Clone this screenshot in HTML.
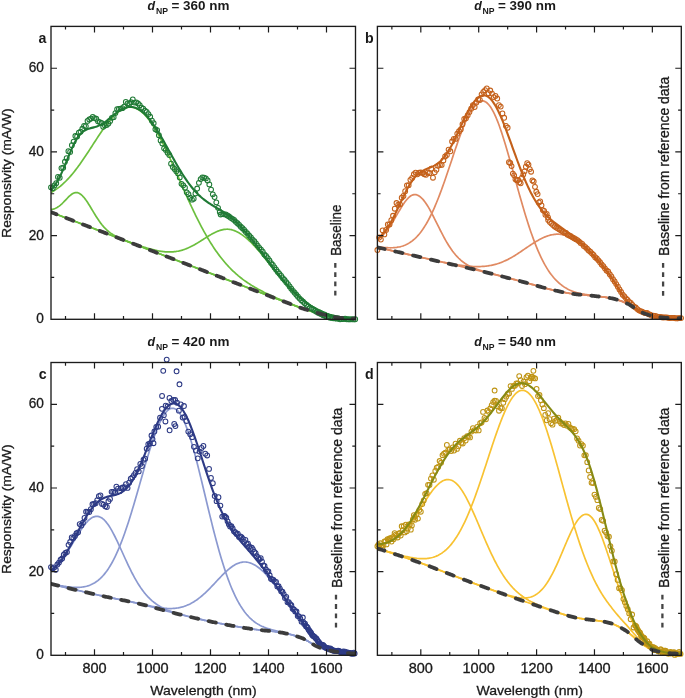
<!DOCTYPE html>
<html><head><meta charset="utf-8"><style>
html,body{margin:0;padding:0;background:#fff;width:685px;height:698px;overflow:hidden}
svg{display:block}
text{font-family:"Liberation Sans",sans-serif} svg{will-change:transform}
</style></head><body>
<svg width="685" height="698" viewBox="0 0 685 698">
<rect width="685" height="698" fill="#fff"/>
<clipPath id="clipa"><rect x="51.0" y="26.4" width="304.5" height="295.90000000000003"/></clipPath>
<g clip-path="url(#clipa)" fill="none" stroke-linejoin="round">
<path d="M51.00,212.18 L52.02,212.57 L53.04,212.96 L54.06,213.35 L55.07,213.74 L56.09,214.13 L57.11,214.52 L58.13,214.91 L59.15,215.30 L60.17,215.69 L61.18,216.08 L62.20,216.47 L63.22,216.87 L64.24,217.26 L65.26,217.65 L66.28,218.04 L67.29,218.43 L68.31,218.82 L69.33,219.21 L70.35,219.60 L71.37,219.99 L72.39,220.38 L73.40,220.77 L74.42,221.16 L75.44,221.55 L76.46,221.94 L77.48,222.33 L78.50,222.72 L79.52,223.11 L80.53,223.50 L81.55,223.89 L82.57,224.28 L83.59,224.67 L84.61,225.06 L85.63,225.45 L86.64,225.84 L87.66,226.23 L88.68,226.62 L89.70,227.01 L90.72,227.40 L91.74,227.79 L92.75,228.18 L93.77,228.57 L94.79,228.96 L95.81,229.35 L96.83,229.74 L97.85,230.13 L98.86,230.52 L99.88,230.91 L100.90,231.30 L101.92,231.70 L102.94,232.09 L103.96,232.48 L104.97,232.87 L105.99,233.26 L107.01,233.65 L108.03,234.04 L109.05,234.43 L110.07,234.82 L111.09,235.21 L112.10,235.60 L113.12,235.99 L114.14,236.38 L115.16,236.77 L116.18,237.16 L117.20,237.55 L118.21,237.94 L119.23,238.33 L120.25,238.72 L121.27,239.11 L122.29,239.50 L123.31,239.89 L124.32,240.28 L125.34,240.67 L126.36,241.06 L127.38,241.45 L128.40,241.84 L129.42,242.23 L130.43,242.62 L131.45,243.01 L132.47,243.40 L133.49,243.79 L134.51,244.19 L135.53,244.58 L136.55,244.97 L137.56,245.36 L138.58,245.75 L139.60,246.14 L140.62,246.53 L141.64,246.92 L142.66,247.31 L143.67,247.70 L144.69,248.09 L145.71,248.48 L146.73,248.87 L147.75,249.26 L148.77,249.65 L149.78,250.04 L150.80,250.43 L151.82,250.82 L152.84,251.21 L153.86,251.60 L154.88,251.99 L155.89,252.38 L156.91,252.77 L157.93,253.16 L158.95,253.55 L159.97,253.94 L160.99,254.33 L162.01,254.72 L163.02,255.11 L164.04,255.50 L165.06,255.90 L166.08,256.29 L167.10,256.68 L168.12,257.07 L169.13,257.46 L170.15,257.85 L171.17,258.24 L172.19,258.63 L173.21,259.02 L174.23,259.41 L175.24,259.80 L176.26,260.19 L177.28,260.58 L178.30,260.97 L179.32,261.36 L180.34,261.75 L181.35,262.14 L182.37,262.53 L183.39,262.92 L184.41,263.31 L185.43,263.70 L186.45,264.09 L187.46,264.48 L188.48,264.87 L189.50,265.26 L190.52,265.65 L191.54,266.05 L192.56,266.44 L193.58,266.83 L194.59,267.22 L195.61,267.61 L196.63,268.00 L197.65,268.39 L198.67,268.78 L199.69,269.17 L200.70,269.56 L201.72,269.95 L202.74,270.34 L203.76,270.73 L204.78,271.12 L205.80,271.51 L206.81,271.90 L207.83,272.29 L208.85,272.68 L209.87,273.07 L210.89,273.46 L211.91,273.85 L212.92,274.25 L213.94,274.64 L214.96,275.03 L215.98,275.42 L217.00,275.81 L218.02,276.20 L219.04,276.60 L220.05,276.99 L221.07,277.38 L222.09,277.77 L223.11,278.17 L224.13,278.56 L225.15,278.95 L226.16,279.35 L227.18,279.74 L228.20,280.14 L229.22,280.53 L230.24,280.92 L231.26,281.32 L232.27,281.71 L233.29,282.11 L234.31,282.50 L235.33,282.89 L236.35,283.29 L237.37,283.68 L238.38,284.08 L239.40,284.47 L240.42,284.86 L241.44,285.26 L242.46,285.65 L243.48,286.05 L244.49,286.44 L245.51,286.83 L246.53,287.23 L247.55,287.62 L248.57,288.01 L249.59,288.41 L250.61,288.80 L251.62,289.19 L252.64,289.59 L253.66,289.98 L254.68,290.37 L255.70,290.76 L256.72,291.15 L257.73,291.55 L258.75,291.94 L259.77,292.33 L260.79,292.72 L261.81,293.11 L262.83,293.50 L263.84,293.89 L264.86,294.28 L265.88,294.67 L266.90,295.06 L267.92,295.45 L268.94,295.83 L269.95,296.22 L270.97,296.61 L271.99,297.00 L273.01,297.38 L274.03,297.77 L275.05,298.16 L276.07,298.54 L277.08,298.93 L278.10,299.31 L279.12,299.69 L280.14,300.08 L281.16,300.46 L282.18,300.84 L283.19,301.23 L284.21,301.61 L285.23,301.99 L286.25,302.37 L287.27,302.75 L288.29,303.13 L289.30,303.52 L290.32,303.90 L291.34,304.29 L292.36,304.68 L293.38,305.07 L294.40,305.46 L295.41,305.84 L296.43,306.23 L297.45,306.61 L298.47,306.99 L299.49,307.36 L300.51,307.73 L301.53,308.09 L302.54,308.45 L303.56,308.80 L304.58,309.15 L305.60,309.48 L306.62,309.81 L307.64,310.13 L308.65,310.45 L309.67,310.76 L310.69,311.06 L311.71,311.37 L312.73,311.66 L313.75,311.96 L314.76,312.24 L315.78,312.53 L316.80,312.81 L317.82,313.09 L318.84,313.36 L319.86,313.64 L320.87,313.91 L321.89,314.18 L322.91,314.46 L323.93,314.74 L324.95,315.02 L325.97,315.29 L326.98,315.55 L328.00,315.81 L329.02,316.05 L330.04,316.28 L331.06,316.48 L332.08,316.67 L333.10,316.83 L334.11,316.99 L335.13,317.15 L336.15,317.30 L337.17,317.43 L338.19,317.57 L339.21,317.69 L340.22,317.80 L341.24,317.91 L342.26,318.00 L343.28,318.08 L344.30,318.16 L345.32,318.22 L346.33,318.29 L347.35,318.35 L348.37,318.41 L349.39,318.47 L350.41,318.52 L351.43,318.57 L352.44,318.60 L353.46,318.64 L354.48,318.66 L355.50,318.67" stroke="#6cbf3e" stroke-width="1.7"/>
<path d="M51.00,209.46 L52.02,209.33 L53.04,209.12 L54.06,208.84 L55.07,208.47 L56.09,208.02 L57.11,207.47 L58.13,206.84 L59.15,206.13 L60.17,205.33 L61.18,204.45 L62.20,203.51 L63.22,202.51 L64.24,201.47 L65.26,200.40 L66.28,199.31 L67.29,198.24 L68.31,197.20 L69.33,196.22 L70.35,195.30 L71.37,194.49 L72.39,193.79 L73.40,193.23 L74.42,192.82 L75.44,192.59 L76.46,192.54 L77.48,192.68 L78.50,193.01 L79.52,193.52 L80.53,194.18 L81.55,195.00 L82.57,195.96 L83.59,197.06 L84.61,198.29 L85.63,199.62 L86.64,201.06 L87.66,202.58 L88.68,204.17 L89.70,205.82 L90.72,207.50 L91.74,209.20 L92.75,210.91 L93.77,212.61 L94.79,214.29 L95.81,215.93 L96.83,217.54 L97.85,219.09 L98.86,220.59 L99.88,222.02 L100.90,223.39 L101.92,224.69 L102.94,225.91 L103.96,227.07 L104.97,228.16 L105.99,229.17 L107.01,230.13 L108.03,231.02 L109.05,231.85 L110.07,232.63 L111.09,233.37 L112.10,234.05 L113.12,234.70 L114.14,235.31 L115.16,235.88 L116.18,236.43 L117.20,236.96 L118.21,237.46 L119.23,237.94 L120.25,238.41 L121.27,238.86 L122.29,239.30 L123.31,239.73 L124.32,240.16 L125.34,240.57 L126.36,240.99 L127.38,241.39 L128.40,241.80 L129.42,242.20 L130.43,242.60 L131.45,242.99 L132.47,243.39 L133.49,243.78 L134.51,244.18 L135.53,244.57 L136.55,244.96 L137.56,245.35 L138.58,245.74 L139.60,246.13 L140.62,246.53 L141.64,246.92 L142.66,247.31 L143.67,247.70 L144.69,248.09 L145.71,248.48 L146.73,248.87 L147.75,249.26 L148.77,249.65 L149.78,250.04 L150.80,250.43 L151.82,250.82 L152.84,251.21 L153.86,251.60 L154.88,251.99 L155.89,252.38 L156.91,252.77 L157.93,253.16 L158.95,253.55 L159.97,253.94 L160.99,254.33 L162.01,254.72 L163.02,255.11 L164.04,255.50 L165.06,255.90 L166.08,256.29 L167.10,256.68 L168.12,257.07 L169.13,257.46 L170.15,257.85 L171.17,258.24 L172.19,258.63 L173.21,259.02 L174.23,259.41 L175.24,259.80 L176.26,260.19 L177.28,260.58 L178.30,260.97 L179.32,261.36 L180.34,261.75 L181.35,262.14 L182.37,262.53 L183.39,262.92 L184.41,263.31 L185.43,263.70 L186.45,264.09 L187.46,264.48 L188.48,264.87 L189.50,265.26 L190.52,265.65 L191.54,266.05 L192.56,266.44 L193.58,266.83 L194.59,267.22 L195.61,267.61 L196.63,268.00 L197.65,268.39 L198.67,268.78 L199.69,269.17 L200.70,269.56 L201.72,269.95 L202.74,270.34 L203.76,270.73 L204.78,271.12 L205.80,271.51 L206.81,271.90 L207.83,272.29 L208.85,272.68 L209.87,273.07 L210.89,273.46 L211.91,273.85 L212.92,274.25 L213.94,274.64 L214.96,275.03 L215.98,275.42 L217.00,275.81 L218.02,276.20 L219.04,276.60 L220.05,276.99 L221.07,277.38 L222.09,277.77 L223.11,278.17 L224.13,278.56 L225.15,278.95 L226.16,279.35 L227.18,279.74 L228.20,280.14 L229.22,280.53 L230.24,280.92 L231.26,281.32 L232.27,281.71 L233.29,282.11 L234.31,282.50 L235.33,282.89 L236.35,283.29 L237.37,283.68 L238.38,284.08 L239.40,284.47 L240.42,284.86 L241.44,285.26 L242.46,285.65 L243.48,286.05 L244.49,286.44 L245.51,286.83 L246.53,287.23 L247.55,287.62 L248.57,288.01 L249.59,288.41 L250.61,288.80 L251.62,289.19 L252.64,289.59 L253.66,289.98 L254.68,290.37 L255.70,290.76 L256.72,291.15 L257.73,291.55 L258.75,291.94 L259.77,292.33 L260.79,292.72 L261.81,293.11 L262.83,293.50 L263.84,293.89 L264.86,294.28 L265.88,294.67 L266.90,295.06 L267.92,295.45 L268.94,295.83 L269.95,296.22 L270.97,296.61 L271.99,297.00 L273.01,297.38 L274.03,297.77 L275.05,298.16 L276.07,298.54 L277.08,298.93 L278.10,299.31 L279.12,299.69 L280.14,300.08 L281.16,300.46 L282.18,300.84 L283.19,301.23 L284.21,301.61 L285.23,301.99 L286.25,302.37 L287.27,302.75 L288.29,303.13 L289.30,303.52 L290.32,303.90 L291.34,304.29 L292.36,304.68 L293.38,305.07 L294.40,305.46 L295.41,305.84 L296.43,306.23 L297.45,306.61 L298.47,306.99 L299.49,307.36 L300.51,307.73 L301.53,308.09 L302.54,308.45 L303.56,308.80 L304.58,309.15 L305.60,309.48 L306.62,309.81 L307.64,310.13 L308.65,310.45 L309.67,310.76 L310.69,311.06 L311.71,311.37 L312.73,311.66 L313.75,311.96 L314.76,312.24 L315.78,312.53 L316.80,312.81 L317.82,313.09 L318.84,313.36 L319.86,313.64 L320.87,313.91 L321.89,314.18 L322.91,314.46 L323.93,314.74 L324.95,315.02 L325.97,315.29 L326.98,315.55 L328.00,315.81 L329.02,316.05 L330.04,316.28 L331.06,316.48 L332.08,316.67 L333.10,316.83 L334.11,316.99 L335.13,317.15 L336.15,317.30 L337.17,317.43 L338.19,317.57 L339.21,317.69 L340.22,317.80 L341.24,317.91 L342.26,318.00 L343.28,318.08 L344.30,318.16 L345.32,318.22 L346.33,318.29 L347.35,318.35 L348.37,318.41 L349.39,318.47 L350.41,318.52 L351.43,318.57 L352.44,318.60 L353.46,318.64 L354.48,318.66 L355.50,318.67" stroke="#6cbf3e" stroke-width="1.7"/>
<path d="M51.00,192.44 L52.02,191.90 L53.04,191.32 L54.06,190.70 L55.07,190.06 L56.09,189.38 L57.11,188.67 L58.13,187.92 L59.15,187.15 L60.17,186.33 L61.18,185.48 L62.20,184.60 L63.22,183.68 L64.24,182.73 L65.26,181.75 L66.28,180.73 L67.29,179.68 L68.31,178.59 L69.33,177.48 L70.35,176.33 L71.37,175.15 L72.39,173.93 L73.40,172.69 L74.42,171.42 L75.44,170.12 L76.46,168.79 L77.48,167.44 L78.50,166.06 L79.52,164.65 L80.53,163.23 L81.55,161.78 L82.57,160.31 L83.59,158.82 L84.61,157.32 L85.63,155.80 L86.64,154.27 L87.66,152.73 L88.68,151.17 L89.70,149.61 L90.72,148.04 L91.74,146.47 L92.75,144.90 L93.77,143.33 L94.79,141.76 L95.81,140.19 L96.83,138.64 L97.85,137.09 L98.86,135.56 L99.88,134.04 L100.90,132.53 L101.92,131.05 L102.94,129.59 L103.96,128.16 L104.97,126.75 L105.99,125.37 L107.01,124.02 L108.03,122.71 L109.05,121.44 L110.07,120.20 L111.09,119.01 L112.10,117.86 L113.12,116.76 L114.14,115.71 L115.16,114.70 L116.18,113.76 L117.20,112.86 L118.21,112.03 L119.23,111.25 L120.25,110.54 L121.27,109.89 L122.29,109.30 L123.31,108.78 L124.32,108.33 L125.34,107.95 L126.36,107.64 L127.38,107.40 L128.40,107.23 L129.42,107.14 L130.43,107.12 L131.45,107.18 L132.47,107.31 L133.49,107.52 L134.51,107.81 L135.53,108.17 L136.55,108.61 L137.56,109.12 L138.58,109.71 L139.60,110.37 L140.62,111.10 L141.64,111.91 L142.66,112.79 L143.67,113.74 L144.69,114.76 L145.71,115.86 L146.73,117.02 L147.75,118.25 L148.77,119.54 L149.78,120.90 L150.80,122.32 L151.82,123.81 L152.84,125.35 L153.86,126.95 L154.88,128.61 L155.89,130.32 L156.91,132.08 L157.93,133.89 L158.95,135.75 L159.97,137.66 L160.99,139.61 L162.01,141.60 L163.02,143.63 L164.04,145.70 L165.06,147.80 L166.08,149.93 L167.10,152.09 L168.12,154.28 L169.13,156.49 L170.15,158.73 L171.17,160.98 L172.19,163.25 L173.21,165.54 L174.23,167.84 L175.24,170.15 L176.26,172.46 L177.28,174.79 L178.30,177.11 L179.32,179.44 L180.34,181.76 L181.35,184.09 L182.37,186.41 L183.39,188.72 L184.41,191.02 L185.43,193.31 L186.45,195.59 L187.46,197.86 L188.48,200.11 L189.50,202.34 L190.52,204.55 L191.54,206.75 L192.56,208.92 L193.58,211.07 L194.59,213.19 L195.61,215.29 L196.63,217.36 L197.65,219.41 L198.67,221.42 L199.69,223.41 L200.70,225.37 L201.72,227.30 L202.74,229.20 L203.76,231.06 L204.78,232.90 L205.80,234.70 L206.81,236.47 L207.83,238.20 L208.85,239.91 L209.87,241.58 L210.89,243.21 L211.91,244.82 L212.92,246.39 L213.94,247.92 L214.96,249.43 L215.98,250.90 L217.00,252.34 L218.02,253.75 L219.04,255.12 L220.05,256.46 L221.07,257.78 L222.09,259.06 L223.11,260.31 L224.13,261.53 L225.15,262.72 L226.16,263.89 L227.18,265.02 L228.20,266.13 L229.22,267.21 L230.24,268.26 L231.26,269.29 L232.27,270.29 L233.29,271.27 L234.31,272.22 L235.33,273.15 L236.35,274.06 L237.37,274.94 L238.38,275.81 L239.40,276.65 L240.42,277.47 L241.44,278.27 L242.46,279.06 L243.48,279.82 L244.49,280.57 L245.51,281.30 L246.53,282.01 L247.55,282.71 L248.57,283.39 L249.59,284.06 L250.61,284.71 L251.62,285.35 L252.64,285.98 L253.66,286.59 L254.68,287.19 L255.70,287.78 L256.72,288.36 L257.73,288.93 L258.75,289.49 L259.77,290.04 L260.79,290.58 L261.81,291.11 L262.83,291.63 L263.84,292.15 L264.86,292.65 L265.88,293.15 L266.90,293.64 L267.92,294.13 L268.94,294.61 L269.95,295.08 L270.97,295.55 L271.99,296.01 L273.01,296.47 L274.03,296.92 L275.05,297.37 L276.07,297.81 L277.08,298.25 L278.10,298.68 L279.12,299.11 L280.14,299.54 L281.16,299.96 L282.18,300.38 L283.19,300.80 L284.21,301.22 L285.23,301.63 L286.25,302.04 L287.27,302.44 L288.29,302.85 L289.30,303.26 L290.32,303.66 L291.34,304.07 L292.36,304.48 L293.38,304.88 L294.40,305.28 L295.41,305.69 L296.43,306.08 L297.45,306.48 L298.47,306.86 L299.49,307.25 L300.51,307.63 L301.53,308.00 L302.54,308.37 L303.56,308.72 L304.58,309.07 L305.60,309.42 L306.62,309.75 L307.64,310.08 L308.65,310.40 L309.67,310.71 L310.69,311.02 L311.71,311.33 L312.73,311.63 L313.75,311.92 L314.76,312.22 L315.78,312.50 L316.80,312.79 L317.82,313.07 L318.84,313.35 L319.86,313.62 L320.87,313.89 L321.89,314.17 L322.91,314.45 L323.93,314.73 L324.95,315.01 L325.97,315.28 L326.98,315.55 L328.00,315.80 L329.02,316.05 L330.04,316.27 L331.06,316.48 L332.08,316.66 L333.10,316.83 L334.11,316.99 L335.13,317.14 L336.15,317.29 L337.17,317.43 L338.19,317.56 L339.21,317.69 L340.22,317.80 L341.24,317.91 L342.26,318.00 L343.28,318.08 L344.30,318.15 L345.32,318.22 L346.33,318.29 L347.35,318.35 L348.37,318.41 L349.39,318.47 L350.41,318.52 L351.43,318.57 L352.44,318.60 L353.46,318.63 L354.48,318.66 L355.50,318.67" stroke="#6cbf3e" stroke-width="1.7"/>
<path d="M51.00,212.18 L52.02,212.57 L53.04,212.96 L54.06,213.35 L55.07,213.74 L56.09,214.13 L57.11,214.52 L58.13,214.91 L59.15,215.30 L60.17,215.69 L61.18,216.08 L62.20,216.47 L63.22,216.87 L64.24,217.26 L65.26,217.65 L66.28,218.04 L67.29,218.43 L68.31,218.82 L69.33,219.21 L70.35,219.60 L71.37,219.99 L72.39,220.38 L73.40,220.77 L74.42,221.16 L75.44,221.55 L76.46,221.94 L77.48,222.33 L78.50,222.72 L79.52,223.11 L80.53,223.50 L81.55,223.89 L82.57,224.28 L83.59,224.67 L84.61,225.06 L85.63,225.45 L86.64,225.84 L87.66,226.23 L88.68,226.62 L89.70,227.01 L90.72,227.40 L91.74,227.79 L92.75,228.18 L93.77,228.57 L94.79,228.96 L95.81,229.35 L96.83,229.74 L97.85,230.13 L98.86,230.52 L99.88,230.91 L100.90,231.30 L101.92,231.69 L102.94,232.08 L103.96,232.47 L104.97,232.86 L105.99,233.25 L107.01,233.64 L108.03,234.03 L109.05,234.41 L110.07,234.80 L111.09,235.19 L112.10,235.58 L113.12,235.97 L114.14,236.35 L115.16,236.74 L116.18,237.13 L117.20,237.51 L118.21,237.90 L119.23,238.28 L120.25,238.67 L121.27,239.05 L122.29,239.43 L123.31,239.81 L124.32,240.20 L125.34,240.57 L126.36,240.95 L127.38,241.33 L128.40,241.71 L129.42,242.08 L130.43,242.45 L131.45,242.82 L132.47,243.19 L133.49,243.55 L134.51,243.92 L135.53,244.28 L136.55,244.63 L137.56,244.99 L138.58,245.34 L139.60,245.68 L140.62,246.03 L141.64,246.36 L142.66,246.70 L143.67,247.02 L144.69,247.35 L145.71,247.66 L146.73,247.97 L147.75,248.27 L148.77,248.57 L149.78,248.85 L150.80,249.13 L151.82,249.40 L152.84,249.66 L153.86,249.91 L154.88,250.15 L155.89,250.37 L156.91,250.59 L157.93,250.79 L158.95,250.98 L159.97,251.15 L160.99,251.31 L162.01,251.45 L163.02,251.58 L164.04,251.69 L165.06,251.78 L166.08,251.86 L167.10,251.91 L168.12,251.95 L169.13,251.96 L170.15,251.96 L171.17,251.93 L172.19,251.88 L173.21,251.81 L174.23,251.71 L175.24,251.59 L176.26,251.45 L177.28,251.28 L178.30,251.09 L179.32,250.87 L180.34,250.62 L181.35,250.36 L182.37,250.06 L183.39,249.74 L184.41,249.40 L185.43,249.03 L186.45,248.63 L187.46,248.21 L188.48,247.77 L189.50,247.31 L190.52,246.82 L191.54,246.31 L192.56,245.78 L193.58,245.23 L194.59,244.67 L195.61,244.09 L196.63,243.49 L197.65,242.88 L198.67,242.26 L199.69,241.62 L200.70,240.98 L201.72,240.34 L202.74,239.69 L203.76,239.04 L204.78,238.38 L205.80,237.74 L206.81,237.09 L207.83,236.46 L208.85,235.83 L209.87,235.22 L210.89,234.62 L211.91,234.04 L212.92,233.48 L213.94,232.95 L214.96,232.44 L215.98,231.96 L217.00,231.51 L218.02,231.09 L219.04,230.71 L220.05,230.37 L221.07,230.07 L222.09,229.81 L223.11,229.60 L224.13,229.43 L225.15,229.31 L226.16,229.24 L227.18,229.22 L228.20,229.25 L229.22,229.34 L230.24,229.48 L231.26,229.68 L232.27,229.94 L233.29,230.25 L234.31,230.61 L235.33,231.03 L236.35,231.49 L237.37,231.99 L238.38,232.53 L239.40,233.11 L240.42,233.73 L241.44,234.39 L242.46,235.09 L243.48,235.83 L244.49,236.61 L245.51,237.42 L246.53,238.27 L247.55,239.15 L248.57,240.07 L249.59,241.02 L250.61,242.00 L251.62,243.00 L252.64,244.04 L253.66,245.11 L254.68,246.20 L255.70,247.31 L256.72,248.45 L257.73,249.60 L258.75,250.78 L259.77,251.97 L260.79,253.18 L261.81,254.40 L262.83,255.64 L263.84,256.88 L264.86,258.14 L265.88,259.40 L266.90,260.67 L267.92,261.95 L268.94,263.22 L269.95,264.50 L270.97,265.78 L271.99,267.06 L273.01,268.33 L274.03,269.60 L275.05,270.87 L276.07,272.13 L277.08,273.38 L278.10,274.62 L279.12,275.85 L280.14,277.07 L281.16,278.28 L282.18,279.47 L283.19,280.65 L284.21,281.82 L285.23,282.97 L286.25,284.11 L287.27,285.23 L288.29,286.33 L289.30,287.42 L290.32,288.50 L291.34,289.56 L292.36,290.60 L293.38,291.62 L294.40,292.63 L295.41,293.61 L296.43,294.58 L297.45,295.52 L298.47,296.44 L299.49,297.34 L300.51,298.21 L301.53,299.06 L302.54,299.89 L303.56,300.69 L304.58,301.47 L305.60,302.22 L306.62,302.95 L307.64,303.65 L308.65,304.34 L309.67,305.00 L310.69,305.64 L311.71,306.26 L312.73,306.86 L313.75,307.44 L314.76,308.00 L315.78,308.55 L316.80,309.08 L317.82,309.60 L318.84,310.10 L319.86,310.58 L320.87,311.05 L321.89,311.51 L322.91,311.97 L323.93,312.42 L324.95,312.86 L325.97,313.28 L326.98,313.68 L328.00,314.07 L329.02,314.44 L330.04,314.78 L331.06,315.10 L332.08,315.38 L333.10,315.64 L334.11,315.89 L335.13,316.13 L336.15,316.36 L337.17,316.57 L338.19,316.77 L339.21,316.96 L340.22,317.13 L341.24,317.29 L342.26,317.43 L343.28,317.56 L344.30,317.67 L345.32,317.78 L346.33,317.89 L347.35,317.98 L348.37,318.08 L349.39,318.16 L350.41,318.24 L351.43,318.31 L352.44,318.37 L353.46,318.42 L354.48,318.46 L355.50,318.50" stroke="#6cbf3e" stroke-width="1.7"/>
</g>
<g fill="none" stroke="#1f7a35" stroke-width="1.05">
<circle cx="51.00" cy="187.34" r="2.4"/>
<circle cx="52.74" cy="188.22" r="2.4"/>
<circle cx="54.48" cy="185.39" r="2.4"/>
<circle cx="56.22" cy="183.13" r="2.4"/>
<circle cx="57.96" cy="176.88" r="2.4"/>
<circle cx="59.70" cy="177.75" r="2.4"/>
<circle cx="61.44" cy="168.05" r="2.4"/>
<circle cx="63.18" cy="167.65" r="2.4"/>
<circle cx="64.92" cy="161.77" r="2.4"/>
<circle cx="66.66" cy="158.17" r="2.4"/>
<circle cx="68.40" cy="151.17" r="2.4"/>
<circle cx="70.14" cy="151.91" r="2.4"/>
<circle cx="71.88" cy="145.20" r="2.4"/>
<circle cx="73.62" cy="141.58" r="2.4"/>
<circle cx="75.36" cy="136.03" r="2.4"/>
<circle cx="77.10" cy="136.42" r="2.4"/>
<circle cx="78.84" cy="132.66" r="2.4"/>
<circle cx="80.58" cy="131.72" r="2.4"/>
<circle cx="82.32" cy="128.77" r="2.4"/>
<circle cx="84.06" cy="125.89" r="2.4"/>
<circle cx="85.80" cy="126.14" r="2.4"/>
<circle cx="87.54" cy="120.89" r="2.4"/>
<circle cx="89.28" cy="119.45" r="2.4"/>
<circle cx="91.02" cy="118.62" r="2.4"/>
<circle cx="92.76" cy="116.93" r="2.4"/>
<circle cx="94.50" cy="118.12" r="2.4"/>
<circle cx="96.24" cy="118.78" r="2.4"/>
<circle cx="97.98" cy="121.34" r="2.4"/>
<circle cx="99.72" cy="122.10" r="2.4"/>
<circle cx="101.46" cy="123.03" r="2.4"/>
<circle cx="103.20" cy="126.77" r="2.4"/>
<circle cx="104.94" cy="125.48" r="2.4"/>
<circle cx="106.68" cy="124.94" r="2.4"/>
<circle cx="108.42" cy="123.55" r="2.4"/>
<circle cx="110.16" cy="121.05" r="2.4"/>
<circle cx="111.90" cy="117.82" r="2.4"/>
<circle cx="113.64" cy="117.19" r="2.4"/>
<circle cx="115.38" cy="113.11" r="2.4"/>
<circle cx="117.12" cy="109.19" r="2.4"/>
<circle cx="118.86" cy="108.80" r="2.4"/>
<circle cx="120.60" cy="108.57" r="2.4"/>
<circle cx="122.34" cy="108.13" r="2.4"/>
<circle cx="124.08" cy="106.64" r="2.4"/>
<circle cx="125.82" cy="101.95" r="2.4"/>
<circle cx="127.56" cy="103.43" r="2.4"/>
<circle cx="129.30" cy="103.71" r="2.4"/>
<circle cx="131.04" cy="102.29" r="2.4"/>
<circle cx="132.78" cy="99.49" r="2.4"/>
<circle cx="134.52" cy="102.61" r="2.4"/>
<circle cx="136.26" cy="102.31" r="2.4"/>
<circle cx="138.00" cy="103.41" r="2.4"/>
<circle cx="139.74" cy="105.20" r="2.4"/>
<circle cx="141.48" cy="107.68" r="2.4"/>
<circle cx="143.22" cy="108.57" r="2.4"/>
<circle cx="144.96" cy="110.61" r="2.4"/>
<circle cx="146.70" cy="111.88" r="2.4"/>
<circle cx="148.44" cy="114.12" r="2.4"/>
<circle cx="150.18" cy="116.76" r="2.4"/>
<circle cx="151.92" cy="120.64" r="2.4"/>
<circle cx="153.66" cy="123.17" r="2.4"/>
<circle cx="155.40" cy="129.28" r="2.4"/>
<circle cx="157.14" cy="130.18" r="2.4"/>
<circle cx="158.88" cy="135.20" r="2.4"/>
<circle cx="160.62" cy="140.42" r="2.4"/>
<circle cx="162.36" cy="143.38" r="2.4"/>
<circle cx="164.10" cy="148.37" r="2.4"/>
<circle cx="165.84" cy="149.90" r="2.4"/>
<circle cx="167.58" cy="152.67" r="2.4"/>
<circle cx="169.32" cy="155.04" r="2.4"/>
<circle cx="171.06" cy="163.63" r="2.4"/>
<circle cx="172.80" cy="167.04" r="2.4"/>
<circle cx="174.54" cy="168.97" r="2.4"/>
<circle cx="176.28" cy="171.26" r="2.4"/>
<circle cx="178.02" cy="173.42" r="2.4"/>
<circle cx="179.76" cy="177.38" r="2.4"/>
<circle cx="181.50" cy="183.87" r="2.4"/>
<circle cx="183.24" cy="185.37" r="2.4"/>
<circle cx="184.98" cy="187.63" r="2.4"/>
<circle cx="186.72" cy="192.32" r="2.4"/>
<circle cx="188.46" cy="194.24" r="2.4"/>
<circle cx="190.20" cy="197.76" r="2.4"/>
<circle cx="191.94" cy="199.69" r="2.4"/>
<circle cx="193.68" cy="198.74" r="2.4"/>
<circle cx="195.42" cy="193.47" r="2.4"/>
<circle cx="197.16" cy="188.51" r="2.4"/>
<circle cx="198.90" cy="182.82" r="2.4"/>
<circle cx="200.64" cy="179.05" r="2.4"/>
<circle cx="202.38" cy="177.48" r="2.4"/>
<circle cx="204.12" cy="177.72" r="2.4"/>
<circle cx="205.86" cy="178.44" r="2.4"/>
<circle cx="207.60" cy="180.47" r="2.4"/>
<circle cx="209.34" cy="184.40" r="2.4"/>
<circle cx="211.08" cy="189.60" r="2.4"/>
<circle cx="212.82" cy="194.32" r="2.4"/>
<circle cx="214.56" cy="197.07" r="2.4"/>
<circle cx="216.30" cy="202.36" r="2.4"/>
<circle cx="218.04" cy="207.87" r="2.4"/>
<circle cx="219.78" cy="212.01" r="2.4"/>
<circle cx="220.65" cy="214.50" r="2.4"/>
<circle cx="222.33" cy="214.18" r="2.4"/>
<circle cx="224.01" cy="214.32" r="2.4"/>
<circle cx="225.70" cy="214.40" r="2.4"/>
<circle cx="227.38" cy="215.49" r="2.4"/>
<circle cx="229.06" cy="216.47" r="2.4"/>
<circle cx="230.74" cy="217.84" r="2.4"/>
<circle cx="232.42" cy="218.80" r="2.4"/>
<circle cx="234.11" cy="220.01" r="2.4"/>
<circle cx="235.79" cy="221.81" r="2.4"/>
<circle cx="237.47" cy="223.26" r="2.4"/>
<circle cx="239.15" cy="224.83" r="2.4"/>
<circle cx="240.83" cy="226.74" r="2.4"/>
<circle cx="242.52" cy="228.19" r="2.4"/>
<circle cx="244.20" cy="229.88" r="2.4"/>
<circle cx="245.88" cy="231.99" r="2.4"/>
<circle cx="247.56" cy="233.61" r="2.4"/>
<circle cx="249.24" cy="235.77" r="2.4"/>
<circle cx="250.93" cy="237.48" r="2.4"/>
<circle cx="252.61" cy="239.72" r="2.4"/>
<circle cx="254.29" cy="241.27" r="2.4"/>
<circle cx="255.97" cy="243.43" r="2.4"/>
<circle cx="257.65" cy="245.58" r="2.4"/>
<circle cx="259.34" cy="247.80" r="2.4"/>
<circle cx="261.02" cy="249.58" r="2.4"/>
<circle cx="262.70" cy="251.60" r="2.4"/>
<circle cx="264.38" cy="254.38" r="2.4"/>
<circle cx="266.06" cy="256.01" r="2.4"/>
<circle cx="267.75" cy="258.09" r="2.4"/>
<circle cx="269.43" cy="260.53" r="2.4"/>
<circle cx="271.11" cy="263.07" r="2.4"/>
<circle cx="272.79" cy="264.99" r="2.4"/>
<circle cx="274.47" cy="267.41" r="2.4"/>
<circle cx="276.16" cy="269.70" r="2.4"/>
<circle cx="277.84" cy="271.99" r="2.4"/>
<circle cx="279.52" cy="273.83" r="2.4"/>
<circle cx="281.20" cy="275.90" r="2.4"/>
<circle cx="282.88" cy="278.20" r="2.4"/>
<circle cx="284.57" cy="280.03" r="2.4"/>
<circle cx="286.25" cy="282.28" r="2.4"/>
<circle cx="287.93" cy="284.12" r="2.4"/>
<circle cx="289.61" cy="286.48" r="2.4"/>
<circle cx="291.29" cy="288.70" r="2.4"/>
<circle cx="292.98" cy="290.82" r="2.4"/>
<circle cx="294.66" cy="292.74" r="2.4"/>
<circle cx="296.34" cy="294.78" r="2.4"/>
<circle cx="298.02" cy="296.73" r="2.4"/>
<circle cx="299.70" cy="298.55" r="2.4"/>
<circle cx="301.39" cy="300.24" r="2.4"/>
<circle cx="303.07" cy="301.76" r="2.4"/>
<circle cx="304.75" cy="303.37" r="2.4"/>
<circle cx="306.43" cy="304.76" r="2.4"/>
<circle cx="308.11" cy="306.25" r="2.4"/>
<circle cx="309.80" cy="307.88" r="2.4"/>
<circle cx="311.48" cy="308.51" r="2.4"/>
<circle cx="313.16" cy="309.47" r="2.4"/>
<circle cx="314.84" cy="310.87" r="2.4"/>
<circle cx="316.52" cy="311.86" r="2.4"/>
<circle cx="318.21" cy="312.72" r="2.4"/>
<circle cx="319.89" cy="313.53" r="2.4"/>
<circle cx="321.57" cy="314.28" r="2.4"/>
<circle cx="323.25" cy="315.23" r="2.4"/>
<circle cx="324.93" cy="315.85" r="2.4"/>
<circle cx="326.62" cy="316.63" r="2.4"/>
<circle cx="328.30" cy="317.06" r="2.4"/>
<circle cx="329.98" cy="317.68" r="2.4"/>
<circle cx="331.66" cy="317.88" r="2.4"/>
<circle cx="333.34" cy="318.26" r="2.4"/>
<circle cx="335.03" cy="318.30" r="2.4"/>
<circle cx="336.71" cy="318.63" r="2.4"/>
<circle cx="338.39" cy="318.46" r="2.4"/>
<circle cx="340.07" cy="319.27" r="2.4"/>
<circle cx="341.75" cy="319.15" r="2.4"/>
<circle cx="343.44" cy="318.94" r="2.4"/>
<circle cx="345.12" cy="318.74" r="2.4"/>
<circle cx="346.80" cy="319.28" r="2.4"/>
<circle cx="348.48" cy="319.29" r="2.4"/>
<circle cx="350.16" cy="319.38" r="2.4"/>
<circle cx="351.85" cy="319.15" r="2.4"/>
<circle cx="353.53" cy="319.42" r="2.4"/>
<circle cx="355.21" cy="319.23" r="2.4"/>
</g>
<g clip-path="url(#clipa)" fill="none" stroke-linejoin="round">
<path d="M51.00,189.72 L52.02,188.65 L53.04,187.48 L54.06,186.19 L55.07,184.79 L56.09,183.26 L57.11,181.62 L58.13,179.85 L59.15,177.97 L60.17,175.96 L61.18,173.85 L62.20,171.64 L63.22,169.33 L64.24,166.94 L65.26,164.50 L66.28,162.01 L67.29,159.50 L68.31,156.98 L69.33,154.49 L70.35,152.03 L71.37,149.65 L72.39,147.34 L73.40,145.15 L74.42,143.08 L75.44,141.16 L76.46,139.39 L77.48,137.79 L78.50,136.35 L79.52,135.07 L80.53,133.91 L81.55,132.89 L82.57,131.99 L83.59,131.21 L84.61,130.55 L85.63,129.97 L86.64,129.49 L87.66,129.08 L88.68,128.72 L89.70,128.41 L90.72,128.14 L91.74,127.88 L92.75,127.62 L93.77,127.36 L94.79,127.08 L95.81,126.77 L96.83,126.43 L97.85,126.05 L98.86,125.62 L99.88,125.14 L100.90,124.62 L101.92,124.04 L102.94,123.41 L103.96,122.74 L104.97,122.03 L105.99,121.28 L107.01,120.49 L108.03,119.68 L109.05,118.85 L110.07,118.00 L111.09,117.15 L112.10,116.29 L113.12,115.45 L114.14,114.61 L115.16,113.79 L116.18,113.00 L117.20,112.23 L118.21,111.50 L119.23,110.82 L120.25,110.17 L121.27,109.58 L122.29,109.04 L123.31,108.55 L124.32,108.12 L125.34,107.76 L126.36,107.45 L127.38,107.22 L128.40,107.05 L129.42,106.95 L130.43,106.92 L131.45,106.97 L132.47,107.08 L133.49,107.27 L134.51,107.53 L135.53,107.86 L136.55,108.27 L137.56,108.75 L138.58,109.30 L139.60,109.91 L140.62,110.60 L141.64,111.36 L142.66,112.18 L143.67,113.07 L144.69,114.02 L145.71,115.04 L146.73,116.12 L147.75,117.26 L148.77,118.46 L149.78,119.71 L150.80,121.02 L151.82,122.38 L152.84,123.80 L153.86,125.26 L154.88,126.76 L155.89,128.31 L156.91,129.89 L157.93,131.52 L158.95,133.18 L159.97,134.87 L160.99,136.59 L162.01,138.33 L163.02,140.10 L164.04,141.88 L165.06,143.69 L166.08,145.50 L167.10,147.33 L168.12,149.16 L169.13,151.00 L170.15,152.84 L171.17,154.67 L172.19,156.50 L173.21,158.33 L174.23,160.14 L175.24,161.94 L176.26,163.72 L177.28,165.49 L178.30,167.23 L179.32,168.95 L180.34,170.64 L181.35,172.30 L182.37,173.94 L183.39,175.54 L184.41,177.10 L185.43,178.64 L186.45,180.13 L187.46,181.59 L188.48,183.00 L189.50,184.38 L190.52,185.72 L191.54,187.01 L192.56,188.26 L193.58,189.47 L194.59,190.64 L195.61,191.77 L196.63,192.85 L197.65,193.90 L198.67,194.90 L199.69,195.87 L200.70,196.80 L201.72,197.69 L202.74,198.55 L203.76,199.37 L204.78,200.16 L205.80,200.92 L206.81,201.66 L207.83,202.37 L208.85,203.06 L209.87,203.72 L210.89,204.37 L211.91,205.00 L212.92,205.63 L213.94,206.24 L214.96,206.84 L215.98,207.44 L217.00,208.04 L218.02,208.64 L219.04,209.24 L220.05,209.85 L221.07,210.47 L222.09,211.10 L223.11,211.74 L224.13,212.40 L225.15,213.08 L226.16,213.78 L227.18,214.50 L228.20,215.25 L229.22,216.02 L230.24,216.82 L231.26,217.65 L232.27,218.52 L233.29,219.41 L234.31,220.34 L235.33,221.29 L236.35,222.26 L237.37,223.25 L238.38,224.26 L239.40,225.29 L240.42,226.34 L241.44,227.40 L242.46,228.49 L243.48,229.60 L244.49,230.73 L245.51,231.88 L246.53,233.05 L247.55,234.24 L248.57,235.44 L249.59,236.67 L250.61,237.91 L251.62,239.16 L252.64,240.43 L253.66,241.72 L254.68,243.02 L255.70,244.33 L256.72,245.66 L257.73,246.99 L258.75,248.33 L259.77,249.68 L260.79,251.04 L261.81,252.40 L262.83,253.77 L263.84,255.14 L264.86,256.51 L265.88,257.89 L266.90,259.26 L267.92,260.63 L268.94,262.00 L269.95,263.36 L270.97,264.72 L271.99,266.07 L273.01,267.42 L274.03,268.75 L275.05,270.08 L276.07,271.40 L277.08,272.70 L278.10,273.99 L279.12,275.27 L280.14,276.53 L281.16,277.78 L282.18,279.01 L283.19,280.23 L284.21,281.43 L285.23,282.61 L286.25,283.77 L287.27,284.92 L288.29,286.05 L289.30,287.16 L290.32,288.26 L291.34,289.34 L292.36,290.40 L293.38,291.44 L294.40,292.46 L295.41,293.45 L296.43,294.43 L297.45,295.39 L298.47,296.32 L299.49,297.23 L300.51,298.11 L301.53,298.97 L302.54,299.80 L303.56,300.61 L304.58,301.40 L305.60,302.16 L306.62,302.89 L307.64,303.60 L308.65,304.29 L309.67,304.95 L310.69,305.60 L311.71,306.22 L312.73,306.82 L313.75,307.41 L314.76,307.98 L315.78,308.53 L316.80,309.06 L317.82,309.58 L318.84,310.08 L319.86,310.56 L320.87,311.03 L321.89,311.50 L322.91,311.96 L323.93,312.41 L324.95,312.84 L325.97,313.27 L326.98,313.68 L328.00,314.06 L329.02,314.43 L330.04,314.78 L331.06,315.09 L332.08,315.38 L333.10,315.64 L334.11,315.89 L335.13,316.13 L336.15,316.35 L337.17,316.57 L338.19,316.77 L339.21,316.95 L340.22,317.13 L341.24,317.28 L342.26,317.43 L343.28,317.56 L344.30,317.67 L345.32,317.78 L346.33,317.88 L347.35,317.98 L348.37,318.07 L349.39,318.16 L350.41,318.24 L351.43,318.31 L352.44,318.37 L353.46,318.42 L354.48,318.46 L355.50,318.50" stroke="#1f7a35" stroke-width="2.1"/>
<path d="M51.00,212.18 L52.02,212.57 L53.04,212.96 L54.06,213.35 L55.07,213.74 L56.09,214.13 L57.11,214.52 L58.13,214.91 L59.15,215.30 L60.17,215.69 L61.18,216.08 L62.20,216.47 L63.22,216.87 L64.24,217.26 L65.26,217.65 L66.28,218.04 L67.29,218.43 L68.31,218.82 L69.33,219.21 L70.35,219.60 L71.37,219.99 L72.39,220.38 L73.40,220.77 L74.42,221.16 L75.44,221.55 L76.46,221.94 L77.48,222.33 L78.50,222.72 L79.52,223.11 L80.53,223.50 L81.55,223.89 L82.57,224.28 L83.59,224.67 L84.61,225.06 L85.63,225.45 L86.64,225.84 L87.66,226.23 L88.68,226.62 L89.70,227.01 L90.72,227.40 L91.74,227.79 L92.75,228.18 L93.77,228.57 L94.79,228.96 L95.81,229.35 L96.83,229.74 L97.85,230.13 L98.86,230.52 L99.88,230.91 L100.90,231.30 L101.92,231.70 L102.94,232.09 L103.96,232.48 L104.97,232.87 L105.99,233.26 L107.01,233.65 L108.03,234.04 L109.05,234.43 L110.07,234.82 L111.09,235.21 L112.10,235.60 L113.12,235.99 L114.14,236.38 L115.16,236.77 L116.18,237.16 L117.20,237.55 L118.21,237.94 L119.23,238.33 L120.25,238.72 L121.27,239.11 L122.29,239.50 L123.31,239.89 L124.32,240.28 L125.34,240.67 L126.36,241.06 L127.38,241.45 L128.40,241.84 L129.42,242.23 L130.43,242.62 L131.45,243.01 L132.47,243.40 L133.49,243.79 L134.51,244.19 L135.53,244.58 L136.55,244.97 L137.56,245.36 L138.58,245.75 L139.60,246.14 L140.62,246.53 L141.64,246.92 L142.66,247.31 L143.67,247.70 L144.69,248.09 L145.71,248.48 L146.73,248.87 L147.75,249.26 L148.77,249.65 L149.78,250.04 L150.80,250.43 L151.82,250.82 L152.84,251.21 L153.86,251.60 L154.88,251.99 L155.89,252.38 L156.91,252.77 L157.93,253.16 L158.95,253.55 L159.97,253.94 L160.99,254.33 L162.01,254.72 L163.02,255.11 L164.04,255.50 L165.06,255.90 L166.08,256.29 L167.10,256.68 L168.12,257.07 L169.13,257.46 L170.15,257.85 L171.17,258.24 L172.19,258.63 L173.21,259.02 L174.23,259.41 L175.24,259.80 L176.26,260.19 L177.28,260.58 L178.30,260.97 L179.32,261.36 L180.34,261.75 L181.35,262.14 L182.37,262.53 L183.39,262.92 L184.41,263.31 L185.43,263.70 L186.45,264.09 L187.46,264.48 L188.48,264.87 L189.50,265.26 L190.52,265.65 L191.54,266.05 L192.56,266.44 L193.58,266.83 L194.59,267.22 L195.61,267.61 L196.63,268.00 L197.65,268.39 L198.67,268.78 L199.69,269.17 L200.70,269.56 L201.72,269.95 L202.74,270.34 L203.76,270.73 L204.78,271.12 L205.80,271.51 L206.81,271.90 L207.83,272.29 L208.85,272.68 L209.87,273.07 L210.89,273.46 L211.91,273.85 L212.92,274.25 L213.94,274.64 L214.96,275.03 L215.98,275.42 L217.00,275.81 L218.02,276.20 L219.04,276.60 L220.05,276.99 L221.07,277.38 L222.09,277.77 L223.11,278.17 L224.13,278.56 L225.15,278.95 L226.16,279.35 L227.18,279.74 L228.20,280.14 L229.22,280.53 L230.24,280.92 L231.26,281.32 L232.27,281.71 L233.29,282.11 L234.31,282.50 L235.33,282.89 L236.35,283.29 L237.37,283.68 L238.38,284.08 L239.40,284.47 L240.42,284.86 L241.44,285.26 L242.46,285.65 L243.48,286.05 L244.49,286.44 L245.51,286.83 L246.53,287.23 L247.55,287.62 L248.57,288.01 L249.59,288.41 L250.61,288.80 L251.62,289.19 L252.64,289.59 L253.66,289.98 L254.68,290.37 L255.70,290.76 L256.72,291.15 L257.73,291.55 L258.75,291.94 L259.77,292.33 L260.79,292.72 L261.81,293.11 L262.83,293.50 L263.84,293.89 L264.86,294.28 L265.88,294.67 L266.90,295.06 L267.92,295.45 L268.94,295.83 L269.95,296.22 L270.97,296.61 L271.99,297.00 L273.01,297.38 L274.03,297.77 L275.05,298.16 L276.07,298.54 L277.08,298.93 L278.10,299.31 L279.12,299.69 L280.14,300.08 L281.16,300.46 L282.18,300.84 L283.19,301.23 L284.21,301.61 L285.23,301.99 L286.25,302.37 L287.27,302.75 L288.29,303.13 L289.30,303.52 L290.32,303.90 L291.34,304.29 L292.36,304.68 L293.38,305.07 L294.40,305.46 L295.41,305.84 L296.43,306.23 L297.45,306.61 L298.47,306.99 L299.49,307.36 L300.51,307.73 L301.53,308.09 L302.54,308.45 L303.56,308.80 L304.58,309.15 L305.60,309.48 L306.62,309.81 L307.64,310.13 L308.65,310.45 L309.67,310.76 L310.69,311.06 L311.71,311.37 L312.73,311.66 L313.75,311.96 L314.76,312.24 L315.78,312.53 L316.80,312.81 L317.82,313.09 L318.84,313.36 L319.86,313.64 L320.87,313.91 L321.89,314.18 L322.91,314.46 L323.93,314.74 L324.95,315.02 L325.97,315.29 L326.98,315.55 L328.00,315.81 L329.02,316.05 L330.04,316.28 L331.06,316.48 L332.08,316.67 L333.10,316.83 L334.11,316.99 L335.13,317.15 L336.15,317.30 L337.17,317.43 L338.19,317.57 L339.21,317.69 L340.22,317.80 L341.24,317.91 L342.26,318.00 L343.28,318.08 L344.30,318.16 L345.32,318.22 L346.33,318.29 L347.35,318.35 L348.37,318.41 L349.39,318.47 L350.41,318.52 L351.43,318.57 L352.44,318.60 L353.46,318.64 L354.48,318.66 L355.50,318.67" stroke="#3c3c3c" stroke-width="3.8" stroke-dasharray="7.4 10.5" stroke-linecap="round" stroke-dashoffset="1.5"/>
</g>
<rect x="51.0" y="26.4" width="304.5" height="292.90000000000003" fill="none" stroke="#1c1c1c" stroke-width="1.35"/>
<path d="M65.50,319.30 v-3.2 M65.50,26.40 v3.2 M94.50,319.30 v-6.0 M94.50,26.40 v6.0 M123.50,319.30 v-3.2 M123.50,26.40 v3.2 M152.50,319.30 v-6.0 M152.50,26.40 v6.0 M181.50,319.30 v-3.2 M181.50,26.40 v3.2 M210.50,319.30 v-6.0 M210.50,26.40 v6.0 M239.50,319.30 v-3.2 M239.50,26.40 v3.2 M268.50,319.30 v-6.0 M268.50,26.40 v6.0 M297.50,319.30 v-3.2 M297.50,26.40 v3.2 M326.50,319.30 v-6.0 M326.50,26.40 v6.0 M51.00,277.46 h3.2 M355.50,277.46 h-3.2 M51.00,235.61 h6.0 M355.50,235.61 h-6.0 M51.00,193.77 h3.2 M355.50,193.77 h-3.2 M51.00,151.93 h6.0 M355.50,151.93 h-6.0 M51.00,110.09 h3.2 M355.50,110.09 h-3.2 M51.00,68.24 h6.0 M355.50,68.24 h-6.0" stroke="#1c1c1c" stroke-width="1.2" fill="none"/>
<clipPath id="clipb"><rect x="377.4" y="26.4" width="303.9" height="295.90000000000003"/></clipPath>
<g clip-path="url(#clipb)" fill="none" stroke-linejoin="round">
<path d="M377.40,247.33 L378.42,247.56 L379.43,247.80 L380.45,248.03 L381.47,248.26 L382.48,248.50 L383.50,248.73 L384.51,248.96 L385.53,249.19 L386.55,249.43 L387.56,249.66 L388.58,249.89 L389.60,250.13 L390.61,250.36 L391.63,250.59 L392.65,250.83 L393.66,251.06 L394.68,251.29 L395.69,251.53 L396.71,251.76 L397.73,251.99 L398.74,252.22 L399.76,252.46 L400.78,252.69 L401.79,252.92 L402.81,253.16 L403.83,253.39 L404.84,253.62 L405.86,253.86 L406.88,254.09 L407.89,254.32 L408.91,254.56 L409.92,254.79 L410.94,255.02 L411.96,255.26 L412.97,255.49 L413.99,255.72 L415.01,255.96 L416.02,256.19 L417.04,256.42 L418.06,256.66 L419.07,256.89 L420.09,257.12 L421.10,257.36 L422.12,257.59 L423.14,257.82 L424.15,258.06 L425.17,258.29 L426.19,258.52 L427.20,258.76 L428.22,258.99 L429.24,259.22 L430.25,259.46 L431.27,259.69 L432.28,259.93 L433.30,260.16 L434.32,260.39 L435.33,260.62 L436.35,260.86 L437.37,261.09 L438.38,261.32 L439.40,261.55 L440.42,261.78 L441.43,262.01 L442.45,262.24 L443.47,262.47 L444.48,262.70 L445.50,262.93 L446.51,263.16 L447.53,263.39 L448.55,263.62 L449.56,263.84 L450.58,264.07 L451.60,264.30 L452.61,264.53 L453.63,264.76 L454.65,264.99 L455.66,265.22 L456.68,265.45 L457.69,265.68 L458.71,265.91 L459.73,266.14 L460.74,266.38 L461.76,266.61 L462.78,266.84 L463.79,267.07 L464.81,267.30 L465.83,267.54 L466.84,267.77 L467.86,268.01 L468.87,268.24 L469.89,268.48 L470.91,268.71 L471.92,268.95 L472.94,269.19 L473.96,269.43 L474.97,269.67 L475.99,269.91 L477.01,270.15 L478.02,270.39 L479.04,270.63 L480.06,270.88 L481.07,271.12 L482.09,271.37 L483.10,271.61 L484.12,271.86 L485.14,272.11 L486.15,272.36 L487.17,272.61 L488.19,272.86 L489.20,273.12 L490.22,273.37 L491.24,273.63 L492.25,273.88 L493.27,274.14 L494.28,274.40 L495.30,274.66 L496.32,274.91 L497.33,275.17 L498.35,275.43 L499.37,275.70 L500.38,275.96 L501.40,276.22 L502.42,276.48 L503.43,276.75 L504.45,277.01 L505.46,277.27 L506.48,277.54 L507.50,277.80 L508.51,278.07 L509.53,278.34 L510.55,278.60 L511.56,278.87 L512.58,279.13 L513.60,279.40 L514.61,279.67 L515.63,279.94 L516.65,280.20 L517.66,280.47 L518.68,280.74 L519.69,281.01 L520.71,281.27 L521.73,281.54 L522.74,281.81 L523.76,282.08 L524.78,282.35 L525.79,282.63 L526.81,282.91 L527.83,283.20 L528.84,283.48 L529.86,283.77 L530.87,284.06 L531.89,284.35 L532.91,284.64 L533.92,284.93 L534.94,285.22 L535.96,285.51 L536.97,285.80 L537.99,286.09 L539.01,286.38 L540.02,286.66 L541.04,286.95 L542.05,287.23 L543.07,287.51 L544.09,287.78 L545.10,288.06 L546.12,288.33 L547.14,288.59 L548.15,288.85 L549.17,289.11 L550.19,289.36 L551.20,289.60 L552.22,289.84 L553.24,290.08 L554.25,290.30 L555.27,290.53 L556.28,290.74 L557.30,290.96 L558.32,291.18 L559.33,291.40 L560.35,291.61 L561.37,291.82 L562.38,292.02 L563.40,292.23 L564.42,292.42 L565.43,292.62 L566.45,292.81 L567.46,292.99 L568.48,293.17 L569.50,293.33 L570.51,293.50 L571.53,293.65 L572.55,293.80 L573.56,293.94 L574.58,294.07 L575.60,294.19 L576.61,294.31 L577.63,294.41 L578.64,294.52 L579.66,294.62 L580.68,294.71 L581.69,294.81 L582.71,294.90 L583.73,294.99 L584.74,295.07 L585.76,295.16 L586.78,295.25 L587.79,295.34 L588.81,295.44 L589.83,295.53 L590.84,295.63 L591.86,295.74 L592.87,295.85 L593.89,295.97 L594.91,296.08 L595.92,296.19 L596.94,296.30 L597.96,296.41 L598.97,296.53 L599.99,296.64 L601.01,296.76 L602.02,296.88 L603.04,297.01 L604.05,297.14 L605.07,297.28 L606.09,297.42 L607.10,297.57 L608.12,297.73 L609.14,297.89 L610.15,298.07 L611.17,298.25 L612.19,298.45 L613.20,298.67 L614.22,298.91 L615.23,299.17 L616.25,299.46 L617.27,299.76 L618.28,300.08 L619.30,300.43 L620.32,300.78 L621.33,301.16 L622.35,301.54 L623.37,301.94 L624.38,302.35 L625.40,302.77 L626.42,303.20 L627.43,303.64 L628.45,304.15 L629.46,304.71 L630.48,305.32 L631.50,305.97 L632.51,306.65 L633.53,307.34 L634.55,308.04 L635.56,308.74 L636.58,309.43 L637.60,310.10 L638.61,310.74 L639.63,311.34 L640.64,311.88 L641.66,312.37 L642.68,312.79 L643.69,313.19 L644.71,313.57 L645.73,313.95 L646.74,314.31 L647.76,314.65 L648.78,314.97 L649.79,315.27 L650.81,315.54 L651.82,315.79 L652.84,316.02 L653.86,316.21 L654.87,316.39 L655.89,316.57 L656.91,316.74 L657.92,316.91 L658.94,317.07 L659.96,317.22 L660.97,317.36 L661.99,317.49 L663.01,317.61 L664.02,317.72 L665.04,317.82 L666.05,317.90 L667.07,317.97 L668.09,318.02 L669.10,318.05 L670.12,318.08 L671.14,318.11 L672.15,318.13 L673.17,318.16 L674.19,318.18 L675.20,318.20 L676.22,318.21 L677.23,318.23 L678.25,318.24 L679.27,318.25 L680.28,318.25 L681.30,318.25" stroke="#e08a62" stroke-width="1.7"/>
<path d="M377.40,239.50 L378.42,238.85 L379.43,238.13 L380.45,237.34 L381.47,236.47 L382.48,235.52 L383.50,234.50 L384.51,233.40 L385.53,232.22 L386.55,230.97 L387.56,229.64 L388.58,228.24 L389.60,226.78 L390.61,225.25 L391.63,223.67 L392.65,222.04 L393.66,220.36 L394.68,218.65 L395.69,216.92 L396.71,215.17 L397.73,213.42 L398.74,211.68 L399.76,209.95 L400.78,208.26 L401.79,206.61 L402.81,205.02 L403.83,203.49 L404.84,202.05 L405.86,200.71 L406.88,199.47 L407.89,198.34 L408.91,197.35 L409.92,196.50 L410.94,195.79 L411.96,195.24 L412.97,194.84 L413.99,194.62 L415.01,194.56 L416.02,194.68 L417.04,194.97 L418.06,195.40 L419.07,195.97 L420.09,196.69 L421.10,197.54 L422.12,198.53 L423.14,199.65 L424.15,200.89 L425.17,202.24 L426.19,203.71 L427.20,205.27 L428.22,206.93 L429.24,208.67 L430.25,210.48 L431.27,212.36 L432.28,214.29 L433.30,216.26 L434.32,218.27 L435.33,220.30 L436.35,222.35 L437.37,224.40 L438.38,226.44 L439.40,228.48 L440.42,230.50 L441.43,232.49 L442.45,234.44 L443.47,236.36 L444.48,238.24 L445.50,240.06 L446.51,241.83 L447.53,243.55 L448.55,245.20 L449.56,246.79 L450.58,248.32 L451.60,249.79 L452.61,251.19 L453.63,252.52 L454.65,253.79 L455.66,255.00 L456.68,256.14 L457.69,257.22 L458.71,258.25 L459.73,259.21 L460.74,260.12 L461.76,260.98 L462.78,261.79 L463.79,262.55 L464.81,263.26 L465.83,263.93 L466.84,264.57 L467.86,265.16 L468.87,265.73 L469.89,266.26 L470.91,266.76 L471.92,267.23 L472.94,267.68 L473.96,268.11 L474.97,268.52 L475.99,268.91 L477.01,269.28 L478.02,269.64 L479.04,269.98 L480.06,270.32 L481.07,270.64 L482.09,270.95 L483.10,271.26 L484.12,271.56 L485.14,271.85 L486.15,272.14 L487.17,272.43 L488.19,272.71 L489.20,272.99 L490.22,273.26 L491.24,273.53 L492.25,273.80 L493.27,274.07 L494.28,274.34 L495.30,274.61 L496.32,274.88 L497.33,275.14 L498.35,275.41 L499.37,275.67 L500.38,275.94 L501.40,276.21 L502.42,276.47 L503.43,276.74 L504.45,277.00 L505.46,277.27 L506.48,277.53 L507.50,277.80 L508.51,278.07 L509.53,278.33 L510.55,278.60 L511.56,278.87 L512.58,279.13 L513.60,279.40 L514.61,279.67 L515.63,279.94 L516.65,280.20 L517.66,280.47 L518.68,280.74 L519.69,281.00 L520.71,281.27 L521.73,281.54 L522.74,281.81 L523.76,282.08 L524.78,282.35 L525.79,282.63 L526.81,282.91 L527.83,283.20 L528.84,283.48 L529.86,283.77 L530.87,284.06 L531.89,284.35 L532.91,284.64 L533.92,284.93 L534.94,285.22 L535.96,285.51 L536.97,285.80 L537.99,286.09 L539.01,286.38 L540.02,286.66 L541.04,286.95 L542.05,287.23 L543.07,287.51 L544.09,287.78 L545.10,288.06 L546.12,288.33 L547.14,288.59 L548.15,288.85 L549.17,289.11 L550.19,289.36 L551.20,289.60 L552.22,289.84 L553.24,290.08 L554.25,290.30 L555.27,290.53 L556.28,290.74 L557.30,290.96 L558.32,291.18 L559.33,291.40 L560.35,291.61 L561.37,291.82 L562.38,292.02 L563.40,292.23 L564.42,292.42 L565.43,292.62 L566.45,292.81 L567.46,292.99 L568.48,293.17 L569.50,293.33 L570.51,293.50 L571.53,293.65 L572.55,293.80 L573.56,293.94 L574.58,294.07 L575.60,294.19 L576.61,294.31 L577.63,294.41 L578.64,294.52 L579.66,294.62 L580.68,294.71 L581.69,294.81 L582.71,294.90 L583.73,294.99 L584.74,295.07 L585.76,295.16 L586.78,295.25 L587.79,295.34 L588.81,295.44 L589.83,295.53 L590.84,295.63 L591.86,295.74 L592.87,295.85 L593.89,295.97 L594.91,296.08 L595.92,296.19 L596.94,296.30 L597.96,296.41 L598.97,296.53 L599.99,296.64 L601.01,296.76 L602.02,296.88 L603.04,297.01 L604.05,297.14 L605.07,297.28 L606.09,297.42 L607.10,297.57 L608.12,297.73 L609.14,297.89 L610.15,298.07 L611.17,298.25 L612.19,298.45 L613.20,298.67 L614.22,298.91 L615.23,299.17 L616.25,299.46 L617.27,299.76 L618.28,300.08 L619.30,300.43 L620.32,300.78 L621.33,301.16 L622.35,301.54 L623.37,301.94 L624.38,302.35 L625.40,302.77 L626.42,303.20 L627.43,303.64 L628.45,304.15 L629.46,304.71 L630.48,305.32 L631.50,305.97 L632.51,306.65 L633.53,307.34 L634.55,308.04 L635.56,308.74 L636.58,309.43 L637.60,310.10 L638.61,310.74 L639.63,311.34 L640.64,311.88 L641.66,312.37 L642.68,312.79 L643.69,313.19 L644.71,313.57 L645.73,313.95 L646.74,314.31 L647.76,314.65 L648.78,314.97 L649.79,315.27 L650.81,315.54 L651.82,315.79 L652.84,316.02 L653.86,316.21 L654.87,316.39 L655.89,316.57 L656.91,316.74 L657.92,316.91 L658.94,317.07 L659.96,317.22 L660.97,317.36 L661.99,317.49 L663.01,317.61 L664.02,317.72 L665.04,317.82 L666.05,317.90 L667.07,317.97 L668.09,318.02 L669.10,318.05 L670.12,318.08 L671.14,318.11 L672.15,318.13 L673.17,318.16 L674.19,318.18 L675.20,318.20 L676.22,318.21 L677.23,318.23 L678.25,318.24 L679.27,318.25 L680.28,318.25 L681.30,318.25" stroke="#e08a62" stroke-width="1.7"/>
<path d="M377.40,246.61 L378.42,246.76 L379.43,246.91 L380.45,247.05 L381.47,247.17 L382.48,247.29 L383.50,247.40 L384.51,247.50 L385.53,247.58 L386.55,247.65 L387.56,247.71 L388.58,247.75 L389.60,247.77 L390.61,247.78 L391.63,247.76 L392.65,247.73 L393.66,247.67 L394.68,247.59 L395.69,247.49 L396.71,247.36 L397.73,247.20 L398.74,247.02 L399.76,246.80 L400.78,246.55 L401.79,246.26 L402.81,245.94 L403.83,245.58 L404.84,245.18 L405.86,244.74 L406.88,244.25 L407.89,243.71 L408.91,243.13 L409.92,242.50 L410.94,241.81 L411.96,241.07 L412.97,240.28 L413.99,239.42 L415.01,238.51 L416.02,237.53 L417.04,236.49 L418.06,235.38 L419.07,234.21 L420.09,232.96 L421.10,231.65 L422.12,230.27 L423.14,228.81 L424.15,227.28 L425.17,225.67 L426.19,223.99 L427.20,222.23 L428.22,220.40 L429.24,218.49 L430.25,216.50 L431.27,214.44 L432.28,212.30 L433.30,210.09 L434.32,207.80 L435.33,205.45 L436.35,203.02 L437.37,200.53 L438.38,197.97 L439.40,195.35 L440.42,192.66 L441.43,189.93 L442.45,187.14 L443.47,184.30 L444.48,181.42 L445.50,178.49 L446.51,175.54 L447.53,172.55 L448.55,169.54 L449.56,166.51 L450.58,163.47 L451.60,160.43 L452.61,157.38 L453.63,154.34 L454.65,151.32 L455.66,148.32 L456.68,145.35 L457.69,142.41 L458.71,139.51 L459.73,136.67 L460.74,133.89 L461.76,131.17 L462.78,128.52 L463.79,125.96 L464.81,123.48 L465.83,121.10 L466.84,118.82 L467.86,116.65 L468.87,114.59 L469.89,112.66 L470.91,110.85 L471.92,109.18 L472.94,107.65 L473.96,106.26 L474.97,105.02 L475.99,103.94 L477.01,103.01 L478.02,102.24 L479.04,101.64 L480.06,101.21 L481.07,100.94 L482.09,100.84 L483.10,100.92 L484.12,101.17 L485.14,101.60 L486.15,102.22 L487.17,103.03 L488.19,104.03 L489.20,105.20 L490.22,106.56 L491.24,108.09 L492.25,109.79 L493.27,111.66 L494.28,113.69 L495.30,115.87 L496.32,118.21 L497.33,120.69 L498.35,123.30 L499.37,126.05 L500.38,128.91 L501.40,131.89 L502.42,134.98 L503.43,138.16 L504.45,141.43 L505.46,144.78 L506.48,148.21 L507.50,151.69 L508.51,155.24 L509.53,158.83 L510.55,162.45 L511.56,166.11 L512.58,169.79 L513.60,173.48 L514.61,177.18 L515.63,180.87 L516.65,184.56 L517.66,188.23 L518.68,191.87 L519.69,195.49 L520.71,199.07 L521.73,202.61 L522.74,206.10 L523.76,209.54 L524.78,212.93 L525.79,216.26 L526.81,219.53 L527.83,222.74 L528.84,225.87 L529.86,228.94 L530.87,231.92 L531.89,234.83 L532.91,237.66 L533.92,240.41 L534.94,243.08 L535.96,245.67 L536.97,248.17 L537.99,250.58 L539.01,252.91 L540.02,255.16 L541.04,257.32 L542.05,259.40 L543.07,261.39 L544.09,263.31 L545.10,265.14 L546.12,266.89 L547.14,268.57 L548.15,270.17 L549.17,271.69 L550.19,273.14 L551.20,274.52 L552.22,275.83 L553.24,277.07 L554.25,278.24 L555.27,279.36 L556.28,280.41 L557.30,281.42 L558.32,282.37 L559.33,283.27 L560.35,284.13 L561.37,284.93 L562.38,285.70 L563.40,286.42 L564.42,287.10 L565.43,287.74 L566.45,288.34 L567.46,288.91 L568.48,289.44 L569.50,289.94 L570.51,290.40 L571.53,290.84 L572.55,291.24 L573.56,291.62 L574.58,291.96 L575.60,292.28 L576.61,292.58 L577.63,292.85 L578.64,293.11 L579.66,293.35 L580.68,293.57 L581.69,293.78 L582.71,293.97 L583.73,294.15 L584.74,294.33 L585.76,294.49 L586.78,294.65 L587.79,294.81 L588.81,294.96 L589.83,295.11 L590.84,295.26 L591.86,295.40 L592.87,295.55 L593.89,295.70 L594.91,295.84 L595.92,295.98 L596.94,296.12 L597.96,296.25 L598.97,296.39 L599.99,296.52 L601.01,296.65 L602.02,296.79 L603.04,296.93 L604.05,297.07 L605.07,297.21 L606.09,297.36 L607.10,297.52 L608.12,297.68 L609.14,297.86 L610.15,298.04 L611.17,298.23 L612.19,298.43 L613.20,298.65 L614.22,298.89 L615.23,299.16 L616.25,299.45 L617.27,299.75 L618.28,300.08 L619.30,300.42 L620.32,300.78 L621.33,301.15 L622.35,301.54 L623.37,301.94 L624.38,302.35 L625.40,302.77 L626.42,303.20 L627.43,303.64 L628.45,304.15 L629.46,304.71 L630.48,305.32 L631.50,305.97 L632.51,306.65 L633.53,307.34 L634.55,308.04 L635.56,308.74 L636.58,309.43 L637.60,310.10 L638.61,310.74 L639.63,311.34 L640.64,311.88 L641.66,312.37 L642.68,312.79 L643.69,313.19 L644.71,313.57 L645.73,313.95 L646.74,314.31 L647.76,314.65 L648.78,314.97 L649.79,315.27 L650.81,315.54 L651.82,315.79 L652.84,316.02 L653.86,316.21 L654.87,316.39 L655.89,316.57 L656.91,316.74 L657.92,316.91 L658.94,317.07 L659.96,317.22 L660.97,317.36 L661.99,317.49 L663.01,317.61 L664.02,317.72 L665.04,317.82 L666.05,317.90 L667.07,317.97 L668.09,318.02 L669.10,318.05 L670.12,318.08 L671.14,318.11 L672.15,318.13 L673.17,318.16 L674.19,318.18 L675.20,318.20 L676.22,318.21 L677.23,318.23 L678.25,318.24 L679.27,318.25 L680.28,318.25 L681.30,318.25" stroke="#e08a62" stroke-width="1.7"/>
<path d="M377.40,247.33 L378.42,247.56 L379.43,247.80 L380.45,248.03 L381.47,248.26 L382.48,248.49 L383.50,248.73 L384.51,248.96 L385.53,249.19 L386.55,249.43 L387.56,249.66 L388.58,249.89 L389.60,250.13 L390.61,250.36 L391.63,250.59 L392.65,250.82 L393.66,251.06 L394.68,251.29 L395.69,251.52 L396.71,251.76 L397.73,251.99 L398.74,252.22 L399.76,252.46 L400.78,252.69 L401.79,252.92 L402.81,253.15 L403.83,253.39 L404.84,253.62 L405.86,253.85 L406.88,254.08 L407.89,254.32 L408.91,254.55 L409.92,254.78 L410.94,255.01 L411.96,255.25 L412.97,255.48 L413.99,255.71 L415.01,255.94 L416.02,256.17 L417.04,256.41 L418.06,256.64 L419.07,256.87 L420.09,257.10 L421.10,257.33 L422.12,257.56 L423.14,257.79 L424.15,258.02 L425.17,258.25 L426.19,258.48 L427.20,258.70 L428.22,258.93 L429.24,259.16 L430.25,259.39 L431.27,259.61 L432.28,259.84 L433.30,260.06 L434.32,260.28 L435.33,260.50 L436.35,260.72 L437.37,260.94 L438.38,261.16 L439.40,261.37 L440.42,261.58 L441.43,261.79 L442.45,262.00 L443.47,262.21 L444.48,262.41 L445.50,262.62 L446.51,262.82 L447.53,263.01 L448.55,263.21 L449.56,263.40 L450.58,263.59 L451.60,263.77 L452.61,263.96 L453.63,264.13 L454.65,264.31 L455.66,264.48 L456.68,264.65 L457.69,264.81 L458.71,264.97 L459.73,265.12 L460.74,265.26 L461.76,265.40 L462.78,265.54 L463.79,265.67 L464.81,265.79 L465.83,265.91 L466.84,266.01 L467.86,266.11 L468.87,266.20 L469.89,266.29 L470.91,266.36 L471.92,266.43 L472.94,266.48 L473.96,266.53 L474.97,266.56 L475.99,266.59 L477.01,266.60 L478.02,266.60 L479.04,266.59 L480.06,266.56 L481.07,266.52 L482.09,266.47 L483.10,266.41 L484.12,266.33 L485.14,266.23 L486.15,266.12 L487.17,265.99 L488.19,265.85 L489.20,265.69 L490.22,265.51 L491.24,265.32 L492.25,265.11 L493.27,264.88 L494.28,264.63 L495.30,264.36 L496.32,264.07 L497.33,263.77 L498.35,263.44 L499.37,263.10 L500.38,262.73 L501.40,262.35 L502.42,261.94 L503.43,261.52 L504.45,261.08 L505.46,260.62 L506.48,260.14 L507.50,259.64 L508.51,259.12 L509.53,258.59 L510.55,258.03 L511.56,257.46 L512.58,256.88 L513.60,256.28 L514.61,255.66 L515.63,255.03 L516.65,254.39 L517.66,253.73 L518.68,253.07 L519.69,252.39 L520.71,251.71 L521.73,251.02 L522.74,250.32 L523.76,249.62 L524.78,248.92 L525.79,248.22 L526.81,247.53 L527.83,246.83 L528.84,246.15 L529.86,245.46 L530.87,244.79 L531.89,244.12 L532.91,243.47 L533.92,242.82 L534.94,242.19 L535.96,241.57 L536.97,240.97 L537.99,240.39 L539.01,239.82 L540.02,239.27 L541.04,238.75 L542.05,238.25 L543.07,237.77 L544.09,237.31 L545.10,236.89 L546.12,236.49 L547.14,236.11 L548.15,235.77 L549.17,235.46 L550.19,235.18 L551.20,234.93 L552.22,234.72 L553.24,234.54 L554.25,234.40 L555.27,234.29 L556.28,234.22 L557.30,234.19 L558.32,234.21 L559.33,234.27 L560.35,234.37 L561.37,234.51 L562.38,234.70 L563.40,234.93 L564.42,235.19 L565.43,235.49 L566.45,235.83 L567.46,236.20 L568.48,236.61 L569.50,237.06 L570.51,237.53 L571.53,238.04 L572.55,238.58 L573.56,239.15 L574.58,239.75 L575.60,240.37 L576.61,241.03 L577.63,241.71 L578.64,242.42 L579.66,243.16 L580.68,243.92 L581.69,244.71 L582.71,245.53 L583.73,246.37 L584.74,247.23 L585.76,248.12 L586.78,249.04 L587.79,249.98 L588.81,250.94 L589.83,251.92 L590.84,252.92 L591.86,253.95 L592.87,255.00 L593.89,256.06 L594.91,257.14 L595.92,258.24 L596.94,259.34 L597.96,260.46 L598.97,261.60 L599.99,262.75 L601.01,263.92 L602.02,265.11 L603.04,266.32 L604.05,267.55 L605.07,268.81 L606.09,270.09 L607.10,271.41 L608.12,272.76 L609.14,274.14 L610.15,275.57 L611.17,277.03 L612.19,278.53 L613.20,280.08 L614.22,281.67 L615.23,283.30 L616.25,284.96 L617.27,286.63 L618.28,288.29 L619.30,289.94 L620.32,291.55 L621.33,293.11 L622.35,294.60 L623.37,296.02 L624.38,297.34 L625.40,298.57 L626.42,299.71 L627.43,300.77 L628.45,301.80 L629.46,302.81 L630.48,303.78 L631.50,304.74 L632.51,305.66 L633.53,306.56 L634.55,307.42 L635.56,308.25 L636.58,309.05 L637.60,309.80 L638.61,310.50 L639.63,311.15 L640.64,311.73 L641.66,312.25 L642.68,312.70 L643.69,313.12 L644.71,313.52 L645.73,313.91 L646.74,314.27 L647.76,314.62 L648.78,314.95 L649.79,315.25 L650.81,315.53 L651.82,315.78 L652.84,316.01 L653.86,316.21 L654.87,316.39 L655.89,316.57 L656.91,316.74 L657.92,316.91 L658.94,317.06 L659.96,317.22 L660.97,317.36 L661.99,317.49 L663.01,317.61 L664.02,317.72 L665.04,317.82 L666.05,317.90 L667.07,317.97 L668.09,318.02 L669.10,318.05 L670.12,318.08 L671.14,318.11 L672.15,318.13 L673.17,318.16 L674.19,318.18 L675.20,318.20 L676.22,318.21 L677.23,318.23 L678.25,318.24 L679.27,318.25 L680.28,318.25 L681.30,318.25" stroke="#e08a62" stroke-width="1.7"/>
</g>
<g fill="none" stroke="#c4601a" stroke-width="1.05">
<circle cx="377.40" cy="250.02" r="2.4"/>
<circle cx="379.14" cy="237.53" r="2.4"/>
<circle cx="380.87" cy="239.56" r="2.4"/>
<circle cx="382.61" cy="230.31" r="2.4"/>
<circle cx="384.35" cy="234.38" r="2.4"/>
<circle cx="386.08" cy="229.94" r="2.4"/>
<circle cx="387.82" cy="224.49" r="2.4"/>
<circle cx="389.56" cy="224.45" r="2.4"/>
<circle cx="391.29" cy="220.18" r="2.4"/>
<circle cx="393.03" cy="215.77" r="2.4"/>
<circle cx="394.77" cy="208.72" r="2.4"/>
<circle cx="396.50" cy="203.00" r="2.4"/>
<circle cx="398.24" cy="204.71" r="2.4"/>
<circle cx="399.98" cy="204.30" r="2.4"/>
<circle cx="401.71" cy="197.71" r="2.4"/>
<circle cx="403.45" cy="195.99" r="2.4"/>
<circle cx="405.19" cy="191.16" r="2.4"/>
<circle cx="406.92" cy="185.33" r="2.4"/>
<circle cx="408.66" cy="185.18" r="2.4"/>
<circle cx="410.39" cy="179.86" r="2.4"/>
<circle cx="412.13" cy="177.91" r="2.4"/>
<circle cx="413.87" cy="174.29" r="2.4"/>
<circle cx="415.60" cy="172.61" r="2.4"/>
<circle cx="417.34" cy="174.36" r="2.4"/>
<circle cx="419.08" cy="172.78" r="2.4"/>
<circle cx="420.81" cy="172.44" r="2.4"/>
<circle cx="422.55" cy="173.11" r="2.4"/>
<circle cx="424.29" cy="174.20" r="2.4"/>
<circle cx="426.02" cy="174.82" r="2.4"/>
<circle cx="427.76" cy="172.68" r="2.4"/>
<circle cx="429.50" cy="173.18" r="2.4"/>
<circle cx="431.23" cy="168.73" r="2.4"/>
<circle cx="432.97" cy="177.72" r="2.4"/>
<circle cx="434.71" cy="172.36" r="2.4"/>
<circle cx="436.44" cy="169.87" r="2.4"/>
<circle cx="438.18" cy="165.82" r="2.4"/>
<circle cx="439.92" cy="165.03" r="2.4"/>
<circle cx="441.65" cy="164.92" r="2.4"/>
<circle cx="443.39" cy="160.43" r="2.4"/>
<circle cx="445.13" cy="156.47" r="2.4"/>
<circle cx="446.86" cy="154.99" r="2.4"/>
<circle cx="448.60" cy="149.60" r="2.4"/>
<circle cx="450.34" cy="151.26" r="2.4"/>
<circle cx="452.07" cy="141.51" r="2.4"/>
<circle cx="453.81" cy="138.84" r="2.4"/>
<circle cx="455.55" cy="138.92" r="2.4"/>
<circle cx="457.28" cy="133.71" r="2.4"/>
<circle cx="459.02" cy="131.27" r="2.4"/>
<circle cx="460.76" cy="129.38" r="2.4"/>
<circle cx="462.49" cy="124.15" r="2.4"/>
<circle cx="464.23" cy="118.98" r="2.4"/>
<circle cx="465.97" cy="118.25" r="2.4"/>
<circle cx="467.70" cy="115.20" r="2.4"/>
<circle cx="469.44" cy="112.05" r="2.4"/>
<circle cx="471.17" cy="108.75" r="2.4"/>
<circle cx="472.91" cy="105.11" r="2.4"/>
<circle cx="474.65" cy="106.99" r="2.4"/>
<circle cx="476.38" cy="102.55" r="2.4"/>
<circle cx="478.12" cy="99.39" r="2.4"/>
<circle cx="479.86" cy="99.98" r="2.4"/>
<circle cx="481.59" cy="94.37" r="2.4"/>
<circle cx="483.33" cy="91.86" r="2.4"/>
<circle cx="485.07" cy="90.17" r="2.4"/>
<circle cx="486.80" cy="88.44" r="2.4"/>
<circle cx="488.54" cy="93.22" r="2.4"/>
<circle cx="490.28" cy="90.52" r="2.4"/>
<circle cx="492.01" cy="93.56" r="2.4"/>
<circle cx="493.75" cy="97.10" r="2.4"/>
<circle cx="495.49" cy="95.91" r="2.4"/>
<circle cx="497.22" cy="98.52" r="2.4"/>
<circle cx="498.96" cy="105.11" r="2.4"/>
<circle cx="500.70" cy="106.58" r="2.4"/>
<circle cx="502.43" cy="113.43" r="2.4"/>
<circle cx="504.17" cy="117.79" r="2.4"/>
<circle cx="505.91" cy="125.82" r="2.4"/>
<circle cx="507.64" cy="127.74" r="2.4"/>
<circle cx="508.95" cy="162.19" r="2.4"/>
<circle cx="510.25" cy="163.01" r="2.4"/>
<circle cx="511.55" cy="166.09" r="2.4"/>
<circle cx="512.85" cy="173.59" r="2.4"/>
<circle cx="514.15" cy="175.34" r="2.4"/>
<circle cx="515.46" cy="179.24" r="2.4"/>
<circle cx="516.76" cy="180.13" r="2.4"/>
<circle cx="518.06" cy="179.97" r="2.4"/>
<circle cx="519.36" cy="182.35" r="2.4"/>
<circle cx="520.67" cy="183.32" r="2.4"/>
<circle cx="521.97" cy="177.75" r="2.4"/>
<circle cx="523.27" cy="174.43" r="2.4"/>
<circle cx="524.57" cy="171.32" r="2.4"/>
<circle cx="525.88" cy="166.71" r="2.4"/>
<circle cx="527.18" cy="163.19" r="2.4"/>
<circle cx="528.48" cy="164.55" r="2.4"/>
<circle cx="529.78" cy="169.07" r="2.4"/>
<circle cx="531.09" cy="171.72" r="2.4"/>
<circle cx="532.39" cy="180.40" r="2.4"/>
<circle cx="533.69" cy="181.53" r="2.4"/>
<circle cx="534.99" cy="186.86" r="2.4"/>
<circle cx="536.30" cy="191.78" r="2.4"/>
<circle cx="537.60" cy="194.06" r="2.4"/>
<circle cx="538.90" cy="202.40" r="2.4"/>
<circle cx="540.20" cy="201.40" r="2.4"/>
<circle cx="541.51" cy="205.33" r="2.4"/>
<circle cx="542.81" cy="210.11" r="2.4"/>
<circle cx="544.11" cy="210.95" r="2.4"/>
<circle cx="545.41" cy="214.70" r="2.4"/>
<circle cx="546.72" cy="213.82" r="2.4"/>
<circle cx="548.02" cy="217.43" r="2.4"/>
<circle cx="548.16" cy="219.93" r="2.4"/>
<circle cx="549.78" cy="221.92" r="2.4"/>
<circle cx="551.40" cy="223.54" r="2.4"/>
<circle cx="553.03" cy="225.06" r="2.4"/>
<circle cx="554.65" cy="226.45" r="2.4"/>
<circle cx="556.27" cy="227.58" r="2.4"/>
<circle cx="557.89" cy="228.54" r="2.4"/>
<circle cx="559.51" cy="229.49" r="2.4"/>
<circle cx="561.13" cy="230.55" r="2.4"/>
<circle cx="562.75" cy="231.60" r="2.4"/>
<circle cx="564.37" cy="232.66" r="2.4"/>
<circle cx="565.99" cy="232.92" r="2.4"/>
<circle cx="567.61" cy="234.69" r="2.4"/>
<circle cx="569.23" cy="235.54" r="2.4"/>
<circle cx="570.85" cy="236.20" r="2.4"/>
<circle cx="572.47" cy="237.34" r="2.4"/>
<circle cx="574.10" cy="238.19" r="2.4"/>
<circle cx="575.72" cy="239.14" r="2.4"/>
<circle cx="577.34" cy="240.10" r="2.4"/>
<circle cx="578.96" cy="241.30" r="2.4"/>
<circle cx="580.58" cy="242.89" r="2.4"/>
<circle cx="582.20" cy="243.86" r="2.4"/>
<circle cx="583.82" cy="245.92" r="2.4"/>
<circle cx="585.44" cy="247.07" r="2.4"/>
<circle cx="587.06" cy="248.69" r="2.4"/>
<circle cx="588.68" cy="250.39" r="2.4"/>
<circle cx="590.30" cy="251.66" r="2.4"/>
<circle cx="591.92" cy="253.49" r="2.4"/>
<circle cx="593.55" cy="254.95" r="2.4"/>
<circle cx="595.17" cy="257.21" r="2.4"/>
<circle cx="596.79" cy="258.49" r="2.4"/>
<circle cx="598.41" cy="260.35" r="2.4"/>
<circle cx="600.03" cy="262.26" r="2.4"/>
<circle cx="601.65" cy="264.45" r="2.4"/>
<circle cx="603.27" cy="266.12" r="2.4"/>
<circle cx="604.89" cy="268.36" r="2.4"/>
<circle cx="606.51" cy="270.51" r="2.4"/>
<circle cx="608.13" cy="271.50" r="2.4"/>
<circle cx="609.75" cy="274.19" r="2.4"/>
<circle cx="611.37" cy="276.32" r="2.4"/>
<circle cx="612.99" cy="279.19" r="2.4"/>
<circle cx="614.62" cy="281.48" r="2.4"/>
<circle cx="616.24" cy="284.08" r="2.4"/>
<circle cx="617.86" cy="286.73" r="2.4"/>
<circle cx="619.48" cy="289.46" r="2.4"/>
<circle cx="621.10" cy="292.01" r="2.4"/>
<circle cx="622.72" cy="294.74" r="2.4"/>
<circle cx="624.34" cy="296.34" r="2.4"/>
<circle cx="625.96" cy="298.33" r="2.4"/>
<circle cx="627.58" cy="299.92" r="2.4"/>
<circle cx="629.20" cy="301.85" r="2.4"/>
<circle cx="630.82" cy="303.01" r="2.4"/>
<circle cx="632.44" cy="304.98" r="2.4"/>
<circle cx="634.07" cy="306.60" r="2.4"/>
<circle cx="635.69" cy="307.50" r="2.4"/>
<circle cx="637.31" cy="309.05" r="2.4"/>
<circle cx="638.93" cy="310.36" r="2.4"/>
<circle cx="640.55" cy="311.07" r="2.4"/>
<circle cx="642.17" cy="311.76" r="2.4"/>
<circle cx="643.79" cy="312.56" r="2.4"/>
<circle cx="645.41" cy="313.17" r="2.4"/>
<circle cx="647.03" cy="313.02" r="2.4"/>
<circle cx="648.65" cy="314.27" r="2.4"/>
<circle cx="650.27" cy="314.62" r="2.4"/>
<circle cx="651.89" cy="315.79" r="2.4"/>
<circle cx="653.51" cy="315.67" r="2.4"/>
<circle cx="655.14" cy="315.90" r="2.4"/>
<circle cx="656.76" cy="316.44" r="2.4"/>
<circle cx="658.38" cy="316.83" r="2.4"/>
<circle cx="660.00" cy="316.83" r="2.4"/>
<circle cx="661.62" cy="317.22" r="2.4"/>
<circle cx="663.24" cy="317.50" r="2.4"/>
<circle cx="664.86" cy="317.32" r="2.4"/>
<circle cx="666.48" cy="317.44" r="2.4"/>
<circle cx="668.10" cy="317.76" r="2.4"/>
<circle cx="669.72" cy="318.00" r="2.4"/>
<circle cx="671.34" cy="317.86" r="2.4"/>
<circle cx="672.96" cy="317.86" r="2.4"/>
<circle cx="674.59" cy="317.96" r="2.4"/>
<circle cx="676.21" cy="318.44" r="2.4"/>
<circle cx="677.83" cy="318.25" r="2.4"/>
<circle cx="679.45" cy="318.15" r="2.4"/>
<circle cx="681.07" cy="318.12" r="2.4"/>
</g>
<g clip-path="url(#clipb)" fill="none" stroke-linejoin="round">
<path d="M377.40,238.78 L378.42,238.05 L379.43,237.24 L380.45,236.35 L381.47,235.38 L382.48,234.32 L383.50,233.17 L384.51,231.93 L385.53,230.60 L386.55,229.19 L387.56,227.68 L388.58,226.09 L389.60,224.42 L390.61,222.67 L391.63,220.84 L392.65,218.94 L393.66,216.97 L394.68,214.95 L395.69,212.88 L396.71,210.77 L397.73,208.63 L398.74,206.47 L399.76,204.29 L400.78,202.11 L401.79,199.95 L402.81,197.80 L403.83,195.68 L404.84,193.60 L405.86,191.58 L406.88,189.62 L407.89,187.73 L408.91,185.92 L409.92,184.20 L410.94,182.57 L411.96,181.04 L412.97,179.62 L413.99,178.30 L415.01,177.10 L416.02,176.01 L417.04,175.01 L418.06,174.10 L419.07,173.26 L420.09,172.50 L421.10,171.81 L422.12,171.17 L423.14,170.60 L424.15,170.07 L425.17,169.58 L426.19,169.12 L427.20,168.69 L428.22,168.28 L429.24,167.87 L430.25,167.45 L431.27,167.02 L432.28,166.58 L433.30,166.09 L434.32,165.57 L435.33,165.00 L436.35,164.38 L437.37,163.69 L438.38,162.93 L439.40,162.10 L440.42,161.19 L441.43,160.19 L442.45,159.11 L443.47,157.93 L444.48,156.67 L445.50,155.31 L446.51,153.87 L447.53,152.34 L448.55,150.72 L449.56,149.02 L450.58,147.24 L451.60,145.38 L452.61,143.46 L453.63,141.48 L454.65,139.44 L455.66,137.35 L456.68,135.23 L457.69,133.08 L458.71,130.90 L459.73,128.71 L460.74,126.52 L461.76,124.34 L462.78,122.17 L463.79,120.03 L464.81,117.92 L465.83,115.86 L466.84,113.85 L467.86,111.91 L468.87,110.04 L469.89,108.25 L470.91,106.54 L471.92,104.94 L472.94,103.43 L473.96,102.04 L474.97,100.77 L475.99,99.62 L477.01,98.59 L478.02,97.70 L479.04,96.94 L480.06,96.33 L481.07,95.86 L482.09,95.53 L483.10,95.36 L484.12,95.33 L485.14,95.46 L486.15,95.76 L487.17,96.23 L488.19,96.86 L489.20,97.64 L490.22,98.59 L491.24,99.69 L492.25,100.94 L493.27,102.33 L494.28,103.86 L495.30,105.53 L496.32,107.33 L497.33,109.25 L498.35,111.28 L499.37,113.43 L500.38,115.67 L501.40,118.00 L502.42,120.43 L503.43,122.92 L504.45,125.49 L505.46,128.12 L506.48,130.80 L507.50,133.52 L508.51,136.28 L509.53,139.07 L510.55,141.88 L511.56,144.70 L512.58,147.53 L513.60,150.35 L514.61,153.17 L515.63,155.97 L516.65,158.74 L517.66,161.49 L518.68,164.20 L519.69,166.87 L520.71,169.50 L521.73,172.08 L522.74,174.61 L523.76,177.08 L524.78,179.50 L525.79,181.85 L526.81,184.15 L527.83,186.37 L528.84,188.54 L529.86,190.63 L530.87,192.66 L531.89,194.61 L532.91,196.50 L533.92,198.31 L534.94,200.05 L535.96,201.73 L536.97,203.34 L537.99,204.88 L539.01,206.36 L540.02,207.77 L541.04,209.12 L542.05,210.42 L543.07,211.65 L544.09,212.84 L545.10,213.97 L546.12,215.05 L547.14,216.09 L548.15,217.09 L549.17,218.04 L550.19,218.96 L551.20,219.85 L552.22,220.70 L553.24,221.53 L554.25,222.34 L555.27,223.12 L556.28,223.89 L557.30,224.65 L558.32,225.40 L559.33,226.15 L560.35,226.89 L561.37,227.63 L562.38,228.37 L563.40,229.12 L564.42,229.86 L565.43,230.61 L566.45,231.37 L567.46,232.12 L568.48,232.89 L569.50,233.66 L570.51,234.44 L571.53,235.23 L572.55,236.02 L573.56,236.83 L574.58,237.64 L575.60,238.47 L576.61,239.30 L577.63,240.15 L578.64,241.01 L579.66,241.89 L580.68,242.78 L581.69,243.68 L582.71,244.60 L583.73,245.54 L584.74,246.49 L585.76,247.46 L586.78,248.44 L587.79,249.44 L588.81,250.46 L589.83,251.49 L590.84,252.54 L591.86,253.61 L592.87,254.70 L593.89,255.80 L594.91,256.91 L595.92,258.03 L596.94,259.16 L597.96,260.30 L598.97,261.46 L599.99,262.62 L601.01,263.81 L602.02,265.01 L603.04,266.23 L604.05,267.48 L605.07,268.74 L606.09,270.04 L607.10,271.36 L608.12,272.72 L609.14,274.11 L610.15,275.54 L611.17,277.00 L612.19,278.51 L613.20,280.06 L614.22,281.66 L615.23,283.29 L616.25,284.95 L617.27,286.62 L618.28,288.29 L619.30,289.94 L620.32,291.55 L621.33,293.11 L622.35,294.60 L623.37,296.01 L624.38,297.34 L625.40,298.57 L626.42,299.71 L627.43,300.77 L628.45,301.80 L629.46,302.81 L630.48,303.78 L631.50,304.74 L632.51,305.66 L633.53,306.56 L634.55,307.42 L635.56,308.25 L636.58,309.05 L637.60,309.80 L638.61,310.50 L639.63,311.15 L640.64,311.73 L641.66,312.25 L642.68,312.70 L643.69,313.12 L644.71,313.52 L645.73,313.91 L646.74,314.27 L647.76,314.62 L648.78,314.95 L649.79,315.25 L650.81,315.53 L651.82,315.78 L652.84,316.01 L653.86,316.21 L654.87,316.39 L655.89,316.57 L656.91,316.74 L657.92,316.91 L658.94,317.06 L659.96,317.22 L660.97,317.36 L661.99,317.49 L663.01,317.61 L664.02,317.72 L665.04,317.82 L666.05,317.90 L667.07,317.97 L668.09,318.02 L669.10,318.05 L670.12,318.08 L671.14,318.11 L672.15,318.13 L673.17,318.16 L674.19,318.18 L675.20,318.20 L676.22,318.21 L677.23,318.23 L678.25,318.24 L679.27,318.25 L680.28,318.25 L681.30,318.25" stroke="#c4601a" stroke-width="2.1"/>
<path d="M377.40,247.33 L378.42,247.56 L379.43,247.80 L380.45,248.03 L381.47,248.26 L382.48,248.50 L383.50,248.73 L384.51,248.96 L385.53,249.19 L386.55,249.43 L387.56,249.66 L388.58,249.89 L389.60,250.13 L390.61,250.36 L391.63,250.59 L392.65,250.83 L393.66,251.06 L394.68,251.29 L395.69,251.53 L396.71,251.76 L397.73,251.99 L398.74,252.22 L399.76,252.46 L400.78,252.69 L401.79,252.92 L402.81,253.16 L403.83,253.39 L404.84,253.62 L405.86,253.86 L406.88,254.09 L407.89,254.32 L408.91,254.56 L409.92,254.79 L410.94,255.02 L411.96,255.26 L412.97,255.49 L413.99,255.72 L415.01,255.96 L416.02,256.19 L417.04,256.42 L418.06,256.66 L419.07,256.89 L420.09,257.12 L421.10,257.36 L422.12,257.59 L423.14,257.82 L424.15,258.06 L425.17,258.29 L426.19,258.52 L427.20,258.76 L428.22,258.99 L429.24,259.22 L430.25,259.46 L431.27,259.69 L432.28,259.93 L433.30,260.16 L434.32,260.39 L435.33,260.62 L436.35,260.86 L437.37,261.09 L438.38,261.32 L439.40,261.55 L440.42,261.78 L441.43,262.01 L442.45,262.24 L443.47,262.47 L444.48,262.70 L445.50,262.93 L446.51,263.16 L447.53,263.39 L448.55,263.62 L449.56,263.84 L450.58,264.07 L451.60,264.30 L452.61,264.53 L453.63,264.76 L454.65,264.99 L455.66,265.22 L456.68,265.45 L457.69,265.68 L458.71,265.91 L459.73,266.14 L460.74,266.38 L461.76,266.61 L462.78,266.84 L463.79,267.07 L464.81,267.30 L465.83,267.54 L466.84,267.77 L467.86,268.01 L468.87,268.24 L469.89,268.48 L470.91,268.71 L471.92,268.95 L472.94,269.19 L473.96,269.43 L474.97,269.67 L475.99,269.91 L477.01,270.15 L478.02,270.39 L479.04,270.63 L480.06,270.88 L481.07,271.12 L482.09,271.37 L483.10,271.61 L484.12,271.86 L485.14,272.11 L486.15,272.36 L487.17,272.61 L488.19,272.86 L489.20,273.12 L490.22,273.37 L491.24,273.63 L492.25,273.88 L493.27,274.14 L494.28,274.40 L495.30,274.66 L496.32,274.91 L497.33,275.17 L498.35,275.43 L499.37,275.70 L500.38,275.96 L501.40,276.22 L502.42,276.48 L503.43,276.75 L504.45,277.01 L505.46,277.27 L506.48,277.54 L507.50,277.80 L508.51,278.07 L509.53,278.34 L510.55,278.60 L511.56,278.87 L512.58,279.13 L513.60,279.40 L514.61,279.67 L515.63,279.94 L516.65,280.20 L517.66,280.47 L518.68,280.74 L519.69,281.01 L520.71,281.27 L521.73,281.54 L522.74,281.81 L523.76,282.08 L524.78,282.35 L525.79,282.63 L526.81,282.91 L527.83,283.20 L528.84,283.48 L529.86,283.77 L530.87,284.06 L531.89,284.35 L532.91,284.64 L533.92,284.93 L534.94,285.22 L535.96,285.51 L536.97,285.80 L537.99,286.09 L539.01,286.38 L540.02,286.66 L541.04,286.95 L542.05,287.23 L543.07,287.51 L544.09,287.78 L545.10,288.06 L546.12,288.33 L547.14,288.59 L548.15,288.85 L549.17,289.11 L550.19,289.36 L551.20,289.60 L552.22,289.84 L553.24,290.08 L554.25,290.30 L555.27,290.53 L556.28,290.74 L557.30,290.96 L558.32,291.18 L559.33,291.40 L560.35,291.61 L561.37,291.82 L562.38,292.02 L563.40,292.23 L564.42,292.42 L565.43,292.62 L566.45,292.81 L567.46,292.99 L568.48,293.17 L569.50,293.33 L570.51,293.50 L571.53,293.65 L572.55,293.80 L573.56,293.94 L574.58,294.07 L575.60,294.19 L576.61,294.31 L577.63,294.41 L578.64,294.52 L579.66,294.62 L580.68,294.71 L581.69,294.81 L582.71,294.90 L583.73,294.99 L584.74,295.07 L585.76,295.16 L586.78,295.25 L587.79,295.34 L588.81,295.44 L589.83,295.53 L590.84,295.63 L591.86,295.74 L592.87,295.85 L593.89,295.97 L594.91,296.08 L595.92,296.19 L596.94,296.30 L597.96,296.41 L598.97,296.53 L599.99,296.64 L601.01,296.76 L602.02,296.88 L603.04,297.01 L604.05,297.14 L605.07,297.28 L606.09,297.42 L607.10,297.57 L608.12,297.73 L609.14,297.89 L610.15,298.07 L611.17,298.25 L612.19,298.45 L613.20,298.67 L614.22,298.91 L615.23,299.17 L616.25,299.46 L617.27,299.76 L618.28,300.08 L619.30,300.43 L620.32,300.78 L621.33,301.16 L622.35,301.54 L623.37,301.94 L624.38,302.35 L625.40,302.77 L626.42,303.20 L627.43,303.64 L628.45,304.15 L629.46,304.71 L630.48,305.32 L631.50,305.97 L632.51,306.65 L633.53,307.34 L634.55,308.04 L635.56,308.74 L636.58,309.43 L637.60,310.10 L638.61,310.74 L639.63,311.34 L640.64,311.88 L641.66,312.37 L642.68,312.79 L643.69,313.19 L644.71,313.57 L645.73,313.95 L646.74,314.31 L647.76,314.65 L648.78,314.97 L649.79,315.27 L650.81,315.54 L651.82,315.79 L652.84,316.02 L653.86,316.21 L654.87,316.39 L655.89,316.57 L656.91,316.74 L657.92,316.91 L658.94,317.07 L659.96,317.22 L660.97,317.36 L661.99,317.49 L663.01,317.61 L664.02,317.72 L665.04,317.82 L666.05,317.90 L667.07,317.97 L668.09,318.02 L669.10,318.05 L670.12,318.08 L671.14,318.11 L672.15,318.13 L673.17,318.16 L674.19,318.18 L675.20,318.20 L676.22,318.21 L677.23,318.23 L678.25,318.24 L679.27,318.25 L680.28,318.25 L681.30,318.25" stroke="#3c3c3c" stroke-width="3.8" stroke-dasharray="7.4 10.9" stroke-linecap="round" stroke-dashoffset="0"/>
</g>
<rect x="377.4" y="26.4" width="303.9" height="292.90000000000003" fill="none" stroke="#1c1c1c" stroke-width="1.35"/>
<path d="M391.87,319.30 v-3.2 M391.87,26.40 v3.2 M420.81,319.30 v-6.0 M420.81,26.40 v6.0 M449.76,319.30 v-3.2 M449.76,26.40 v3.2 M478.70,319.30 v-6.0 M478.70,26.40 v6.0 M507.64,319.30 v-3.2 M507.64,26.40 v3.2 M536.59,319.30 v-6.0 M536.59,26.40 v6.0 M565.53,319.30 v-3.2 M565.53,26.40 v3.2 M594.47,319.30 v-6.0 M594.47,26.40 v6.0 M623.41,319.30 v-3.2 M623.41,26.40 v3.2 M652.36,319.30 v-6.0 M652.36,26.40 v6.0 M377.40,277.46 h3.2 M681.30,277.46 h-3.2 M377.40,235.61 h6.0 M681.30,235.61 h-6.0 M377.40,193.77 h3.2 M681.30,193.77 h-3.2 M377.40,151.93 h6.0 M681.30,151.93 h-6.0 M377.40,110.09 h3.2 M681.30,110.09 h-3.2 M377.40,68.24 h6.0 M681.30,68.24 h-6.0" stroke="#1c1c1c" stroke-width="1.2" fill="none"/>
<clipPath id="clipc"><rect x="51.0" y="362.5" width="304.5" height="295.79999999999995"/></clipPath>
<g clip-path="url(#clipc)" fill="none" stroke-linejoin="round">
<path d="M51.00,583.77 L52.02,584.03 L53.04,584.29 L54.06,584.55 L55.07,584.81 L56.09,585.07 L57.11,585.32 L58.13,585.58 L59.15,585.83 L60.17,586.09 L61.18,586.34 L62.20,586.59 L63.22,586.85 L64.24,587.10 L65.26,587.35 L66.28,587.60 L67.29,587.85 L68.31,588.10 L69.33,588.35 L70.35,588.59 L71.37,588.84 L72.39,589.08 L73.40,589.33 L74.42,589.57 L75.44,589.82 L76.46,590.06 L77.48,590.30 L78.50,590.54 L79.52,590.79 L80.53,591.03 L81.55,591.27 L82.57,591.50 L83.59,591.74 L84.61,591.98 L85.63,592.22 L86.64,592.45 L87.66,592.69 L88.68,592.92 L89.70,593.16 L90.72,593.39 L91.74,593.62 L92.75,593.85 L93.77,594.08 L94.79,594.32 L95.81,594.54 L96.83,594.77 L97.85,595.00 L98.86,595.23 L99.88,595.46 L100.90,595.68 L101.92,595.91 L102.94,596.13 L103.96,596.34 L104.97,596.56 L105.99,596.77 L107.01,596.99 L108.03,597.20 L109.05,597.41 L110.07,597.61 L111.09,597.82 L112.10,598.03 L113.12,598.23 L114.14,598.43 L115.16,598.64 L116.18,598.84 L117.20,599.05 L118.21,599.25 L119.23,599.45 L120.25,599.66 L121.27,599.86 L122.29,600.06 L123.31,600.27 L124.32,600.48 L125.34,600.69 L126.36,600.89 L127.38,601.11 L128.40,601.32 L129.42,601.53 L130.43,601.75 L131.45,601.97 L132.47,602.19 L133.49,602.41 L134.51,602.64 L135.53,602.86 L136.55,603.10 L137.56,603.33 L138.58,603.57 L139.60,603.81 L140.62,604.06 L141.64,604.31 L142.66,604.56 L143.67,604.82 L144.69,605.08 L145.71,605.34 L146.73,605.61 L147.75,605.88 L148.77,606.15 L149.78,606.42 L150.80,606.69 L151.82,606.97 L152.84,607.25 L153.86,607.53 L154.88,607.81 L155.89,608.09 L156.91,608.37 L157.93,608.65 L158.95,608.93 L159.97,609.21 L160.99,609.49 L162.01,609.77 L163.02,610.05 L164.04,610.33 L165.06,610.61 L166.08,610.89 L167.10,611.16 L168.12,611.44 L169.13,611.71 L170.15,611.98 L171.17,612.25 L172.19,612.51 L173.21,612.77 L174.23,613.03 L175.24,613.29 L176.26,613.54 L177.28,613.79 L178.30,614.04 L179.32,614.29 L180.34,614.54 L181.35,614.79 L182.37,615.04 L183.39,615.29 L184.41,615.54 L185.43,615.79 L186.45,616.04 L187.46,616.28 L188.48,616.53 L189.50,616.78 L190.52,617.02 L191.54,617.26 L192.56,617.51 L193.58,617.75 L194.59,617.99 L195.61,618.23 L196.63,618.47 L197.65,618.70 L198.67,618.94 L199.69,619.17 L200.70,619.40 L201.72,619.63 L202.74,619.86 L203.76,620.09 L204.78,620.31 L205.80,620.54 L206.81,620.76 L207.83,620.98 L208.85,621.20 L209.87,621.41 L210.89,621.62 L211.91,621.83 L212.92,622.04 L213.94,622.25 L214.96,622.45 L215.98,622.66 L217.00,622.86 L218.02,623.06 L219.04,623.26 L220.05,623.46 L221.07,623.66 L222.09,623.86 L223.11,624.05 L224.13,624.25 L225.15,624.44 L226.16,624.64 L227.18,624.83 L228.20,625.02 L229.22,625.21 L230.24,625.39 L231.26,625.58 L232.27,625.77 L233.29,625.95 L234.31,626.13 L235.33,626.31 L236.35,626.49 L237.37,626.67 L238.38,626.84 L239.40,627.01 L240.42,627.19 L241.44,627.35 L242.46,627.52 L243.48,627.69 L244.49,627.85 L245.51,628.01 L246.53,628.17 L247.55,628.33 L248.57,628.49 L249.59,628.64 L250.61,628.79 L251.62,628.94 L252.64,629.08 L253.66,629.22 L254.68,629.36 L255.70,629.49 L256.72,629.61 L257.73,629.73 L258.75,629.85 L259.77,629.96 L260.79,630.07 L261.81,630.18 L262.83,630.29 L263.84,630.40 L264.86,630.51 L265.88,630.61 L266.90,630.72 L267.92,630.83 L268.94,630.94 L269.95,631.05 L270.97,631.16 L271.99,631.28 L273.01,631.40 L274.03,631.53 L275.05,631.65 L276.07,631.79 L277.08,631.93 L278.10,632.07 L279.12,632.22 L280.14,632.38 L281.16,632.55 L282.18,632.72 L283.19,632.90 L284.21,633.10 L285.23,633.30 L286.25,633.52 L287.27,633.74 L288.29,633.98 L289.30,634.22 L290.32,634.48 L291.34,634.74 L292.36,635.02 L293.38,635.30 L294.40,635.60 L295.41,635.90 L296.43,636.22 L297.45,636.54 L298.47,636.87 L299.49,637.22 L300.51,637.57 L301.53,637.93 L302.54,638.35 L303.56,638.81 L304.58,639.32 L305.60,639.86 L306.62,640.43 L307.64,641.03 L308.65,641.64 L309.67,642.26 L310.69,642.88 L311.71,643.51 L312.73,644.12 L313.75,644.73 L314.76,645.31 L315.78,645.86 L316.80,646.38 L317.82,646.86 L318.84,647.30 L319.86,647.68 L320.87,648.02 L321.89,648.35 L322.91,648.67 L323.93,648.98 L324.95,649.28 L325.97,649.56 L326.98,649.84 L328.00,650.10 L329.02,650.35 L330.04,650.58 L331.06,650.80 L332.08,651.01 L333.10,651.20 L334.11,651.37 L335.13,651.53 L336.15,651.67 L337.17,651.81 L338.19,651.96 L339.21,652.10 L340.22,652.23 L341.24,652.37 L342.26,652.50 L343.28,652.62 L344.30,652.74 L345.32,652.85 L346.33,652.96 L347.35,653.06 L348.37,653.15 L349.39,653.23 L350.41,653.30 L351.43,653.36 L352.44,653.42 L353.46,653.46 L354.48,653.49 L355.50,653.50" stroke="#8b99d0" stroke-width="1.7"/>
<path d="M51.00,571.01 L52.02,570.25 L53.04,569.43 L54.06,568.55 L55.07,567.61 L56.09,566.62 L57.11,565.56 L58.13,564.45 L59.15,563.27 L60.17,562.04 L61.18,560.76 L62.20,559.42 L63.22,558.03 L64.24,556.59 L65.26,555.11 L66.28,553.58 L67.29,552.01 L68.31,550.41 L69.33,548.77 L70.35,547.12 L71.37,545.44 L72.39,543.75 L73.40,542.05 L74.42,540.34 L75.44,538.64 L76.46,536.96 L77.48,535.29 L78.50,533.65 L79.52,532.04 L80.53,530.47 L81.55,528.94 L82.57,527.48 L83.59,526.07 L84.61,524.73 L85.63,523.47 L86.64,522.30 L87.66,521.21 L88.68,520.22 L89.70,519.33 L90.72,518.54 L91.74,517.87 L92.75,517.32 L93.77,516.88 L94.79,516.57 L95.81,516.38 L96.83,516.33 L97.85,516.40 L98.86,516.60 L99.88,516.94 L100.90,517.42 L101.92,518.05 L102.94,518.81 L103.96,519.71 L104.97,520.73 L105.99,521.89 L107.01,523.16 L108.03,524.55 L109.05,526.06 L110.07,527.66 L111.09,529.37 L112.10,531.16 L113.12,533.04 L114.14,534.99 L115.16,537.00 L116.18,539.08 L117.20,541.20 L118.21,543.36 L119.23,545.56 L120.25,547.78 L121.27,550.02 L122.29,552.26 L123.31,554.51 L124.32,556.75 L125.34,558.98 L126.36,561.19 L127.38,563.37 L128.40,565.53 L129.42,567.65 L130.43,569.72 L131.45,571.76 L132.47,573.74 L133.49,575.67 L134.51,577.55 L135.53,579.37 L136.55,581.14 L137.56,582.84 L138.58,584.49 L139.60,586.08 L140.62,587.60 L141.64,589.06 L142.66,590.47 L143.67,591.81 L144.69,593.10 L145.71,594.33 L146.73,595.50 L147.75,596.62 L148.77,597.68 L149.78,598.69 L150.80,599.65 L151.82,600.57 L152.84,601.44 L153.86,602.26 L154.88,603.04 L155.89,603.79 L156.91,604.49 L157.93,605.16 L158.95,605.80 L159.97,606.41 L160.99,606.99 L162.01,607.54 L163.02,608.06 L164.04,608.56 L165.06,609.04 L166.08,609.49 L167.10,609.93 L168.12,610.35 L169.13,610.75 L170.15,611.13 L171.17,611.50 L172.19,611.86 L173.21,612.20 L174.23,612.53 L175.24,612.85 L176.26,613.16 L177.28,613.46 L178.30,613.76 L179.32,614.05 L180.34,614.33 L181.35,614.61 L182.37,614.88 L183.39,615.16 L184.41,615.42 L185.43,615.69 L186.45,615.95 L187.46,616.21 L188.48,616.47 L189.50,616.72 L190.52,616.98 L191.54,617.23 L192.56,617.48 L193.58,617.72 L194.59,617.97 L195.61,618.21 L196.63,618.45 L197.65,618.69 L198.67,618.93 L199.69,619.16 L200.70,619.40 L201.72,619.63 L202.74,619.86 L203.76,620.08 L204.78,620.31 L205.80,620.53 L206.81,620.76 L207.83,620.98 L208.85,621.19 L209.87,621.41 L210.89,621.62 L211.91,621.83 L212.92,622.04 L213.94,622.25 L214.96,622.45 L215.98,622.66 L217.00,622.86 L218.02,623.06 L219.04,623.26 L220.05,623.46 L221.07,623.66 L222.09,623.86 L223.11,624.05 L224.13,624.25 L225.15,624.44 L226.16,624.64 L227.18,624.83 L228.20,625.02 L229.22,625.21 L230.24,625.39 L231.26,625.58 L232.27,625.77 L233.29,625.95 L234.31,626.13 L235.33,626.31 L236.35,626.49 L237.37,626.67 L238.38,626.84 L239.40,627.01 L240.42,627.19 L241.44,627.35 L242.46,627.52 L243.48,627.69 L244.49,627.85 L245.51,628.01 L246.53,628.17 L247.55,628.33 L248.57,628.49 L249.59,628.64 L250.61,628.79 L251.62,628.94 L252.64,629.08 L253.66,629.22 L254.68,629.36 L255.70,629.49 L256.72,629.61 L257.73,629.73 L258.75,629.85 L259.77,629.96 L260.79,630.07 L261.81,630.18 L262.83,630.29 L263.84,630.40 L264.86,630.51 L265.88,630.61 L266.90,630.72 L267.92,630.83 L268.94,630.94 L269.95,631.05 L270.97,631.16 L271.99,631.28 L273.01,631.40 L274.03,631.53 L275.05,631.65 L276.07,631.79 L277.08,631.93 L278.10,632.07 L279.12,632.22 L280.14,632.38 L281.16,632.55 L282.18,632.72 L283.19,632.90 L284.21,633.10 L285.23,633.30 L286.25,633.52 L287.27,633.74 L288.29,633.98 L289.30,634.22 L290.32,634.48 L291.34,634.74 L292.36,635.02 L293.38,635.30 L294.40,635.60 L295.41,635.90 L296.43,636.22 L297.45,636.54 L298.47,636.87 L299.49,637.22 L300.51,637.57 L301.53,637.93 L302.54,638.35 L303.56,638.81 L304.58,639.32 L305.60,639.86 L306.62,640.43 L307.64,641.03 L308.65,641.64 L309.67,642.26 L310.69,642.88 L311.71,643.51 L312.73,644.12 L313.75,644.73 L314.76,645.31 L315.78,645.86 L316.80,646.38 L317.82,646.86 L318.84,647.30 L319.86,647.68 L320.87,648.02 L321.89,648.35 L322.91,648.67 L323.93,648.98 L324.95,649.28 L325.97,649.56 L326.98,649.84 L328.00,650.10 L329.02,650.35 L330.04,650.58 L331.06,650.80 L332.08,651.01 L333.10,651.20 L334.11,651.37 L335.13,651.53 L336.15,651.67 L337.17,651.81 L338.19,651.96 L339.21,652.10 L340.22,652.23 L341.24,652.37 L342.26,652.50 L343.28,652.62 L344.30,652.74 L345.32,652.85 L346.33,652.96 L347.35,653.06 L348.37,653.15 L349.39,653.23 L350.41,653.30 L351.43,653.36 L352.44,653.42 L353.46,653.46 L354.48,653.49 L355.50,653.50" stroke="#8b99d0" stroke-width="1.7"/>
<path d="M51.00,583.57 L52.02,583.81 L53.04,584.04 L54.06,584.27 L55.07,584.49 L56.09,584.71 L57.11,584.93 L58.13,585.14 L59.15,585.34 L60.17,585.54 L61.18,585.73 L62.20,585.92 L63.22,586.10 L64.24,586.27 L65.26,586.43 L66.28,586.58 L67.29,586.73 L68.31,586.86 L69.33,586.98 L70.35,587.09 L71.37,587.18 L72.39,587.26 L73.40,587.33 L74.42,587.37 L75.44,587.41 L76.46,587.42 L77.48,587.41 L78.50,587.38 L79.52,587.33 L80.53,587.25 L81.55,587.15 L82.57,587.02 L83.59,586.86 L84.61,586.68 L85.63,586.46 L86.64,586.20 L87.66,585.91 L88.68,585.58 L89.70,585.21 L90.72,584.80 L91.74,584.34 L92.75,583.84 L93.77,583.29 L94.79,582.69 L95.81,582.03 L96.83,581.32 L97.85,580.56 L98.86,579.73 L99.88,578.84 L100.90,577.89 L101.92,576.86 L102.94,575.77 L103.96,574.61 L104.97,573.37 L105.99,572.06 L107.01,570.67 L108.03,569.20 L109.05,567.64 L110.07,566.01 L111.09,564.30 L112.10,562.50 L113.12,560.61 L114.14,558.64 L115.16,556.58 L116.18,554.44 L117.20,552.21 L118.21,549.89 L119.23,547.49 L120.25,545.00 L121.27,542.42 L122.29,539.77 L123.31,537.03 L124.32,534.21 L125.34,531.31 L126.36,528.34 L127.38,525.30 L128.40,522.19 L129.42,519.01 L130.43,515.77 L131.45,512.47 L132.47,509.12 L133.49,505.72 L134.51,502.28 L135.53,498.80 L136.55,495.29 L137.56,491.75 L138.58,488.19 L139.60,484.63 L140.62,481.05 L141.64,477.48 L142.66,473.92 L143.67,470.37 L144.69,466.85 L145.71,463.36 L146.73,459.91 L147.75,456.50 L148.77,453.15 L149.78,449.87 L150.80,446.65 L151.82,443.51 L152.84,440.46 L153.86,437.51 L154.88,434.65 L155.89,431.91 L156.91,429.29 L157.93,426.79 L158.95,424.42 L159.97,422.19 L160.99,420.11 L162.01,418.18 L163.02,416.40 L164.04,414.79 L165.06,413.35 L166.08,412.08 L167.10,410.98 L168.12,410.07 L169.13,409.34 L170.15,408.79 L171.17,408.43 L172.19,408.26 L173.21,408.28 L174.23,408.50 L175.24,408.92 L176.26,409.55 L177.28,410.39 L178.30,411.45 L179.32,412.72 L180.34,414.20 L181.35,415.87 L182.37,417.75 L183.39,419.82 L184.41,422.07 L185.43,424.51 L186.45,427.12 L187.46,429.90 L188.48,432.84 L189.50,435.93 L190.52,439.16 L191.54,442.53 L192.56,446.02 L193.58,449.63 L194.59,453.35 L195.61,457.16 L196.63,461.06 L197.65,465.04 L198.67,469.09 L199.69,473.20 L200.70,477.35 L201.72,481.54 L202.74,485.77 L203.76,490.01 L204.78,494.26 L205.80,498.52 L206.81,502.77 L207.83,507.01 L208.85,511.22 L209.87,515.40 L210.89,519.55 L211.91,523.65 L212.92,527.70 L213.94,531.70 L214.96,535.63 L215.98,539.49 L217.00,543.29 L218.02,547.01 L219.04,550.65 L220.05,554.20 L221.07,557.67 L222.09,561.05 L223.11,564.34 L224.13,567.54 L225.15,570.64 L226.16,573.64 L227.18,576.55 L228.20,579.36 L229.22,582.07 L230.24,584.69 L231.26,587.20 L232.27,589.62 L233.29,591.95 L234.31,594.18 L235.33,596.31 L236.35,598.36 L237.37,600.31 L238.38,602.18 L239.40,603.96 L240.42,605.66 L241.44,607.27 L242.46,608.81 L243.48,610.27 L244.49,611.65 L245.51,612.97 L246.53,614.21 L247.55,615.39 L248.57,616.50 L249.59,617.56 L250.61,618.55 L251.62,619.49 L252.64,620.37 L253.66,621.20 L254.68,621.97 L255.70,622.70 L256.72,623.38 L257.73,624.01 L258.75,624.61 L259.77,625.17 L260.79,625.69 L261.81,626.18 L262.83,626.64 L263.84,627.07 L264.86,627.47 L265.88,627.86 L266.90,628.22 L267.92,628.56 L268.94,628.88 L269.95,629.18 L270.97,629.48 L271.99,629.76 L273.01,630.02 L274.03,630.28 L275.05,630.54 L276.07,630.78 L277.08,631.02 L278.10,631.26 L279.12,631.49 L280.14,631.73 L281.16,631.96 L282.18,632.20 L283.19,632.44 L284.21,632.68 L285.23,632.93 L286.25,633.19 L287.27,633.45 L288.29,633.72 L289.30,633.99 L290.32,634.27 L291.34,634.56 L292.36,634.86 L293.38,635.16 L294.40,635.47 L295.41,635.79 L296.43,636.12 L297.45,636.46 L298.47,636.80 L299.49,637.15 L300.51,637.51 L301.53,637.88 L302.54,638.30 L303.56,638.77 L304.58,639.29 L305.60,639.83 L306.62,640.41 L307.64,641.00 L308.65,641.62 L309.67,642.24 L310.69,642.87 L311.71,643.50 L312.73,644.11 L313.75,644.72 L314.76,645.30 L315.78,645.86 L316.80,646.38 L317.82,646.86 L318.84,647.29 L319.86,647.68 L320.87,648.02 L321.89,648.35 L322.91,648.67 L323.93,648.98 L324.95,649.28 L325.97,649.56 L326.98,649.84 L328.00,650.10 L329.02,650.35 L330.04,650.58 L331.06,650.80 L332.08,651.01 L333.10,651.20 L334.11,651.37 L335.13,651.53 L336.15,651.67 L337.17,651.81 L338.19,651.96 L339.21,652.10 L340.22,652.23 L341.24,652.37 L342.26,652.50 L343.28,652.62 L344.30,652.74 L345.32,652.85 L346.33,652.96 L347.35,653.06 L348.37,653.15 L349.39,653.23 L350.41,653.30 L351.43,653.36 L352.44,653.42 L353.46,653.46 L354.48,653.49 L355.50,653.50" stroke="#8b99d0" stroke-width="1.7"/>
<path d="M51.00,583.77 L52.02,584.03 L53.04,584.29 L54.06,584.55 L55.07,584.81 L56.09,585.07 L57.11,585.32 L58.13,585.58 L59.15,585.83 L60.17,586.09 L61.18,586.34 L62.20,586.59 L63.22,586.85 L64.24,587.10 L65.26,587.35 L66.28,587.60 L67.29,587.85 L68.31,588.10 L69.33,588.35 L70.35,588.59 L71.37,588.84 L72.39,589.08 L73.40,589.33 L74.42,589.57 L75.44,589.82 L76.46,590.06 L77.48,590.30 L78.50,590.54 L79.52,590.79 L80.53,591.03 L81.55,591.27 L82.57,591.50 L83.59,591.74 L84.61,591.98 L85.63,592.22 L86.64,592.45 L87.66,592.69 L88.68,592.92 L89.70,593.16 L90.72,593.39 L91.74,593.62 L92.75,593.85 L93.77,594.08 L94.79,594.31 L95.81,594.54 L96.83,594.77 L97.85,595.00 L98.86,595.23 L99.88,595.46 L100.90,595.68 L101.92,595.90 L102.94,596.12 L103.96,596.34 L104.97,596.56 L105.99,596.77 L107.01,596.98 L108.03,597.19 L109.05,597.40 L110.07,597.61 L111.09,597.81 L112.10,598.02 L113.12,598.22 L114.14,598.43 L115.16,598.63 L116.18,598.83 L117.20,599.03 L118.21,599.23 L119.23,599.43 L120.25,599.63 L121.27,599.84 L122.29,600.04 L123.31,600.24 L124.32,600.44 L125.34,600.65 L126.36,600.85 L127.38,601.05 L128.40,601.26 L129.42,601.47 L130.43,601.67 L131.45,601.88 L132.47,602.09 L133.49,602.31 L134.51,602.52 L135.53,602.73 L136.55,602.95 L137.56,603.17 L138.58,603.39 L139.60,603.61 L140.62,603.83 L141.64,604.05 L142.66,604.28 L143.67,604.50 L144.69,604.73 L145.71,604.95 L146.73,605.18 L147.75,605.40 L148.77,605.62 L149.78,605.84 L150.80,606.05 L151.82,606.26 L152.84,606.47 L153.86,606.67 L154.88,606.86 L155.89,607.05 L156.91,607.23 L157.93,607.41 L158.95,607.57 L159.97,607.72 L160.99,607.87 L162.01,608.00 L163.02,608.12 L164.04,608.23 L165.06,608.32 L166.08,608.40 L167.10,608.47 L168.12,608.51 L169.13,608.54 L170.15,608.55 L171.17,608.54 L172.19,608.51 L173.21,608.45 L174.23,608.38 L175.24,608.28 L176.26,608.15 L177.28,608.00 L178.30,607.83 L179.32,607.63 L180.34,607.41 L181.35,607.16 L182.37,606.89 L183.39,606.59 L184.41,606.26 L185.43,605.90 L186.45,605.51 L187.46,605.09 L188.48,604.65 L189.50,604.17 L190.52,603.66 L191.54,603.12 L192.56,602.54 L193.58,601.94 L194.59,601.30 L195.61,600.63 L196.63,599.94 L197.65,599.21 L198.67,598.44 L199.69,597.65 L200.70,596.83 L201.72,595.98 L202.74,595.11 L203.76,594.21 L204.78,593.28 L205.80,592.32 L206.81,591.35 L207.83,590.35 L208.85,589.34 L209.87,588.31 L210.89,587.26 L211.91,586.20 L212.92,585.13 L213.94,584.05 L214.96,582.96 L215.98,581.87 L217.00,580.79 L218.02,579.70 L219.04,578.62 L220.05,577.55 L221.07,576.50 L222.09,575.46 L223.11,574.43 L224.13,573.43 L225.15,572.45 L226.16,571.50 L227.18,570.57 L228.20,569.68 L229.22,568.83 L230.24,568.01 L231.26,567.24 L232.27,566.51 L233.29,565.82 L234.31,565.19 L235.33,564.60 L236.35,564.07 L237.37,563.60 L238.38,563.18 L239.40,562.83 L240.42,562.53 L241.44,562.29 L242.46,562.12 L243.48,562.02 L244.49,561.98 L245.51,562.00 L246.53,562.09 L247.55,562.25 L248.57,562.47 L249.59,562.74 L250.61,563.08 L251.62,563.47 L252.64,563.92 L253.66,564.42 L254.68,564.98 L255.70,565.59 L256.72,566.25 L257.73,566.95 L258.75,567.71 L259.77,568.52 L260.79,569.37 L261.81,570.27 L262.83,571.21 L263.84,572.19 L264.86,573.21 L265.88,574.27 L266.90,575.37 L267.92,576.50 L268.94,577.67 L269.95,578.86 L270.97,580.08 L271.99,581.33 L273.01,582.61 L274.03,583.90 L275.05,585.21 L276.07,586.55 L277.08,587.90 L278.10,589.26 L279.12,590.63 L280.14,592.02 L281.16,593.41 L282.18,594.81 L283.19,596.22 L284.21,597.63 L285.23,599.04 L286.25,600.46 L287.27,601.87 L288.29,603.29 L289.30,604.70 L290.32,606.10 L291.34,607.50 L292.36,608.89 L293.38,610.27 L294.40,611.64 L295.41,613.00 L296.43,614.35 L297.45,615.69 L298.47,617.01 L299.49,618.32 L300.51,619.62 L301.53,620.91 L302.54,622.23 L303.56,623.58 L304.58,624.94 L305.60,626.32 L306.62,627.71 L307.64,629.10 L308.65,630.49 L309.67,631.87 L310.69,633.23 L311.71,634.57 L312.73,635.89 L313.75,637.17 L314.76,638.40 L315.78,639.59 L316.80,640.72 L317.82,641.79 L318.84,642.78 L319.86,643.68 L320.87,644.51 L321.89,645.30 L322.91,646.04 L323.93,646.73 L324.95,647.37 L325.97,647.96 L326.98,648.50 L328.00,648.99 L329.02,649.44 L330.04,649.84 L331.06,650.20 L332.08,650.53 L333.10,650.81 L334.11,651.06 L335.13,651.28 L336.15,651.48 L337.17,651.66 L338.19,651.84 L339.21,652.00 L340.22,652.16 L341.24,652.31 L342.26,652.45 L343.28,652.59 L344.30,652.71 L345.32,652.83 L346.33,652.94 L347.35,653.05 L348.37,653.14 L349.39,653.22 L350.41,653.30 L351.43,653.36 L352.44,653.41 L353.46,653.45 L354.48,653.48 L355.50,653.50" stroke="#8b99d0" stroke-width="1.7"/>
</g>
<g fill="none" stroke="#2d3a85" stroke-width="1.05">
<circle cx="51.00" cy="567.07" r="2.4"/>
<circle cx="52.59" cy="568.41" r="2.4"/>
<circle cx="54.19" cy="567.48" r="2.4"/>
<circle cx="55.78" cy="569.79" r="2.4"/>
<circle cx="57.38" cy="564.52" r="2.4"/>
<circle cx="58.98" cy="562.58" r="2.4"/>
<circle cx="60.57" cy="559.76" r="2.4"/>
<circle cx="62.16" cy="558.50" r="2.4"/>
<circle cx="63.76" cy="554.73" r="2.4"/>
<circle cx="65.36" cy="552.96" r="2.4"/>
<circle cx="66.95" cy="552.11" r="2.4"/>
<circle cx="68.55" cy="544.83" r="2.4"/>
<circle cx="70.14" cy="542.05" r="2.4"/>
<circle cx="71.73" cy="537.45" r="2.4"/>
<circle cx="73.33" cy="537.98" r="2.4"/>
<circle cx="74.92" cy="535.96" r="2.4"/>
<circle cx="76.52" cy="533.25" r="2.4"/>
<circle cx="78.11" cy="532.34" r="2.4"/>
<circle cx="79.71" cy="524.07" r="2.4"/>
<circle cx="81.31" cy="525.49" r="2.4"/>
<circle cx="82.90" cy="522.79" r="2.4"/>
<circle cx="84.50" cy="517.96" r="2.4"/>
<circle cx="86.09" cy="511.75" r="2.4"/>
<circle cx="87.69" cy="511.81" r="2.4"/>
<circle cx="89.28" cy="512.04" r="2.4"/>
<circle cx="90.88" cy="509.14" r="2.4"/>
<circle cx="92.47" cy="504.26" r="2.4"/>
<circle cx="94.06" cy="503.99" r="2.4"/>
<circle cx="95.66" cy="503.20" r="2.4"/>
<circle cx="97.25" cy="500.07" r="2.4"/>
<circle cx="98.85" cy="496.20" r="2.4"/>
<circle cx="100.44" cy="495.30" r="2.4"/>
<circle cx="102.04" cy="503.89" r="2.4"/>
<circle cx="103.63" cy="504.62" r="2.4"/>
<circle cx="105.23" cy="506.26" r="2.4"/>
<circle cx="106.83" cy="506.96" r="2.4"/>
<circle cx="108.42" cy="501.25" r="2.4"/>
<circle cx="110.02" cy="498.90" r="2.4"/>
<circle cx="111.61" cy="491.87" r="2.4"/>
<circle cx="113.20" cy="491.97" r="2.4"/>
<circle cx="114.80" cy="492.53" r="2.4"/>
<circle cx="116.39" cy="486.74" r="2.4"/>
<circle cx="117.99" cy="488.61" r="2.4"/>
<circle cx="119.58" cy="491.15" r="2.4"/>
<circle cx="121.18" cy="488.23" r="2.4"/>
<circle cx="122.78" cy="487.52" r="2.4"/>
<circle cx="124.37" cy="487.21" r="2.4"/>
<circle cx="125.97" cy="484.19" r="2.4"/>
<circle cx="127.56" cy="487.89" r="2.4"/>
<circle cx="129.16" cy="482.70" r="2.4"/>
<circle cx="130.75" cy="478.72" r="2.4"/>
<circle cx="132.34" cy="477.49" r="2.4"/>
<circle cx="133.94" cy="475.14" r="2.4"/>
<circle cx="135.53" cy="472.87" r="2.4"/>
<circle cx="137.13" cy="469.13" r="2.4"/>
<circle cx="138.72" cy="471.39" r="2.4"/>
<circle cx="140.32" cy="463.91" r="2.4"/>
<circle cx="141.92" cy="466.03" r="2.4"/>
<circle cx="143.51" cy="459.73" r="2.4"/>
<circle cx="145.11" cy="458.69" r="2.4"/>
<circle cx="146.70" cy="448.65" r="2.4"/>
<circle cx="148.30" cy="444.16" r="2.4"/>
<circle cx="149.89" cy="443.48" r="2.4"/>
<circle cx="151.49" cy="435.50" r="2.4"/>
<circle cx="152.50" cy="439.06" r="2.4"/>
<circle cx="154.38" cy="431.52" r="2.4"/>
<circle cx="156.27" cy="426.94" r="2.4"/>
<circle cx="158.16" cy="426.69" r="2.4"/>
<circle cx="160.04" cy="417.66" r="2.4"/>
<circle cx="161.93" cy="408.86" r="2.4"/>
<circle cx="163.81" cy="415.19" r="2.4"/>
<circle cx="165.69" cy="405.61" r="2.4"/>
<circle cx="167.58" cy="406.49" r="2.4"/>
<circle cx="169.47" cy="397.91" r="2.4"/>
<circle cx="171.35" cy="401.03" r="2.4"/>
<circle cx="173.24" cy="399.87" r="2.4"/>
<circle cx="175.12" cy="400.04" r="2.4"/>
<circle cx="177.00" cy="402.79" r="2.4"/>
<circle cx="178.89" cy="410.69" r="2.4"/>
<circle cx="180.78" cy="404.37" r="2.4"/>
<circle cx="182.66" cy="417.58" r="2.4"/>
<circle cx="184.54" cy="416.95" r="2.4"/>
<circle cx="186.43" cy="420.96" r="2.4"/>
<circle cx="188.31" cy="431.55" r="2.4"/>
<circle cx="190.20" cy="434.24" r="2.4"/>
<circle cx="192.09" cy="437.14" r="2.4"/>
<circle cx="193.97" cy="446.82" r="2.4"/>
<circle cx="195.85" cy="450.55" r="2.4"/>
<circle cx="197.74" cy="458.35" r="2.4"/>
<circle cx="199.62" cy="451.60" r="2.4"/>
<circle cx="201.51" cy="447.92" r="2.4"/>
<circle cx="203.40" cy="445.95" r="2.4"/>
<circle cx="205.28" cy="453.72" r="2.4"/>
<circle cx="207.16" cy="455.45" r="2.4"/>
<circle cx="209.05" cy="468.90" r="2.4"/>
<circle cx="210.94" cy="477.95" r="2.4"/>
<circle cx="212.82" cy="483.21" r="2.4"/>
<circle cx="214.71" cy="496.04" r="2.4"/>
<circle cx="216.59" cy="501.19" r="2.4"/>
<circle cx="218.47" cy="497.24" r="2.4"/>
<circle cx="220.36" cy="505.56" r="2.4"/>
<circle cx="222.25" cy="516.59" r="2.4"/>
<circle cx="224.13" cy="516.05" r="2.4"/>
<circle cx="225.00" cy="516.50" r="2.4"/>
<circle cx="226.28" cy="517.70" r="2.4"/>
<circle cx="227.55" cy="521.36" r="2.4"/>
<circle cx="228.83" cy="524.33" r="2.4"/>
<circle cx="230.10" cy="526.51" r="2.4"/>
<circle cx="231.38" cy="526.29" r="2.4"/>
<circle cx="232.66" cy="528.49" r="2.4"/>
<circle cx="233.93" cy="531.32" r="2.4"/>
<circle cx="235.21" cy="532.27" r="2.4"/>
<circle cx="236.48" cy="533.97" r="2.4"/>
<circle cx="237.76" cy="533.62" r="2.4"/>
<circle cx="239.04" cy="536.96" r="2.4"/>
<circle cx="240.31" cy="536.48" r="2.4"/>
<circle cx="241.59" cy="537.15" r="2.4"/>
<circle cx="242.86" cy="538.88" r="2.4"/>
<circle cx="244.14" cy="541.99" r="2.4"/>
<circle cx="245.42" cy="539.97" r="2.4"/>
<circle cx="246.69" cy="544.10" r="2.4"/>
<circle cx="247.97" cy="543.65" r="2.4"/>
<circle cx="249.24" cy="546.54" r="2.4"/>
<circle cx="250.52" cy="549.16" r="2.4"/>
<circle cx="251.80" cy="547.78" r="2.4"/>
<circle cx="253.07" cy="549.49" r="2.4"/>
<circle cx="254.35" cy="551.82" r="2.4"/>
<circle cx="255.62" cy="553.12" r="2.4"/>
<circle cx="256.90" cy="556.30" r="2.4"/>
<circle cx="258.18" cy="558.28" r="2.4"/>
<circle cx="259.45" cy="559.31" r="2.4"/>
<circle cx="260.73" cy="558.15" r="2.4"/>
<circle cx="262.00" cy="561.67" r="2.4"/>
<circle cx="263.28" cy="565.55" r="2.4"/>
<circle cx="264.56" cy="565.93" r="2.4"/>
<circle cx="265.83" cy="569.42" r="2.4"/>
<circle cx="267.11" cy="571.39" r="2.4"/>
<circle cx="268.38" cy="571.48" r="2.4"/>
<circle cx="269.66" cy="575.30" r="2.4"/>
<circle cx="270.94" cy="578.78" r="2.4"/>
<circle cx="272.21" cy="579.46" r="2.4"/>
<circle cx="273.49" cy="579.82" r="2.4"/>
<circle cx="274.76" cy="581.60" r="2.4"/>
<circle cx="276.04" cy="581.81" r="2.4"/>
<circle cx="277.32" cy="586.53" r="2.4"/>
<circle cx="278.59" cy="586.28" r="2.4"/>
<circle cx="279.87" cy="588.59" r="2.4"/>
<circle cx="281.14" cy="591.30" r="2.4"/>
<circle cx="282.42" cy="591.72" r="2.4"/>
<circle cx="283.70" cy="594.10" r="2.4"/>
<circle cx="284.97" cy="597.95" r="2.4"/>
<circle cx="286.25" cy="596.98" r="2.4"/>
<circle cx="287.52" cy="602.19" r="2.4"/>
<circle cx="288.80" cy="602.16" r="2.4"/>
<circle cx="290.08" cy="604.08" r="2.4"/>
<circle cx="291.35" cy="605.28" r="2.4"/>
<circle cx="292.63" cy="608.76" r="2.4"/>
<circle cx="293.90" cy="609.54" r="2.4"/>
<circle cx="295.18" cy="611.46" r="2.4"/>
<circle cx="296.46" cy="611.54" r="2.4"/>
<circle cx="297.73" cy="615.88" r="2.4"/>
<circle cx="299.01" cy="616.31" r="2.4"/>
<circle cx="300.28" cy="618.47" r="2.4"/>
<circle cx="301.56" cy="621.64" r="2.4"/>
<circle cx="302.84" cy="617.51" r="2.4"/>
<circle cx="303.30" cy="622.09" r="2.4"/>
<circle cx="304.17" cy="623.99" r="2.4"/>
<circle cx="305.04" cy="623.73" r="2.4"/>
<circle cx="305.91" cy="626.18" r="2.4"/>
<circle cx="306.78" cy="626.67" r="2.4"/>
<circle cx="307.65" cy="627.63" r="2.4"/>
<circle cx="308.52" cy="629.60" r="2.4"/>
<circle cx="309.39" cy="630.69" r="2.4"/>
<circle cx="310.26" cy="631.94" r="2.4"/>
<circle cx="311.13" cy="632.91" r="2.4"/>
<circle cx="312.00" cy="634.82" r="2.4"/>
<circle cx="312.87" cy="635.76" r="2.4"/>
<circle cx="313.74" cy="636.32" r="2.4"/>
<circle cx="314.61" cy="636.81" r="2.4"/>
<circle cx="315.48" cy="638.06" r="2.4"/>
<circle cx="316.35" cy="638.51" r="2.4"/>
<circle cx="317.22" cy="639.99" r="2.4"/>
<circle cx="318.09" cy="641.50" r="2.4"/>
<circle cx="318.96" cy="642.16" r="2.4"/>
<circle cx="319.83" cy="643.91" r="2.4"/>
<circle cx="320.70" cy="644.10" r="2.4"/>
<circle cx="321.57" cy="644.83" r="2.4"/>
<circle cx="322.44" cy="644.85" r="2.4"/>
<circle cx="323.31" cy="645.29" r="2.4"/>
<circle cx="324.18" cy="646.49" r="2.4"/>
<circle cx="325.05" cy="647.06" r="2.4"/>
<circle cx="325.92" cy="648.07" r="2.4"/>
<circle cx="326.79" cy="647.84" r="2.4"/>
<circle cx="327.66" cy="648.11" r="2.4"/>
<circle cx="328.53" cy="648.42" r="2.4"/>
<circle cx="329.40" cy="649.42" r="2.4"/>
<circle cx="330.27" cy="648.38" r="2.4"/>
<circle cx="331.14" cy="649.11" r="2.4"/>
<circle cx="332.01" cy="650.05" r="2.4"/>
<circle cx="332.88" cy="650.53" r="2.4"/>
<circle cx="333.75" cy="650.67" r="2.4"/>
<circle cx="334.62" cy="650.65" r="2.4"/>
<circle cx="335.49" cy="650.93" r="2.4"/>
<circle cx="336.36" cy="650.86" r="2.4"/>
<circle cx="337.23" cy="650.89" r="2.4"/>
<circle cx="338.10" cy="650.76" r="2.4"/>
<circle cx="338.97" cy="651.03" r="2.4"/>
<circle cx="339.84" cy="651.82" r="2.4"/>
<circle cx="340.71" cy="651.72" r="2.4"/>
<circle cx="341.58" cy="652.25" r="2.4"/>
<circle cx="342.45" cy="652.49" r="2.4"/>
<circle cx="343.32" cy="651.37" r="2.4"/>
<circle cx="344.19" cy="652.69" r="2.4"/>
<circle cx="345.06" cy="651.58" r="2.4"/>
<circle cx="345.93" cy="652.87" r="2.4"/>
<circle cx="346.80" cy="652.68" r="2.4"/>
<circle cx="347.67" cy="652.36" r="2.4"/>
<circle cx="348.54" cy="652.99" r="2.4"/>
<circle cx="349.41" cy="652.90" r="2.4"/>
<circle cx="350.28" cy="653.30" r="2.4"/>
<circle cx="351.15" cy="653.49" r="2.4"/>
<circle cx="352.02" cy="653.40" r="2.4"/>
<circle cx="352.89" cy="653.70" r="2.4"/>
<circle cx="353.76" cy="652.61" r="2.4"/>
<circle cx="354.63" cy="653.55" r="2.4"/>
<circle cx="166.71" cy="359.57" r="2.4"/>
<circle cx="163.23" cy="370.87" r="2.4"/>
<circle cx="176.57" cy="371.28" r="2.4"/>
<circle cx="179.47" cy="384.25" r="2.4"/>
<circle cx="162.07" cy="395.96" r="2.4"/>
<circle cx="183.97" cy="406.00" r="2.4"/>
<circle cx="165.43" cy="421.48" r="2.4"/>
<circle cx="169.61" cy="430.26" r="2.4"/>
<circle cx="174.25" cy="423.99" r="2.4"/>
<circle cx="175.41" cy="426.08" r="2.4"/>
<circle cx="153.51" cy="443.23" r="2.4"/>
</g>
<g clip-path="url(#clipc)" fill="none" stroke-linejoin="round">
<path d="M51.00,570.81 L52.02,570.02 L53.04,569.17 L54.06,568.27 L55.07,567.29 L56.09,566.26 L57.11,565.16 L58.13,564.00 L59.15,562.78 L60.17,561.50 L61.18,560.15 L62.20,558.75 L63.22,557.28 L64.24,555.76 L65.26,554.19 L66.28,552.56 L67.29,550.89 L68.31,549.17 L69.33,547.41 L70.35,545.61 L71.37,543.78 L72.39,541.92 L73.40,540.04 L74.42,538.14 L75.44,536.23 L76.46,534.31 L77.48,532.40 L78.50,530.48 L79.52,528.58 L80.53,526.69 L81.55,524.83 L82.57,522.99 L83.59,521.19 L84.61,519.43 L85.63,517.71 L86.64,516.04 L87.66,514.43 L88.68,512.87 L89.70,511.38 L90.72,509.95 L91.74,508.59 L92.75,507.30 L93.77,506.09 L94.79,504.94 L95.81,503.87 L96.83,502.87 L97.85,501.95 L98.86,501.10 L99.88,500.32 L100.90,499.63 L101.92,499.01 L102.94,498.45 L103.96,497.97 L104.97,497.54 L105.99,497.17 L107.01,496.84 L108.03,496.55 L109.05,496.29 L110.07,496.06 L111.09,495.84 L112.10,495.62 L113.12,495.41 L114.14,495.18 L115.16,494.94 L116.18,494.66 L117.20,494.35 L118.21,493.99 L119.23,493.57 L120.25,493.10 L121.27,492.56 L122.29,491.94 L123.31,491.24 L124.32,490.45 L125.34,489.57 L126.36,488.59 L127.38,487.52 L128.40,486.34 L129.42,485.06 L130.43,483.67 L131.45,482.18 L132.47,480.58 L133.49,478.88 L134.51,477.08 L135.53,475.18 L136.55,473.18 L137.56,471.10 L138.58,468.93 L139.60,466.68 L140.62,464.37 L141.64,461.98 L142.66,459.54 L143.67,457.05 L144.69,454.52 L145.71,451.96 L146.73,449.37 L147.75,446.77 L148.77,444.16 L149.78,441.56 L150.80,438.97 L151.82,436.40 L152.84,433.87 L153.86,431.38 L154.88,428.95 L155.89,426.58 L156.91,424.28 L157.93,422.06 L158.95,419.93 L159.97,417.90 L160.99,415.98 L162.01,414.17 L163.02,412.48 L164.04,410.91 L165.06,409.48 L166.08,408.19 L167.10,407.05 L168.12,406.05 L169.13,405.20 L170.15,404.51 L171.17,403.98 L172.19,403.61 L173.21,403.39 L174.23,403.34 L175.24,403.47 L176.26,403.78 L177.28,404.28 L178.30,404.96 L179.32,405.82 L180.34,406.85 L181.35,408.06 L182.37,409.44 L183.39,410.98 L184.41,412.67 L185.43,414.52 L186.45,416.51 L187.46,418.64 L188.48,420.89 L189.50,423.27 L190.52,425.75 L191.54,428.34 L192.56,431.03 L193.58,433.80 L194.59,436.64 L195.61,439.55 L196.63,442.52 L197.65,445.53 L198.67,448.59 L199.69,451.67 L200.70,454.77 L201.72,457.89 L202.74,461.01 L203.76,464.12 L204.78,467.22 L205.80,470.30 L206.81,473.36 L207.83,476.38 L208.85,479.36 L209.87,482.30 L210.89,485.19 L211.91,488.02 L212.92,490.79 L213.94,493.50 L214.96,496.14 L215.98,498.71 L217.00,501.22 L218.02,503.65 L219.04,506.01 L220.05,508.30 L221.07,510.51 L222.09,512.65 L223.11,514.72 L224.13,516.72 L225.15,518.64 L226.16,520.50 L227.18,522.30 L228.20,524.03 L229.22,525.69 L230.24,527.30 L231.26,528.86 L232.27,530.36 L233.29,531.82 L234.31,533.24 L235.33,534.61 L236.35,535.94 L237.37,537.25 L238.38,538.52 L239.40,539.77 L240.42,541.00 L241.44,542.21 L242.46,543.41 L243.48,544.60 L244.49,545.78 L245.51,546.96 L246.53,548.13 L247.55,549.31 L248.57,550.48 L249.59,551.66 L250.61,552.84 L251.62,554.02 L252.64,555.21 L253.66,556.40 L254.68,557.59 L255.70,558.80 L256.72,560.01 L257.73,561.24 L258.75,562.47 L259.77,563.72 L260.79,564.99 L261.81,566.26 L262.83,567.56 L263.84,568.86 L264.86,570.18 L265.88,571.52 L266.90,572.87 L267.92,574.23 L268.94,575.61 L269.95,577.00 L270.97,578.40 L271.99,579.81 L273.01,581.23 L274.03,582.66 L275.05,584.10 L276.07,585.54 L277.08,586.99 L278.10,588.45 L279.12,589.90 L280.14,591.36 L281.16,592.83 L282.18,594.29 L283.19,595.75 L284.21,597.21 L285.23,598.67 L286.25,600.13 L287.27,601.58 L288.29,603.03 L289.30,604.46 L290.32,605.89 L291.34,607.32 L292.36,608.73 L293.38,610.13 L294.40,611.51 L295.41,612.89 L296.43,614.25 L297.45,615.60 L298.47,616.94 L299.49,618.26 L300.51,619.56 L301.53,620.86 L302.54,622.19 L303.56,623.54 L304.58,624.91 L305.60,626.29 L306.62,627.69 L307.64,629.08 L308.65,630.47 L309.67,631.85 L310.69,633.22 L311.71,634.56 L312.73,635.88 L313.75,637.16 L314.76,638.40 L315.78,639.59 L316.80,640.72 L317.82,641.78 L318.84,642.77 L319.86,643.68 L320.87,644.51 L321.89,645.30 L322.91,646.04 L323.93,646.73 L324.95,647.37 L325.97,647.96 L326.98,648.50 L328.00,648.99 L329.02,649.44 L330.04,649.84 L331.06,650.20 L332.08,650.53 L333.10,650.81 L334.11,651.06 L335.13,651.28 L336.15,651.48 L337.17,651.66 L338.19,651.84 L339.21,652.00 L340.22,652.16 L341.24,652.31 L342.26,652.45 L343.28,652.59 L344.30,652.71 L345.32,652.83 L346.33,652.94 L347.35,653.05 L348.37,653.14 L349.39,653.22 L350.41,653.30 L351.43,653.36 L352.44,653.41 L353.46,653.45 L354.48,653.48 L355.50,653.50" stroke="#2d3a85" stroke-width="2.1"/>
<path d="M51.00,583.77 L52.02,584.03 L53.04,584.29 L54.06,584.55 L55.07,584.81 L56.09,585.07 L57.11,585.32 L58.13,585.58 L59.15,585.83 L60.17,586.09 L61.18,586.34 L62.20,586.59 L63.22,586.85 L64.24,587.10 L65.26,587.35 L66.28,587.60 L67.29,587.85 L68.31,588.10 L69.33,588.35 L70.35,588.59 L71.37,588.84 L72.39,589.08 L73.40,589.33 L74.42,589.57 L75.44,589.82 L76.46,590.06 L77.48,590.30 L78.50,590.54 L79.52,590.79 L80.53,591.03 L81.55,591.27 L82.57,591.50 L83.59,591.74 L84.61,591.98 L85.63,592.22 L86.64,592.45 L87.66,592.69 L88.68,592.92 L89.70,593.16 L90.72,593.39 L91.74,593.62 L92.75,593.85 L93.77,594.08 L94.79,594.32 L95.81,594.54 L96.83,594.77 L97.85,595.00 L98.86,595.23 L99.88,595.46 L100.90,595.68 L101.92,595.91 L102.94,596.13 L103.96,596.34 L104.97,596.56 L105.99,596.77 L107.01,596.99 L108.03,597.20 L109.05,597.41 L110.07,597.61 L111.09,597.82 L112.10,598.03 L113.12,598.23 L114.14,598.43 L115.16,598.64 L116.18,598.84 L117.20,599.05 L118.21,599.25 L119.23,599.45 L120.25,599.66 L121.27,599.86 L122.29,600.06 L123.31,600.27 L124.32,600.48 L125.34,600.69 L126.36,600.89 L127.38,601.11 L128.40,601.32 L129.42,601.53 L130.43,601.75 L131.45,601.97 L132.47,602.19 L133.49,602.41 L134.51,602.64 L135.53,602.86 L136.55,603.10 L137.56,603.33 L138.58,603.57 L139.60,603.81 L140.62,604.06 L141.64,604.31 L142.66,604.56 L143.67,604.82 L144.69,605.08 L145.71,605.34 L146.73,605.61 L147.75,605.88 L148.77,606.15 L149.78,606.42 L150.80,606.69 L151.82,606.97 L152.84,607.25 L153.86,607.53 L154.88,607.81 L155.89,608.09 L156.91,608.37 L157.93,608.65 L158.95,608.93 L159.97,609.21 L160.99,609.49 L162.01,609.77 L163.02,610.05 L164.04,610.33 L165.06,610.61 L166.08,610.89 L167.10,611.16 L168.12,611.44 L169.13,611.71 L170.15,611.98 L171.17,612.25 L172.19,612.51 L173.21,612.77 L174.23,613.03 L175.24,613.29 L176.26,613.54 L177.28,613.79 L178.30,614.04 L179.32,614.29 L180.34,614.54 L181.35,614.79 L182.37,615.04 L183.39,615.29 L184.41,615.54 L185.43,615.79 L186.45,616.04 L187.46,616.28 L188.48,616.53 L189.50,616.78 L190.52,617.02 L191.54,617.26 L192.56,617.51 L193.58,617.75 L194.59,617.99 L195.61,618.23 L196.63,618.47 L197.65,618.70 L198.67,618.94 L199.69,619.17 L200.70,619.40 L201.72,619.63 L202.74,619.86 L203.76,620.09 L204.78,620.31 L205.80,620.54 L206.81,620.76 L207.83,620.98 L208.85,621.20 L209.87,621.41 L210.89,621.62 L211.91,621.83 L212.92,622.04 L213.94,622.25 L214.96,622.45 L215.98,622.66 L217.00,622.86 L218.02,623.06 L219.04,623.26 L220.05,623.46 L221.07,623.66 L222.09,623.86 L223.11,624.05 L224.13,624.25 L225.15,624.44 L226.16,624.64 L227.18,624.83 L228.20,625.02 L229.22,625.21 L230.24,625.39 L231.26,625.58 L232.27,625.77 L233.29,625.95 L234.31,626.13 L235.33,626.31 L236.35,626.49 L237.37,626.67 L238.38,626.84 L239.40,627.01 L240.42,627.19 L241.44,627.35 L242.46,627.52 L243.48,627.69 L244.49,627.85 L245.51,628.01 L246.53,628.17 L247.55,628.33 L248.57,628.49 L249.59,628.64 L250.61,628.79 L251.62,628.94 L252.64,629.08 L253.66,629.22 L254.68,629.36 L255.70,629.49 L256.72,629.61 L257.73,629.73 L258.75,629.85 L259.77,629.96 L260.79,630.07 L261.81,630.18 L262.83,630.29 L263.84,630.40 L264.86,630.51 L265.88,630.61 L266.90,630.72 L267.92,630.83 L268.94,630.94 L269.95,631.05 L270.97,631.16 L271.99,631.28 L273.01,631.40 L274.03,631.53 L275.05,631.65 L276.07,631.79 L277.08,631.93 L278.10,632.07 L279.12,632.22 L280.14,632.38 L281.16,632.55 L282.18,632.72 L283.19,632.90 L284.21,633.10 L285.23,633.30 L286.25,633.52 L287.27,633.74 L288.29,633.98 L289.30,634.22 L290.32,634.48 L291.34,634.74 L292.36,635.02 L293.38,635.30 L294.40,635.60 L295.41,635.90 L296.43,636.22 L297.45,636.54 L298.47,636.87 L299.49,637.22 L300.51,637.57 L301.53,637.93 L302.54,638.35 L303.56,638.81 L304.58,639.32 L305.60,639.86 L306.62,640.43 L307.64,641.03 L308.65,641.64 L309.67,642.26 L310.69,642.88 L311.71,643.51 L312.73,644.12 L313.75,644.73 L314.76,645.31 L315.78,645.86 L316.80,646.38 L317.82,646.86 L318.84,647.30 L319.86,647.68 L320.87,648.02 L321.89,648.35 L322.91,648.67 L323.93,648.98 L324.95,649.28 L325.97,649.56 L326.98,649.84 L328.00,650.10 L329.02,650.35 L330.04,650.58 L331.06,650.80 L332.08,651.01 L333.10,651.20 L334.11,651.37 L335.13,651.53 L336.15,651.67 L337.17,651.81 L338.19,651.96 L339.21,652.10 L340.22,652.23 L341.24,652.37 L342.26,652.50 L343.28,652.62 L344.30,652.74 L345.32,652.85 L346.33,652.96 L347.35,653.06 L348.37,653.15 L349.39,653.23 L350.41,653.30 L351.43,653.36 L352.44,653.42 L353.46,653.46 L354.48,653.49 L355.50,653.50" stroke="#3c3c3c" stroke-width="3.8" stroke-dasharray="7.4 10.6" stroke-linecap="round" stroke-dashoffset="0"/>
</g>
<rect x="51.0" y="362.5" width="304.5" height="292.79999999999995" fill="none" stroke="#1c1c1c" stroke-width="1.35"/>
<path d="M65.50,655.30 v-3.2 M65.50,362.50 v3.2 M94.50,655.30 v-6.0 M94.50,362.50 v6.0 M123.50,655.30 v-3.2 M123.50,362.50 v3.2 M152.50,655.30 v-6.0 M152.50,362.50 v6.0 M181.50,655.30 v-3.2 M181.50,362.50 v3.2 M210.50,655.30 v-6.0 M210.50,362.50 v6.0 M239.50,655.30 v-3.2 M239.50,362.50 v3.2 M268.50,655.30 v-6.0 M268.50,362.50 v6.0 M297.50,655.30 v-3.2 M297.50,362.50 v3.2 M326.50,655.30 v-6.0 M326.50,362.50 v6.0 M51.00,613.47 h3.2 M355.50,613.47 h-3.2 M51.00,571.64 h6.0 M355.50,571.64 h-6.0 M51.00,529.81 h3.2 M355.50,529.81 h-3.2 M51.00,487.99 h6.0 M355.50,487.99 h-6.0 M51.00,446.16 h3.2 M355.50,446.16 h-3.2 M51.00,404.33 h6.0 M355.50,404.33 h-6.0" stroke="#1c1c1c" stroke-width="1.2" fill="none"/>
<clipPath id="clipd"><rect x="377.4" y="362.5" width="303.9" height="295.79999999999995"/></clipPath>
<g clip-path="url(#clipd)" fill="none" stroke-linejoin="round">
<path d="M377.40,548.43 L378.42,548.75 L379.43,549.07 L380.45,549.39 L381.47,549.72 L382.48,550.04 L383.50,550.37 L384.51,550.70 L385.53,551.02 L386.55,551.35 L387.56,551.68 L388.58,552.01 L389.60,552.35 L390.61,552.68 L391.63,553.01 L392.65,553.35 L393.66,553.68 L394.68,554.02 L395.69,554.36 L396.71,554.70 L397.73,555.04 L398.74,555.38 L399.76,555.72 L400.78,556.07 L401.79,556.41 L402.81,556.76 L403.83,557.11 L404.84,557.45 L405.86,557.80 L406.88,558.15 L407.89,558.50 L408.91,558.85 L409.92,559.21 L410.94,559.56 L411.96,559.92 L412.97,560.27 L413.99,560.63 L415.01,560.99 L416.02,561.35 L417.04,561.71 L418.06,562.07 L419.07,562.43 L420.09,562.80 L421.10,563.17 L422.12,563.54 L423.14,563.91 L424.15,564.29 L425.17,564.66 L426.19,565.04 L427.20,565.42 L428.22,565.80 L429.24,566.19 L430.25,566.57 L431.27,566.96 L432.28,567.35 L433.30,567.73 L434.32,568.12 L435.33,568.52 L436.35,568.91 L437.37,569.30 L438.38,569.69 L439.40,570.09 L440.42,570.49 L441.43,570.88 L442.45,571.28 L443.47,571.67 L444.48,572.07 L445.50,572.47 L446.51,572.87 L447.53,573.26 L448.55,573.66 L449.56,574.06 L450.58,574.46 L451.60,574.85 L452.61,575.25 L453.63,575.65 L454.65,576.04 L455.66,576.44 L456.68,576.83 L457.69,577.22 L458.71,577.62 L459.73,578.01 L460.74,578.40 L461.76,578.79 L462.78,579.18 L463.79,579.56 L464.81,579.95 L465.83,580.33 L466.84,580.71 L467.86,581.09 L468.87,581.47 L469.89,581.85 L470.91,582.23 L471.92,582.60 L472.94,582.98 L473.96,583.35 L474.97,583.73 L475.99,584.10 L477.01,584.47 L478.02,584.85 L479.04,585.22 L480.06,585.59 L481.07,585.96 L482.09,586.34 L483.10,586.71 L484.12,587.08 L485.14,587.45 L486.15,587.82 L487.17,588.19 L488.19,588.55 L489.20,588.92 L490.22,589.29 L491.24,589.66 L492.25,590.02 L493.27,590.39 L494.28,590.75 L495.30,591.12 L496.32,591.48 L497.33,591.85 L498.35,592.21 L499.37,592.57 L500.38,592.93 L501.40,593.30 L502.42,593.66 L503.43,594.02 L504.45,594.38 L505.46,594.74 L506.48,595.10 L507.50,595.46 L508.51,595.81 L509.53,596.17 L510.55,596.53 L511.56,596.89 L512.58,597.24 L513.60,597.60 L514.61,597.96 L515.63,598.31 L516.65,598.67 L517.66,599.03 L518.68,599.38 L519.69,599.74 L520.71,600.09 L521.73,600.45 L522.74,600.80 L523.76,601.16 L524.78,601.51 L525.79,601.86 L526.81,602.21 L527.83,602.56 L528.84,602.91 L529.86,603.26 L530.87,603.60 L531.89,603.95 L532.91,604.29 L533.92,604.64 L534.94,604.98 L535.96,605.32 L536.97,605.66 L537.99,605.99 L539.01,606.33 L540.02,606.66 L541.04,607.00 L542.05,607.33 L543.07,607.65 L544.09,607.98 L545.10,608.32 L546.12,608.65 L547.14,608.99 L548.15,609.33 L549.17,609.68 L550.19,610.02 L551.20,610.36 L552.22,610.71 L553.24,611.05 L554.25,611.40 L555.27,611.74 L556.28,612.08 L557.30,612.42 L558.32,612.75 L559.33,613.08 L560.35,613.41 L561.37,613.74 L562.38,614.06 L563.40,614.37 L564.42,614.68 L565.43,614.99 L566.45,615.28 L567.46,615.57 L568.48,615.85 L569.50,616.13 L570.51,616.39 L571.53,616.65 L572.55,616.90 L573.56,617.14 L574.58,617.36 L575.60,617.58 L576.61,617.79 L577.63,617.98 L578.64,618.16 L579.66,618.34 L580.68,618.50 L581.69,618.66 L582.71,618.81 L583.73,618.95 L584.74,619.09 L585.76,619.22 L586.78,619.35 L587.79,619.47 L588.81,619.59 L589.83,619.71 L590.84,619.83 L591.86,619.95 L592.87,620.07 L593.89,620.19 L594.91,620.32 L595.92,620.45 L596.94,620.58 L597.96,620.72 L598.97,620.86 L599.99,621.01 L601.01,621.17 L602.02,621.33 L603.04,621.51 L604.05,621.69 L605.07,621.89 L606.09,622.09 L607.10,622.31 L608.12,622.55 L609.14,622.80 L610.15,623.08 L611.17,623.39 L612.19,623.74 L613.20,624.11 L614.22,624.52 L615.23,624.95 L616.25,625.40 L617.27,625.88 L618.28,626.38 L619.30,626.90 L620.32,627.44 L621.33,628.00 L622.35,628.57 L623.37,629.15 L624.38,629.75 L625.40,630.35 L626.42,631.03 L627.43,631.78 L628.45,632.59 L629.46,633.43 L630.48,634.29 L631.50,635.14 L632.51,635.99 L633.53,636.86 L634.55,637.76 L635.56,638.67 L636.58,639.56 L637.60,640.41 L638.61,641.19 L639.63,641.95 L640.64,642.71 L641.66,643.48 L642.68,644.24 L643.69,644.98 L644.71,645.71 L645.73,646.41 L646.74,647.07 L647.76,647.70 L648.78,648.28 L649.79,648.81 L650.81,649.28 L651.82,649.68 L652.84,650.02 L653.86,650.34 L654.87,650.64 L655.89,650.94 L656.91,651.22 L657.92,651.49 L658.94,651.73 L659.96,651.97 L660.97,652.18 L661.99,652.38 L663.01,652.55 L664.02,652.70 L665.04,652.83 L666.05,652.94 L667.07,653.02 L668.09,653.09 L669.10,653.16 L670.12,653.22 L671.14,653.29 L672.15,653.35 L673.17,653.40 L674.19,653.45 L675.20,653.49 L676.22,653.53 L677.23,653.57 L678.25,653.59 L679.27,653.61 L680.28,653.62 L681.30,653.63" stroke="#f8c232" stroke-width="1.7"/>
<path d="M377.40,544.38 L378.42,544.33 L379.43,544.26 L380.45,544.17 L381.47,544.05 L382.48,543.89 L383.50,543.71 L384.51,543.49 L385.53,543.23 L386.55,542.95 L387.56,542.62 L388.58,542.25 L389.60,541.85 L390.61,541.40 L391.63,540.92 L392.65,540.38 L393.66,539.81 L394.68,539.19 L395.69,538.52 L396.71,537.80 L397.73,537.04 L398.74,536.23 L399.76,535.37 L400.78,534.46 L401.79,533.50 L402.81,532.49 L403.83,531.43 L404.84,530.33 L405.86,529.18 L406.88,527.98 L407.89,526.74 L408.91,525.46 L409.92,524.13 L410.94,522.76 L411.96,521.36 L412.97,519.92 L413.99,518.45 L415.01,516.95 L416.02,515.42 L417.04,513.87 L418.06,512.30 L419.07,510.71 L420.09,509.12 L421.10,507.52 L422.12,505.91 L423.14,504.31 L424.15,502.72 L425.17,501.14 L426.19,499.58 L427.20,498.03 L428.22,496.52 L429.24,495.04 L430.25,493.60 L431.27,492.20 L432.28,490.85 L433.30,489.55 L434.32,488.31 L435.33,487.14 L436.35,486.03 L437.37,485.00 L438.38,484.04 L439.40,483.17 L440.42,482.38 L441.43,481.68 L442.45,481.08 L443.47,480.57 L444.48,480.17 L445.50,479.87 L446.51,479.67 L447.53,479.58 L448.55,479.60 L449.56,479.73 L450.58,479.97 L451.60,480.32 L452.61,480.79 L453.63,481.38 L454.65,482.08 L455.66,482.90 L456.68,483.83 L457.69,484.88 L458.71,486.04 L459.73,487.30 L460.74,488.67 L461.76,490.13 L462.78,491.69 L463.79,493.35 L464.81,495.09 L465.83,496.91 L466.84,498.81 L467.86,500.79 L468.87,502.83 L469.89,504.93 L470.91,507.08 L471.92,509.29 L472.94,511.54 L473.96,513.83 L474.97,516.15 L475.99,518.51 L477.01,520.88 L478.02,523.27 L479.04,525.67 L480.06,528.07 L481.07,530.48 L482.09,532.88 L483.10,535.27 L484.12,537.64 L485.14,540.00 L486.15,542.33 L487.17,544.64 L488.19,546.92 L489.20,549.16 L490.22,551.36 L491.24,553.53 L492.25,555.65 L493.27,557.73 L494.28,559.76 L495.30,561.74 L496.32,563.67 L497.33,565.55 L498.35,567.38 L499.37,569.16 L500.38,570.88 L501.40,572.55 L502.42,574.17 L503.43,575.73 L504.45,577.24 L505.46,578.70 L506.48,580.10 L507.50,581.46 L508.51,582.76 L509.53,584.02 L510.55,585.22 L511.56,586.38 L512.58,587.50 L513.60,588.57 L514.61,589.60 L515.63,590.59 L516.65,591.54 L517.66,592.46 L518.68,593.33 L519.69,594.17 L520.71,594.98 L521.73,595.76 L522.74,596.51 L523.76,597.23 L524.78,597.92 L525.79,598.58 L526.81,599.22 L527.83,599.84 L528.84,600.44 L529.86,601.01 L530.87,601.57 L531.89,602.10 L532.91,602.62 L533.92,603.13 L534.94,603.62 L535.96,604.09 L536.97,604.55 L537.99,605.00 L539.01,605.44 L540.02,605.86 L541.04,606.28 L542.05,606.68 L543.07,607.08 L544.09,607.47 L545.10,607.86 L546.12,608.25 L547.14,608.63 L548.15,609.01 L549.17,609.39 L550.19,609.77 L551.20,610.14 L552.22,610.51 L553.24,610.88 L554.25,611.24 L555.27,611.60 L556.28,611.96 L557.30,612.31 L558.32,612.66 L559.33,613.00 L560.35,613.34 L561.37,613.68 L562.38,614.00 L563.40,614.33 L564.42,614.64 L565.43,614.95 L566.45,615.25 L567.46,615.55 L568.48,615.83 L569.50,616.11 L570.51,616.38 L571.53,616.64 L572.55,616.89 L573.56,617.13 L574.58,617.36 L575.60,617.57 L576.61,617.78 L577.63,617.98 L578.64,618.16 L579.66,618.33 L580.68,618.50 L581.69,618.66 L582.71,618.80 L583.73,618.95 L584.74,619.08 L585.76,619.22 L586.78,619.34 L587.79,619.47 L588.81,619.59 L589.83,619.71 L590.84,619.83 L591.86,619.95 L592.87,620.07 L593.89,620.19 L594.91,620.32 L595.92,620.45 L596.94,620.58 L597.96,620.72 L598.97,620.86 L599.99,621.01 L601.01,621.17 L602.02,621.33 L603.04,621.51 L604.05,621.69 L605.07,621.89 L606.09,622.09 L607.10,622.31 L608.12,622.55 L609.14,622.80 L610.15,623.08 L611.17,623.39 L612.19,623.74 L613.20,624.11 L614.22,624.52 L615.23,624.95 L616.25,625.40 L617.27,625.88 L618.28,626.38 L619.30,626.90 L620.32,627.44 L621.33,628.00 L622.35,628.57 L623.37,629.15 L624.38,629.75 L625.40,630.35 L626.42,631.03 L627.43,631.78 L628.45,632.59 L629.46,633.43 L630.48,634.29 L631.50,635.14 L632.51,635.99 L633.53,636.86 L634.55,637.76 L635.56,638.67 L636.58,639.56 L637.60,640.41 L638.61,641.19 L639.63,641.95 L640.64,642.71 L641.66,643.48 L642.68,644.24 L643.69,644.98 L644.71,645.71 L645.73,646.41 L646.74,647.07 L647.76,647.70 L648.78,648.28 L649.79,648.81 L650.81,649.28 L651.82,649.68 L652.84,650.02 L653.86,650.34 L654.87,650.64 L655.89,650.94 L656.91,651.22 L657.92,651.49 L658.94,651.73 L659.96,651.97 L660.97,652.18 L661.99,652.38 L663.01,652.55 L664.02,652.70 L665.04,652.83 L666.05,652.94 L667.07,653.02 L668.09,653.09 L669.10,653.16 L670.12,653.22 L671.14,653.29 L672.15,653.35 L673.17,653.40 L674.19,653.45 L675.20,653.49 L676.22,653.53 L677.23,653.57 L678.25,653.59 L679.27,653.61 L680.28,653.62 L681.30,653.63" stroke="#f8c232" stroke-width="1.7"/>
<path d="M377.40,548.34 L378.42,548.65 L379.43,548.96 L380.45,549.27 L381.47,549.58 L382.48,549.89 L383.50,550.20 L384.51,550.51 L385.53,550.82 L386.55,551.13 L387.56,551.44 L388.58,551.74 L389.60,552.04 L390.61,552.35 L391.63,552.65 L392.65,552.94 L393.66,553.24 L394.68,553.53 L395.69,553.82 L396.71,554.11 L397.73,554.39 L398.74,554.67 L399.76,554.95 L400.78,555.22 L401.79,555.48 L402.81,555.74 L403.83,555.99 L404.84,556.24 L405.86,556.47 L406.88,556.70 L407.89,556.93 L408.91,557.14 L409.92,557.34 L410.94,557.53 L411.96,557.71 L412.97,557.88 L413.99,558.04 L415.01,558.18 L416.02,558.30 L417.04,558.42 L418.06,558.51 L419.07,558.59 L420.09,558.65 L421.10,558.69 L422.12,558.71 L423.14,558.71 L424.15,558.68 L425.17,558.63 L426.19,558.56 L427.20,558.46 L428.22,558.33 L429.24,558.17 L430.25,557.99 L431.27,557.76 L432.28,557.51 L433.30,557.21 L434.32,556.88 L435.33,556.51 L436.35,556.10 L437.37,555.65 L438.38,555.15 L439.40,554.60 L440.42,554.01 L441.43,553.37 L442.45,552.68 L443.47,551.93 L444.48,551.13 L445.50,550.27 L446.51,549.36 L447.53,548.39 L448.55,547.35 L449.56,546.26 L450.58,545.10 L451.60,543.88 L452.61,542.59 L453.63,541.24 L454.65,539.82 L455.66,538.33 L456.68,536.77 L457.69,535.14 L458.71,533.44 L459.73,531.67 L460.74,529.83 L461.76,527.92 L462.78,525.94 L463.79,523.89 L464.81,521.76 L465.83,519.57 L466.84,517.31 L467.86,514.98 L468.87,512.59 L469.89,510.13 L470.91,507.61 L471.92,505.03 L472.94,502.39 L473.96,499.69 L474.97,496.95 L475.99,494.15 L477.01,491.30 L478.02,488.41 L479.04,485.48 L480.06,482.52 L481.07,479.52 L482.09,476.49 L483.10,473.43 L484.12,470.35 L485.14,467.26 L486.15,464.16 L487.17,461.05 L488.19,457.94 L489.20,454.83 L490.22,451.73 L491.24,448.64 L492.25,445.58 L493.27,442.54 L494.28,439.53 L495.30,436.56 L496.32,433.63 L497.33,430.75 L498.35,427.93 L499.37,425.16 L500.38,422.47 L501.40,419.84 L502.42,417.29 L503.43,414.83 L504.45,412.45 L505.46,410.17 L506.48,407.99 L507.50,405.91 L508.51,403.95 L509.53,402.10 L510.55,400.37 L511.56,398.76 L512.58,397.28 L513.60,395.93 L514.61,394.72 L515.63,393.65 L516.65,392.73 L517.66,391.94 L518.68,391.31 L519.69,390.82 L520.71,390.49 L521.73,390.31 L522.74,390.28 L523.76,390.41 L524.78,390.69 L525.79,391.13 L526.81,391.71 L527.83,392.44 L528.84,393.32 L529.86,394.34 L530.87,395.51 L531.89,396.82 L532.91,398.26 L533.92,399.85 L534.94,401.57 L535.96,403.43 L536.97,405.41 L537.99,407.52 L539.01,409.75 L540.02,412.10 L541.04,414.56 L542.05,417.13 L543.07,419.81 L544.09,422.59 L545.10,425.47 L546.12,428.45 L547.14,431.52 L548.15,434.67 L549.17,437.90 L550.19,441.20 L551.20,444.57 L552.22,448.00 L553.24,451.49 L554.25,455.03 L555.27,458.61 L556.28,462.22 L557.30,465.87 L558.32,469.54 L559.33,473.24 L560.35,476.95 L561.37,480.66 L562.38,484.38 L563.40,488.10 L564.42,491.81 L565.43,495.50 L566.45,499.18 L567.46,502.83 L568.48,506.46 L569.50,510.06 L570.51,513.62 L571.53,517.13 L572.55,520.61 L573.56,524.03 L574.58,527.40 L575.60,530.72 L576.61,533.98 L577.63,537.18 L578.64,540.31 L579.66,543.38 L580.68,546.38 L581.69,549.32 L582.71,552.19 L583.73,554.99 L584.74,557.73 L585.76,560.39 L586.78,562.99 L587.79,565.51 L588.81,567.97 L589.83,570.36 L590.84,572.69 L591.86,574.94 L592.87,577.14 L593.89,579.26 L594.91,581.33 L595.92,583.33 L596.94,585.27 L597.96,587.15 L598.97,588.97 L599.99,590.74 L601.01,592.45 L602.02,594.11 L603.04,595.72 L604.05,597.29 L605.07,598.80 L606.09,600.27 L607.10,601.70 L608.12,603.09 L609.14,604.44 L610.15,605.78 L611.17,607.10 L612.19,608.40 L613.20,609.69 L614.22,610.96 L615.23,612.21 L616.25,613.45 L617.27,614.67 L618.28,615.87 L619.30,617.06 L620.32,618.23 L621.33,619.38 L622.35,620.52 L623.37,621.63 L624.38,622.73 L625.40,623.81 L626.42,624.93 L627.43,626.10 L628.45,627.30 L629.46,628.51 L630.48,629.72 L631.50,630.90 L632.51,632.05 L633.53,633.21 L634.55,634.38 L635.56,635.54 L636.58,636.66 L637.60,637.72 L638.61,638.71 L639.63,639.66 L640.64,640.60 L641.66,641.53 L642.68,642.44 L643.69,643.33 L644.71,644.19 L645.73,645.01 L646.74,645.79 L647.76,646.52 L648.78,647.20 L649.79,647.82 L650.81,648.37 L651.82,648.85 L652.84,649.26 L653.86,649.64 L654.87,650.01 L655.89,650.36 L656.91,650.69 L657.92,651.00 L658.94,651.29 L659.96,651.57 L660.97,651.82 L661.99,652.04 L663.01,652.25 L664.02,652.43 L665.04,652.58 L666.05,652.71 L667.07,652.81 L668.09,652.90 L669.10,652.99 L670.12,653.07 L671.14,653.15 L672.15,653.22 L673.17,653.29 L674.19,653.35 L675.20,653.40 L676.22,653.45 L677.23,653.49 L678.25,653.53 L679.27,653.55 L680.28,653.57 L681.30,653.58" stroke="#f8c232" stroke-width="1.7"/>
<path d="M377.40,548.43 L378.42,548.75 L379.43,549.07 L380.45,549.39 L381.47,549.72 L382.48,550.04 L383.50,550.37 L384.51,550.70 L385.53,551.02 L386.55,551.35 L387.56,551.68 L388.58,552.01 L389.60,552.35 L390.61,552.68 L391.63,553.01 L392.65,553.35 L393.66,553.68 L394.68,554.02 L395.69,554.36 L396.71,554.70 L397.73,555.04 L398.74,555.38 L399.76,555.72 L400.78,556.07 L401.79,556.41 L402.81,556.76 L403.83,557.11 L404.84,557.45 L405.86,557.80 L406.88,558.15 L407.89,558.50 L408.91,558.85 L409.92,559.21 L410.94,559.56 L411.96,559.92 L412.97,560.27 L413.99,560.63 L415.01,560.99 L416.02,561.35 L417.04,561.71 L418.06,562.07 L419.07,562.43 L420.09,562.80 L421.10,563.17 L422.12,563.54 L423.14,563.91 L424.15,564.29 L425.17,564.66 L426.19,565.04 L427.20,565.42 L428.22,565.80 L429.24,566.19 L430.25,566.57 L431.27,566.96 L432.28,567.35 L433.30,567.73 L434.32,568.12 L435.33,568.52 L436.35,568.91 L437.37,569.30 L438.38,569.69 L439.40,570.09 L440.42,570.49 L441.43,570.88 L442.45,571.28 L443.47,571.67 L444.48,572.07 L445.50,572.47 L446.51,572.87 L447.53,573.26 L448.55,573.66 L449.56,574.06 L450.58,574.46 L451.60,574.85 L452.61,575.25 L453.63,575.65 L454.65,576.04 L455.66,576.44 L456.68,576.83 L457.69,577.22 L458.71,577.62 L459.73,578.01 L460.74,578.40 L461.76,578.79 L462.78,579.18 L463.79,579.56 L464.81,579.95 L465.83,580.33 L466.84,580.71 L467.86,581.09 L468.87,581.47 L469.89,581.85 L470.91,582.23 L471.92,582.60 L472.94,582.98 L473.96,583.35 L474.97,583.73 L475.99,584.10 L477.01,584.47 L478.02,584.85 L479.04,585.22 L480.06,585.59 L481.07,585.96 L482.09,586.33 L483.10,586.70 L484.12,587.07 L485.14,587.44 L486.15,587.80 L487.17,588.17 L488.19,588.53 L489.20,588.90 L490.22,589.26 L491.24,589.62 L492.25,589.98 L493.27,590.34 L494.28,590.70 L495.30,591.05 L496.32,591.41 L497.33,591.76 L498.35,592.11 L499.37,592.45 L500.38,592.79 L501.40,593.13 L502.42,593.46 L503.43,593.79 L504.45,594.12 L505.46,594.44 L506.48,594.75 L507.50,595.05 L508.51,595.35 L509.53,595.64 L510.55,595.91 L511.56,596.18 L512.58,596.44 L513.60,596.68 L514.61,596.91 L515.63,597.12 L516.65,597.32 L517.66,597.49 L518.68,597.65 L519.69,597.78 L520.71,597.88 L521.73,597.96 L522.74,598.01 L523.76,598.02 L524.78,598.00 L525.79,597.94 L526.81,597.84 L527.83,597.70 L528.84,597.51 L529.86,597.27 L530.87,596.97 L531.89,596.62 L532.91,596.21 L533.92,595.74 L534.94,595.21 L535.96,594.60 L536.97,593.92 L537.99,593.17 L539.01,592.34 L540.02,591.43 L541.04,590.44 L542.05,589.37 L543.07,588.21 L544.09,586.97 L545.10,585.64 L546.12,584.24 L547.14,582.75 L548.15,581.17 L549.17,579.52 L550.19,577.78 L551.20,575.96 L552.22,574.07 L553.24,572.10 L554.25,570.06 L555.27,567.95 L556.28,565.79 L557.30,563.56 L558.32,561.29 L559.33,558.97 L560.35,556.61 L561.37,554.23 L562.38,551.83 L563.40,549.42 L564.42,547.01 L565.43,544.60 L566.45,542.22 L567.46,539.86 L568.48,537.55 L569.50,535.29 L570.51,533.09 L571.53,530.96 L572.55,528.92 L573.56,526.97 L574.58,525.13 L575.60,523.40 L576.61,521.79 L577.63,520.32 L578.64,518.99 L579.66,517.81 L580.68,516.79 L581.69,515.94 L582.71,515.26 L583.73,514.76 L584.74,514.44 L585.76,514.30 L586.78,514.36 L587.79,514.61 L588.81,515.07 L589.83,515.73 L590.84,516.59 L591.86,517.64 L592.87,518.89 L593.89,520.33 L594.91,521.95 L595.92,523.74 L596.94,525.69 L597.96,527.80 L598.97,530.05 L599.99,532.43 L601.01,534.94 L602.02,537.56 L603.04,540.28 L604.05,543.09 L605.07,545.98 L606.09,548.92 L607.10,551.93 L608.12,554.97 L609.14,558.04 L610.15,561.15 L611.17,564.29 L612.19,567.44 L613.20,570.60 L614.22,573.74 L615.23,576.87 L616.25,579.97 L617.27,583.03 L618.28,586.05 L619.30,589.01 L620.32,591.91 L621.33,594.75 L622.35,597.52 L623.37,600.21 L624.38,602.83 L625.40,605.37 L626.42,607.88 L627.43,610.37 L628.45,612.83 L629.46,615.23 L630.48,617.56 L631.50,619.80 L632.51,621.93 L633.53,624.02 L634.55,626.05 L635.56,628.01 L636.58,629.88 L637.60,631.63 L638.61,633.24 L639.63,634.77 L640.64,636.25 L641.66,637.66 L642.68,639.02 L643.69,640.31 L644.71,641.53 L645.73,642.68 L646.74,643.75 L647.76,644.75 L648.78,645.66 L649.79,646.49 L650.81,647.23 L651.82,647.87 L652.84,648.43 L653.86,648.94 L654.87,649.42 L655.89,649.87 L656.91,650.28 L657.92,650.67 L658.94,651.03 L659.96,651.35 L660.97,651.65 L661.99,651.91 L663.01,652.15 L664.02,652.36 L665.04,652.54 L666.05,652.68 L667.07,652.80 L668.09,652.90 L669.10,653.00 L670.12,653.09 L671.14,653.17 L672.15,653.25 L673.17,653.32 L674.19,653.38 L675.20,653.44 L676.22,653.48 L677.23,653.52 L678.25,653.56 L679.27,653.58 L680.28,653.60 L681.30,653.61" stroke="#f8c232" stroke-width="1.7"/>
</g>
<g fill="none" stroke="#bf9414" stroke-width="1.05">
<circle cx="377.40" cy="546.25" r="2.4"/>
<circle cx="378.41" cy="544.71" r="2.4"/>
<circle cx="379.43" cy="548.02" r="2.4"/>
<circle cx="380.44" cy="543.30" r="2.4"/>
<circle cx="381.45" cy="545.59" r="2.4"/>
<circle cx="382.46" cy="547.98" r="2.4"/>
<circle cx="383.48" cy="545.07" r="2.4"/>
<circle cx="384.49" cy="541.34" r="2.4"/>
<circle cx="385.50" cy="541.37" r="2.4"/>
<circle cx="386.52" cy="544.41" r="2.4"/>
<circle cx="387.53" cy="539.26" r="2.4"/>
<circle cx="388.54" cy="540.28" r="2.4"/>
<circle cx="389.56" cy="538.45" r="2.4"/>
<circle cx="390.57" cy="538.28" r="2.4"/>
<circle cx="391.58" cy="541.57" r="2.4"/>
<circle cx="392.59" cy="537.30" r="2.4"/>
<circle cx="393.61" cy="539.16" r="2.4"/>
<circle cx="394.62" cy="533.17" r="2.4"/>
<circle cx="395.63" cy="534.60" r="2.4"/>
<circle cx="396.65" cy="535.61" r="2.4"/>
<circle cx="397.66" cy="537.45" r="2.4"/>
<circle cx="398.67" cy="534.05" r="2.4"/>
<circle cx="399.69" cy="532.94" r="2.4"/>
<circle cx="400.70" cy="535.51" r="2.4"/>
<circle cx="401.71" cy="526.26" r="2.4"/>
<circle cx="402.72" cy="530.15" r="2.4"/>
<circle cx="403.74" cy="526.15" r="2.4"/>
<circle cx="404.75" cy="532.38" r="2.4"/>
<circle cx="405.76" cy="524.62" r="2.4"/>
<circle cx="406.78" cy="531.22" r="2.4"/>
<circle cx="407.79" cy="528.47" r="2.4"/>
<circle cx="408.80" cy="524.45" r="2.4"/>
<circle cx="409.82" cy="524.67" r="2.4"/>
<circle cx="410.83" cy="529.68" r="2.4"/>
<circle cx="411.84" cy="525.46" r="2.4"/>
<circle cx="412.85" cy="519.45" r="2.4"/>
<circle cx="413.87" cy="515.14" r="2.4"/>
<circle cx="414.88" cy="516.86" r="2.4"/>
<circle cx="415.03" cy="519.79" r="2.4"/>
<circle cx="416.47" cy="514.83" r="2.4"/>
<circle cx="417.92" cy="518.61" r="2.4"/>
<circle cx="419.37" cy="510.05" r="2.4"/>
<circle cx="420.81" cy="511.71" r="2.4"/>
<circle cx="422.26" cy="503.97" r="2.4"/>
<circle cx="423.71" cy="500.46" r="2.4"/>
<circle cx="425.16" cy="493.84" r="2.4"/>
<circle cx="426.60" cy="493.16" r="2.4"/>
<circle cx="428.05" cy="484.82" r="2.4"/>
<circle cx="429.50" cy="484.99" r="2.4"/>
<circle cx="430.94" cy="478.58" r="2.4"/>
<circle cx="432.39" cy="475.36" r="2.4"/>
<circle cx="433.84" cy="479.72" r="2.4"/>
<circle cx="435.29" cy="470.93" r="2.4"/>
<circle cx="436.73" cy="467.70" r="2.4"/>
<circle cx="438.18" cy="466.91" r="2.4"/>
<circle cx="439.63" cy="461.00" r="2.4"/>
<circle cx="441.07" cy="462.76" r="2.4"/>
<circle cx="442.52" cy="455.15" r="2.4"/>
<circle cx="443.97" cy="453.66" r="2.4"/>
<circle cx="445.42" cy="452.73" r="2.4"/>
<circle cx="446.86" cy="444.92" r="2.4"/>
<circle cx="448.31" cy="449.80" r="2.4"/>
<circle cx="449.76" cy="449.39" r="2.4"/>
<circle cx="451.20" cy="451.01" r="2.4"/>
<circle cx="452.65" cy="447.38" r="2.4"/>
<circle cx="454.10" cy="450.55" r="2.4"/>
<circle cx="455.55" cy="443.60" r="2.4"/>
<circle cx="456.99" cy="448.90" r="2.4"/>
<circle cx="458.44" cy="446.31" r="2.4"/>
<circle cx="459.89" cy="440.79" r="2.4"/>
<circle cx="461.33" cy="442.73" r="2.4"/>
<circle cx="462.78" cy="443.46" r="2.4"/>
<circle cx="464.23" cy="438.20" r="2.4"/>
<circle cx="465.68" cy="440.50" r="2.4"/>
<circle cx="467.12" cy="436.14" r="2.4"/>
<circle cx="468.57" cy="436.56" r="2.4"/>
<circle cx="470.02" cy="437.40" r="2.4"/>
<circle cx="471.46" cy="431.61" r="2.4"/>
<circle cx="472.91" cy="428.24" r="2.4"/>
<circle cx="474.36" cy="430.17" r="2.4"/>
<circle cx="475.81" cy="430.52" r="2.4"/>
<circle cx="477.25" cy="426.95" r="2.4"/>
<circle cx="478.70" cy="430.41" r="2.4"/>
<circle cx="480.15" cy="423.20" r="2.4"/>
<circle cx="481.59" cy="422.48" r="2.4"/>
<circle cx="483.04" cy="411.94" r="2.4"/>
<circle cx="484.49" cy="417.99" r="2.4"/>
<circle cx="485.94" cy="419.24" r="2.4"/>
<circle cx="487.38" cy="410.50" r="2.4"/>
<circle cx="488.83" cy="411.83" r="2.4"/>
<circle cx="490.28" cy="408.50" r="2.4"/>
<circle cx="491.72" cy="405.14" r="2.4"/>
<circle cx="493.17" cy="402.08" r="2.4"/>
<circle cx="494.62" cy="400.77" r="2.4"/>
<circle cx="496.07" cy="400.88" r="2.4"/>
<circle cx="497.51" cy="406.14" r="2.4"/>
<circle cx="498.96" cy="410.74" r="2.4"/>
<circle cx="500.41" cy="407.85" r="2.4"/>
<circle cx="501.85" cy="408.21" r="2.4"/>
<circle cx="503.30" cy="402.77" r="2.4"/>
<circle cx="504.75" cy="399.19" r="2.4"/>
<circle cx="506.20" cy="396.63" r="2.4"/>
<circle cx="507.64" cy="394.00" r="2.4"/>
<circle cx="509.09" cy="393.55" r="2.4"/>
<circle cx="510.54" cy="386.06" r="2.4"/>
<circle cx="511.98" cy="388.92" r="2.4"/>
<circle cx="513.43" cy="386.02" r="2.4"/>
<circle cx="514.88" cy="385.80" r="2.4"/>
<circle cx="516.33" cy="383.46" r="2.4"/>
<circle cx="517.77" cy="383.46" r="2.4"/>
<circle cx="519.22" cy="376.05" r="2.4"/>
<circle cx="520.67" cy="380.18" r="2.4"/>
<circle cx="522.11" cy="385.98" r="2.4"/>
<circle cx="523.56" cy="381.72" r="2.4"/>
<circle cx="525.01" cy="384.19" r="2.4"/>
<circle cx="526.46" cy="377.23" r="2.4"/>
<circle cx="527.90" cy="375.72" r="2.4"/>
<circle cx="529.35" cy="381.16" r="2.4"/>
<circle cx="530.80" cy="378.29" r="2.4"/>
<circle cx="532.24" cy="376.98" r="2.4"/>
<circle cx="533.69" cy="377.88" r="2.4"/>
<circle cx="535.14" cy="378.40" r="2.4"/>
<circle cx="536.59" cy="388.99" r="2.4"/>
<circle cx="538.03" cy="396.11" r="2.4"/>
<circle cx="539.48" cy="395.00" r="2.4"/>
<circle cx="540.93" cy="400.25" r="2.4"/>
<circle cx="542.37" cy="404.49" r="2.4"/>
<circle cx="543.82" cy="408.18" r="2.4"/>
<circle cx="545.27" cy="414.88" r="2.4"/>
<circle cx="546.72" cy="420.34" r="2.4"/>
<circle cx="548.16" cy="413.23" r="2.4"/>
<circle cx="549.61" cy="419.15" r="2.4"/>
<circle cx="551.06" cy="423.14" r="2.4"/>
<circle cx="552.50" cy="424.63" r="2.4"/>
<circle cx="553.95" cy="418.64" r="2.4"/>
<circle cx="555.40" cy="420.86" r="2.4"/>
<circle cx="556.85" cy="419.91" r="2.4"/>
<circle cx="558.29" cy="417.66" r="2.4"/>
<circle cx="559.74" cy="421.44" r="2.4"/>
<circle cx="561.19" cy="423.54" r="2.4"/>
<circle cx="562.63" cy="423.50" r="2.4"/>
<circle cx="564.08" cy="424.97" r="2.4"/>
<circle cx="565.53" cy="423.33" r="2.4"/>
<circle cx="566.98" cy="425.84" r="2.4"/>
<circle cx="568.42" cy="423.91" r="2.4"/>
<circle cx="569.87" cy="427.40" r="2.4"/>
<circle cx="571.32" cy="428.54" r="2.4"/>
<circle cx="572.76" cy="428.81" r="2.4"/>
<circle cx="574.21" cy="429.13" r="2.4"/>
<circle cx="575.66" cy="431.34" r="2.4"/>
<circle cx="577.11" cy="438.38" r="2.4"/>
<circle cx="578.55" cy="440.65" r="2.4"/>
<circle cx="580.00" cy="445.51" r="2.4"/>
<circle cx="581.45" cy="444.05" r="2.4"/>
<circle cx="582.89" cy="445.70" r="2.4"/>
<circle cx="584.34" cy="455.35" r="2.4"/>
<circle cx="585.79" cy="455.05" r="2.4"/>
<circle cx="587.24" cy="462.18" r="2.4"/>
<circle cx="588.68" cy="470.46" r="2.4"/>
<circle cx="590.13" cy="477.00" r="2.4"/>
<circle cx="591.58" cy="482.67" r="2.4"/>
<circle cx="593.02" cy="483.10" r="2.4"/>
<circle cx="594.47" cy="494.56" r="2.4"/>
<circle cx="595.92" cy="496.91" r="2.4"/>
<circle cx="597.37" cy="500.15" r="2.4"/>
<circle cx="598.81" cy="507.96" r="2.4"/>
<circle cx="600.26" cy="509.10" r="2.4"/>
<circle cx="601.71" cy="519.96" r="2.4"/>
<circle cx="603.15" cy="520.82" r="2.4"/>
<circle cx="604.60" cy="530.71" r="2.4"/>
<circle cx="606.05" cy="532.46" r="2.4"/>
<circle cx="607.50" cy="536.08" r="2.4"/>
<circle cx="608.94" cy="536.63" r="2.4"/>
<circle cx="610.39" cy="546.16" r="2.4"/>
<circle cx="611.84" cy="550.76" r="2.4"/>
<circle cx="613.28" cy="561.41" r="2.4"/>
<circle cx="614.73" cy="561.41" r="2.4"/>
<circle cx="616.18" cy="574.17" r="2.4"/>
<circle cx="617.63" cy="579.91" r="2.4"/>
<circle cx="619.07" cy="588.28" r="2.4"/>
<circle cx="620.52" cy="588.32" r="2.4"/>
<circle cx="621.97" cy="590.14" r="2.4"/>
<circle cx="623.41" cy="599.12" r="2.4"/>
<circle cx="624.86" cy="602.16" r="2.4"/>
<circle cx="626.31" cy="606.08" r="2.4"/>
<circle cx="627.76" cy="609.25" r="2.4"/>
<circle cx="629.20" cy="613.43" r="2.4"/>
<circle cx="630.65" cy="619.21" r="2.4"/>
<circle cx="632.10" cy="614.53" r="2.4"/>
<circle cx="633.54" cy="627.48" r="2.4"/>
<circle cx="634.99" cy="625.47" r="2.4"/>
<circle cx="635.71" cy="625.83" r="2.4"/>
<circle cx="636.44" cy="626.63" r="2.4"/>
<circle cx="637.16" cy="628.95" r="2.4"/>
<circle cx="637.89" cy="630.24" r="2.4"/>
<circle cx="638.61" cy="631.11" r="2.4"/>
<circle cx="639.33" cy="632.47" r="2.4"/>
<circle cx="640.06" cy="632.59" r="2.4"/>
<circle cx="640.78" cy="634.76" r="2.4"/>
<circle cx="641.50" cy="636.30" r="2.4"/>
<circle cx="642.23" cy="636.96" r="2.4"/>
<circle cx="642.95" cy="637.54" r="2.4"/>
<circle cx="643.67" cy="637.60" r="2.4"/>
<circle cx="644.40" cy="638.26" r="2.4"/>
<circle cx="645.12" cy="640.86" r="2.4"/>
<circle cx="645.85" cy="642.65" r="2.4"/>
<circle cx="646.57" cy="643.43" r="2.4"/>
<circle cx="647.29" cy="641.29" r="2.4"/>
<circle cx="648.02" cy="644.17" r="2.4"/>
<circle cx="648.74" cy="644.16" r="2.4"/>
<circle cx="649.46" cy="643.60" r="2.4"/>
<circle cx="650.19" cy="646.39" r="2.4"/>
<circle cx="650.91" cy="646.56" r="2.4"/>
<circle cx="651.63" cy="647.40" r="2.4"/>
<circle cx="652.36" cy="648.29" r="2.4"/>
<circle cx="653.08" cy="647.14" r="2.4"/>
<circle cx="653.80" cy="647.32" r="2.4"/>
<circle cx="654.53" cy="650.17" r="2.4"/>
<circle cx="655.25" cy="648.15" r="2.4"/>
<circle cx="655.97" cy="649.52" r="2.4"/>
<circle cx="656.70" cy="649.51" r="2.4"/>
<circle cx="657.42" cy="649.81" r="2.4"/>
<circle cx="658.15" cy="651.37" r="2.4"/>
<circle cx="658.87" cy="650.82" r="2.4"/>
<circle cx="659.59" cy="651.65" r="2.4"/>
<circle cx="660.32" cy="649.47" r="2.4"/>
<circle cx="661.04" cy="649.48" r="2.4"/>
<circle cx="661.76" cy="651.45" r="2.4"/>
<circle cx="662.49" cy="652.70" r="2.4"/>
<circle cx="663.21" cy="650.93" r="2.4"/>
<circle cx="663.93" cy="652.23" r="2.4"/>
<circle cx="664.66" cy="650.76" r="2.4"/>
<circle cx="665.38" cy="650.70" r="2.4"/>
<circle cx="666.11" cy="651.07" r="2.4"/>
<circle cx="666.83" cy="652.90" r="2.4"/>
<circle cx="667.55" cy="653.49" r="2.4"/>
<circle cx="668.28" cy="653.30" r="2.4"/>
<circle cx="669.00" cy="652.90" r="2.4"/>
<circle cx="669.72" cy="653.67" r="2.4"/>
<circle cx="670.45" cy="651.97" r="2.4"/>
<circle cx="671.17" cy="652.49" r="2.4"/>
<circle cx="671.89" cy="653.13" r="2.4"/>
<circle cx="672.62" cy="653.50" r="2.4"/>
<circle cx="673.34" cy="652.68" r="2.4"/>
<circle cx="674.06" cy="652.12" r="2.4"/>
<circle cx="674.79" cy="654.93" r="2.4"/>
<circle cx="675.51" cy="653.17" r="2.4"/>
<circle cx="676.23" cy="653.65" r="2.4"/>
<circle cx="676.96" cy="654.06" r="2.4"/>
<circle cx="677.68" cy="653.76" r="2.4"/>
<circle cx="678.41" cy="653.38" r="2.4"/>
<circle cx="679.13" cy="651.96" r="2.4"/>
<circle cx="679.85" cy="653.49" r="2.4"/>
<circle cx="680.58" cy="653.91" r="2.4"/>
<circle cx="494.62" cy="390.53" r="2.4"/>
<circle cx="533.40" cy="370.87" r="2.4"/>
<circle cx="531.67" cy="376.72" r="2.4"/>
</g>
<g clip-path="url(#clipd)" fill="none" stroke-linejoin="round">
<path d="M377.40,544.29 L378.42,544.24 L379.43,544.16 L380.45,544.05 L381.47,543.91 L382.48,543.74 L383.50,543.54 L384.51,543.30 L385.53,543.03 L386.55,542.72 L387.56,542.37 L388.58,541.98 L389.60,541.55 L390.61,541.07 L391.63,540.55 L392.65,539.98 L393.66,539.36 L394.68,538.70 L395.69,537.98 L396.71,537.21 L397.73,536.39 L398.74,535.52 L399.76,534.59 L400.78,533.60 L401.79,532.56 L402.81,531.47 L403.83,530.32 L404.84,529.11 L405.86,527.85 L406.88,526.54 L407.89,525.16 L408.91,523.74 L409.92,522.26 L410.94,520.73 L411.96,519.15 L412.97,517.53 L413.99,515.85 L415.01,514.14 L416.02,512.37 L417.04,510.57 L418.06,508.74 L419.07,506.86 L420.09,504.96 L421.10,503.03 L422.12,501.08 L423.14,499.11 L424.15,497.11 L425.17,495.11 L426.19,493.10 L427.20,491.07 L428.22,489.05 L429.24,487.03 L430.25,485.01 L431.27,483.00 L432.28,481.01 L433.30,479.03 L434.32,477.07 L435.33,475.13 L436.35,473.22 L437.37,471.34 L438.38,469.49 L439.40,467.68 L440.42,465.90 L441.43,464.17 L442.45,462.48 L443.47,460.83 L444.48,459.23 L445.50,457.67 L446.51,456.16 L447.53,454.70 L448.55,453.29 L449.56,451.93 L450.58,450.61 L451.60,449.35 L452.61,448.13 L453.63,446.97 L454.65,445.85 L455.66,444.79 L456.68,443.77 L457.69,442.79 L458.71,441.86 L459.73,440.96 L460.74,440.10 L461.76,439.26 L462.78,438.46 L463.79,437.67 L464.81,436.91 L465.83,436.15 L466.84,435.41 L467.86,434.68 L468.87,433.94 L469.89,433.21 L470.91,432.46 L471.92,431.71 L472.94,430.95 L473.96,430.17 L474.97,429.37 L475.99,428.55 L477.01,427.71 L478.02,426.83 L479.04,425.93 L480.06,424.99 L481.07,424.02 L482.09,423.02 L483.10,421.98 L484.12,420.91 L485.14,419.80 L486.15,418.66 L487.17,417.49 L488.19,416.28 L489.20,415.04 L490.22,413.77 L491.24,412.48 L492.25,411.17 L493.27,409.83 L494.28,408.48 L495.30,407.12 L496.32,405.75 L497.33,404.37 L498.35,403.00 L499.37,401.63 L500.38,400.27 L501.40,398.93 L502.42,397.61 L503.43,396.32 L504.45,395.06 L505.46,393.83 L506.48,392.65 L507.50,391.51 L508.51,390.43 L509.53,389.41 L510.55,388.45 L511.56,387.55 L512.58,386.73 L513.60,385.99 L514.61,385.32 L515.63,384.74 L516.65,384.25 L517.66,383.84 L518.68,383.52 L519.69,383.30 L520.71,383.17 L521.73,383.13 L522.74,383.19 L523.76,383.35 L524.78,383.59 L525.79,383.93 L526.81,384.35 L527.83,384.86 L528.84,385.44 L529.86,386.10 L530.87,386.84 L531.89,387.64 L532.91,388.52 L533.92,389.45 L534.94,390.44 L535.96,391.48 L536.97,392.57 L537.99,393.70 L539.01,394.87 L540.02,396.07 L541.04,397.29 L542.05,398.54 L543.07,399.79 L544.09,401.06 L545.10,402.34 L546.12,403.63 L547.14,404.91 L548.15,406.19 L549.17,407.46 L550.19,408.71 L551.20,409.95 L552.22,411.17 L553.24,412.37 L554.25,413.54 L555.27,414.69 L556.28,415.81 L557.30,416.91 L558.32,417.99 L559.33,419.04 L560.35,420.08 L561.37,421.09 L562.38,422.10 L563.40,423.10 L564.42,424.09 L565.43,425.08 L566.45,426.08 L567.46,427.10 L568.48,428.13 L569.50,429.20 L570.51,430.29 L571.53,431.43 L572.55,432.61 L573.56,433.85 L574.58,435.16 L575.60,436.53 L576.61,437.98 L577.63,439.51 L578.64,441.13 L579.66,442.85 L580.68,444.67 L581.69,446.60 L582.71,448.64 L583.73,450.80 L584.74,453.07 L585.76,455.47 L586.78,458.00 L587.79,460.65 L588.81,463.44 L589.83,466.38 L590.84,469.44 L591.86,472.63 L592.87,475.96 L593.89,479.40 L594.91,482.95 L595.92,486.61 L596.94,490.38 L597.96,494.23 L598.97,498.16 L599.99,502.16 L601.01,506.23 L602.02,510.34 L603.04,514.50 L604.05,518.68 L605.07,522.89 L606.09,527.10 L607.10,531.31 L608.12,535.51 L609.14,539.69 L610.15,543.85 L611.17,548.00 L612.19,552.11 L613.20,556.17 L614.22,560.18 L615.23,564.14 L616.25,568.02 L617.27,571.82 L618.28,575.54 L619.30,579.17 L620.32,582.70 L621.33,586.14 L622.35,589.47 L623.37,592.70 L624.38,595.81 L625.40,598.82 L626.42,601.78 L627.43,604.69 L628.45,607.54 L629.46,610.32 L630.48,612.99 L631.50,615.55 L632.51,618.00 L633.53,620.37 L634.55,622.67 L635.56,624.88 L636.58,626.98 L637.60,628.95 L638.61,630.77 L639.63,632.49 L640.64,634.14 L641.66,635.72 L642.68,637.22 L643.69,638.65 L644.71,640.01 L645.73,641.28 L646.74,642.47 L647.76,643.57 L648.78,644.58 L649.79,645.50 L650.81,646.32 L651.82,647.04 L652.84,647.66 L653.86,648.24 L654.87,648.78 L655.89,649.29 L656.91,649.75 L657.92,650.19 L658.94,650.58 L659.96,650.95 L660.97,651.28 L661.99,651.58 L663.01,651.85 L664.02,652.09 L665.04,652.29 L666.05,652.46 L667.07,652.60 L668.09,652.72 L669.10,652.83 L670.12,652.94 L671.14,653.04 L672.15,653.13 L673.17,653.21 L674.19,653.28 L675.20,653.35 L676.22,653.40 L677.23,653.45 L678.25,653.49 L679.27,653.52 L680.28,653.55 L681.30,653.56" stroke="#878a14" stroke-width="2.1"/>
<path d="M377.40,548.43 L378.42,548.75 L379.43,549.07 L380.45,549.39 L381.47,549.72 L382.48,550.04 L383.50,550.37 L384.51,550.70 L385.53,551.02 L386.55,551.35 L387.56,551.68 L388.58,552.01 L389.60,552.35 L390.61,552.68 L391.63,553.01 L392.65,553.35 L393.66,553.68 L394.68,554.02 L395.69,554.36 L396.71,554.70 L397.73,555.04 L398.74,555.38 L399.76,555.72 L400.78,556.07 L401.79,556.41 L402.81,556.76 L403.83,557.11 L404.84,557.45 L405.86,557.80 L406.88,558.15 L407.89,558.50 L408.91,558.85 L409.92,559.21 L410.94,559.56 L411.96,559.92 L412.97,560.27 L413.99,560.63 L415.01,560.99 L416.02,561.35 L417.04,561.71 L418.06,562.07 L419.07,562.43 L420.09,562.80 L421.10,563.17 L422.12,563.54 L423.14,563.91 L424.15,564.29 L425.17,564.66 L426.19,565.04 L427.20,565.42 L428.22,565.80 L429.24,566.19 L430.25,566.57 L431.27,566.96 L432.28,567.35 L433.30,567.73 L434.32,568.12 L435.33,568.52 L436.35,568.91 L437.37,569.30 L438.38,569.69 L439.40,570.09 L440.42,570.49 L441.43,570.88 L442.45,571.28 L443.47,571.67 L444.48,572.07 L445.50,572.47 L446.51,572.87 L447.53,573.26 L448.55,573.66 L449.56,574.06 L450.58,574.46 L451.60,574.85 L452.61,575.25 L453.63,575.65 L454.65,576.04 L455.66,576.44 L456.68,576.83 L457.69,577.22 L458.71,577.62 L459.73,578.01 L460.74,578.40 L461.76,578.79 L462.78,579.18 L463.79,579.56 L464.81,579.95 L465.83,580.33 L466.84,580.71 L467.86,581.09 L468.87,581.47 L469.89,581.85 L470.91,582.23 L471.92,582.60 L472.94,582.98 L473.96,583.35 L474.97,583.73 L475.99,584.10 L477.01,584.47 L478.02,584.85 L479.04,585.22 L480.06,585.59 L481.07,585.96 L482.09,586.34 L483.10,586.71 L484.12,587.08 L485.14,587.45 L486.15,587.82 L487.17,588.19 L488.19,588.55 L489.20,588.92 L490.22,589.29 L491.24,589.66 L492.25,590.02 L493.27,590.39 L494.28,590.75 L495.30,591.12 L496.32,591.48 L497.33,591.85 L498.35,592.21 L499.37,592.57 L500.38,592.93 L501.40,593.30 L502.42,593.66 L503.43,594.02 L504.45,594.38 L505.46,594.74 L506.48,595.10 L507.50,595.46 L508.51,595.81 L509.53,596.17 L510.55,596.53 L511.56,596.89 L512.58,597.24 L513.60,597.60 L514.61,597.96 L515.63,598.31 L516.65,598.67 L517.66,599.03 L518.68,599.38 L519.69,599.74 L520.71,600.09 L521.73,600.45 L522.74,600.80 L523.76,601.16 L524.78,601.51 L525.79,601.86 L526.81,602.21 L527.83,602.56 L528.84,602.91 L529.86,603.26 L530.87,603.60 L531.89,603.95 L532.91,604.29 L533.92,604.64 L534.94,604.98 L535.96,605.32 L536.97,605.66 L537.99,605.99 L539.01,606.33 L540.02,606.66 L541.04,607.00 L542.05,607.33 L543.07,607.65 L544.09,607.98 L545.10,608.32 L546.12,608.65 L547.14,608.99 L548.15,609.33 L549.17,609.68 L550.19,610.02 L551.20,610.36 L552.22,610.71 L553.24,611.05 L554.25,611.40 L555.27,611.74 L556.28,612.08 L557.30,612.42 L558.32,612.75 L559.33,613.08 L560.35,613.41 L561.37,613.74 L562.38,614.06 L563.40,614.37 L564.42,614.68 L565.43,614.99 L566.45,615.28 L567.46,615.57 L568.48,615.85 L569.50,616.13 L570.51,616.39 L571.53,616.65 L572.55,616.90 L573.56,617.14 L574.58,617.36 L575.60,617.58 L576.61,617.79 L577.63,617.98 L578.64,618.16 L579.66,618.34 L580.68,618.50 L581.69,618.66 L582.71,618.81 L583.73,618.95 L584.74,619.09 L585.76,619.22 L586.78,619.35 L587.79,619.47 L588.81,619.59 L589.83,619.71 L590.84,619.83 L591.86,619.95 L592.87,620.07 L593.89,620.19 L594.91,620.32 L595.92,620.45 L596.94,620.58 L597.96,620.72 L598.97,620.86 L599.99,621.01 L601.01,621.17 L602.02,621.33 L603.04,621.51 L604.05,621.69 L605.07,621.89 L606.09,622.09 L607.10,622.31 L608.12,622.55 L609.14,622.80 L610.15,623.08 L611.17,623.39 L612.19,623.74 L613.20,624.11 L614.22,624.52 L615.23,624.95 L616.25,625.40 L617.27,625.88 L618.28,626.38 L619.30,626.90 L620.32,627.44 L621.33,628.00 L622.35,628.57 L623.37,629.15 L624.38,629.75 L625.40,630.35 L626.42,631.03 L627.43,631.78 L628.45,632.59 L629.46,633.43 L630.48,634.29 L631.50,635.14 L632.51,635.99 L633.53,636.86 L634.55,637.76 L635.56,638.67 L636.58,639.56 L637.60,640.41 L638.61,641.19 L639.63,641.95 L640.64,642.71 L641.66,643.48 L642.68,644.24 L643.69,644.98 L644.71,645.71 L645.73,646.41 L646.74,647.07 L647.76,647.70 L648.78,648.28 L649.79,648.81 L650.81,649.28 L651.82,649.68 L652.84,650.02 L653.86,650.34 L654.87,650.64 L655.89,650.94 L656.91,651.22 L657.92,651.49 L658.94,651.73 L659.96,651.97 L660.97,652.18 L661.99,652.38 L663.01,652.55 L664.02,652.70 L665.04,652.83 L666.05,652.94 L667.07,653.02 L668.09,653.09 L669.10,653.16 L670.12,653.22 L671.14,653.29 L672.15,653.35 L673.17,653.40 L674.19,653.45 L675.20,653.49 L676.22,653.53 L677.23,653.57 L678.25,653.59 L679.27,653.61 L680.28,653.62 L681.30,653.63" stroke="#3c3c3c" stroke-width="3.8" stroke-dasharray="7.4 11.0" stroke-linecap="round" stroke-dashoffset="0"/>
</g>
<rect x="377.4" y="362.5" width="303.9" height="292.79999999999995" fill="none" stroke="#1c1c1c" stroke-width="1.35"/>
<path d="M391.87,655.30 v-3.2 M391.87,362.50 v3.2 M420.81,655.30 v-6.0 M420.81,362.50 v6.0 M449.76,655.30 v-3.2 M449.76,362.50 v3.2 M478.70,655.30 v-6.0 M478.70,362.50 v6.0 M507.64,655.30 v-3.2 M507.64,362.50 v3.2 M536.59,655.30 v-6.0 M536.59,362.50 v6.0 M565.53,655.30 v-3.2 M565.53,362.50 v3.2 M594.47,655.30 v-6.0 M594.47,362.50 v6.0 M623.41,655.30 v-3.2 M623.41,362.50 v3.2 M652.36,655.30 v-6.0 M652.36,362.50 v6.0 M377.40,613.47 h3.2 M681.30,613.47 h-3.2 M377.40,571.64 h6.0 M681.30,571.64 h-6.0 M377.40,529.81 h3.2 M681.30,529.81 h-3.2 M377.40,487.99 h6.0 M681.30,487.99 h-6.0 M377.40,446.16 h3.2 M681.30,446.16 h-3.2 M377.40,404.33 h6.0 M681.30,404.33 h-6.0" stroke="#1c1c1c" stroke-width="1.2" fill="none"/>
<text x="147.6" y="10.2" font-size="12.6" font-weight="bold" font-style="italic" text-anchor="start" textLength="7.6" lengthAdjust="spacingAndGlyphs" fill="#1a1a1a">d</text>
<text x="156.0" y="14.3" font-size="9.6" font-weight="bold" text-anchor="start" textLength="12.0" lengthAdjust="spacingAndGlyphs" fill="#1a1a1a">NP</text>
<text x="171.4" y="10.2" font-size="12.3" font-weight="bold" text-anchor="start" textLength="58.0" lengthAdjust="spacingAndGlyphs" fill="#1a1a1a">= 360 nm</text>
<text x="474.20000000000005" y="10.2" font-size="12.6" font-weight="bold" font-style="italic" text-anchor="start" textLength="7.6" lengthAdjust="spacingAndGlyphs" fill="#1a1a1a">d</text>
<text x="482.6" y="14.3" font-size="9.6" font-weight="bold" text-anchor="start" textLength="12.0" lengthAdjust="spacingAndGlyphs" fill="#1a1a1a">NP</text>
<text x="498.0" y="10.2" font-size="12.3" font-weight="bold" text-anchor="start" textLength="58.0" lengthAdjust="spacingAndGlyphs" fill="#1a1a1a">= 390 nm</text>
<text x="147.6" y="346.2" font-size="12.6" font-weight="bold" font-style="italic" text-anchor="start" textLength="7.6" lengthAdjust="spacingAndGlyphs" fill="#1a1a1a">d</text>
<text x="156.0" y="350.3" font-size="9.6" font-weight="bold" text-anchor="start" textLength="12.0" lengthAdjust="spacingAndGlyphs" fill="#1a1a1a">NP</text>
<text x="171.4" y="346.2" font-size="12.3" font-weight="bold" text-anchor="start" textLength="58.0" lengthAdjust="spacingAndGlyphs" fill="#1a1a1a">= 420 nm</text>
<text x="474.20000000000005" y="346.2" font-size="12.6" font-weight="bold" font-style="italic" text-anchor="start" textLength="7.6" lengthAdjust="spacingAndGlyphs" fill="#1a1a1a">d</text>
<text x="482.6" y="350.3" font-size="9.6" font-weight="bold" text-anchor="start" textLength="12.0" lengthAdjust="spacingAndGlyphs" fill="#1a1a1a">NP</text>
<text x="498.0" y="346.2" font-size="12.3" font-weight="bold" text-anchor="start" textLength="58.0" lengthAdjust="spacingAndGlyphs" fill="#1a1a1a">= 540 nm</text>
<text x="38.4" y="42.7" font-size="14.2" font-weight="bold" text-anchor="start" fill="#1a1a1a">a</text>
<text x="365.0" y="42.6" font-size="14.2" font-weight="bold" text-anchor="start" fill="#1a1a1a">b</text>
<text x="38.8" y="378.7" font-size="14.2" font-weight="bold" text-anchor="start" fill="#1a1a1a">c</text>
<text x="365.0" y="378.7" font-size="14.2" font-weight="bold" text-anchor="start" fill="#1a1a1a">d</text>
<text x="43.9" y="323.3" font-size="14.2" text-anchor="end" stroke="#1a1a1a" stroke-width="0.3" textLength="7.6" lengthAdjust="spacingAndGlyphs" fill="#1a1a1a">0</text>
<text x="43.9" y="239.61" font-size="14.2" text-anchor="end" stroke="#1a1a1a" stroke-width="0.3" textLength="15.2" lengthAdjust="spacingAndGlyphs" fill="#1a1a1a">20</text>
<text x="43.9" y="155.93" font-size="14.2" text-anchor="end" stroke="#1a1a1a" stroke-width="0.3" textLength="15.2" lengthAdjust="spacingAndGlyphs" fill="#1a1a1a">40</text>
<text x="43.9" y="72.24" font-size="14.2" text-anchor="end" stroke="#1a1a1a" stroke-width="0.3" textLength="15.2" lengthAdjust="spacingAndGlyphs" fill="#1a1a1a">60</text>
<text x="43.9" y="659.3" font-size="14.2" text-anchor="end" stroke="#1a1a1a" stroke-width="0.3" textLength="7.6" lengthAdjust="spacingAndGlyphs" fill="#1a1a1a">0</text>
<text x="43.9" y="575.61" font-size="14.2" text-anchor="end" stroke="#1a1a1a" stroke-width="0.3" textLength="15.2" lengthAdjust="spacingAndGlyphs" fill="#1a1a1a">20</text>
<text x="43.9" y="491.93" font-size="14.2" text-anchor="end" stroke="#1a1a1a" stroke-width="0.3" textLength="15.2" lengthAdjust="spacingAndGlyphs" fill="#1a1a1a">40</text>
<text x="43.9" y="408.24" font-size="14.2" text-anchor="end" stroke="#1a1a1a" stroke-width="0.3" textLength="15.2" lengthAdjust="spacingAndGlyphs" fill="#1a1a1a">60</text>
<text x="94.5" y="673.2" font-size="14.2" text-anchor="middle" stroke="#1a1a1a" stroke-width="0.3" textLength="24.2" lengthAdjust="spacingAndGlyphs" fill="#1a1a1a">800</text>
<text x="152.5" y="673.2" font-size="14.2" text-anchor="middle" stroke="#1a1a1a" stroke-width="0.3" textLength="32.3" lengthAdjust="spacingAndGlyphs" fill="#1a1a1a">1000</text>
<text x="210.5" y="673.2" font-size="14.2" text-anchor="middle" stroke="#1a1a1a" stroke-width="0.3" textLength="32.3" lengthAdjust="spacingAndGlyphs" fill="#1a1a1a">1200</text>
<text x="268.5" y="673.2" font-size="14.2" text-anchor="middle" stroke="#1a1a1a" stroke-width="0.3" textLength="32.3" lengthAdjust="spacingAndGlyphs" fill="#1a1a1a">1400</text>
<text x="326.5" y="673.2" font-size="14.2" text-anchor="middle" stroke="#1a1a1a" stroke-width="0.3" textLength="32.3" lengthAdjust="spacingAndGlyphs" fill="#1a1a1a">1600</text>
<text x="420.81" y="673.2" font-size="14.2" text-anchor="middle" stroke="#1a1a1a" stroke-width="0.3" textLength="24.2" lengthAdjust="spacingAndGlyphs" fill="#1a1a1a">800</text>
<text x="478.7" y="673.2" font-size="14.2" text-anchor="middle" stroke="#1a1a1a" stroke-width="0.3" textLength="32.3" lengthAdjust="spacingAndGlyphs" fill="#1a1a1a">1000</text>
<text x="536.59" y="673.2" font-size="14.2" text-anchor="middle" stroke="#1a1a1a" stroke-width="0.3" textLength="32.3" lengthAdjust="spacingAndGlyphs" fill="#1a1a1a">1200</text>
<text x="594.47" y="673.2" font-size="14.2" text-anchor="middle" stroke="#1a1a1a" stroke-width="0.3" textLength="32.3" lengthAdjust="spacingAndGlyphs" fill="#1a1a1a">1400</text>
<text x="652.36" y="673.2" font-size="14.2" text-anchor="middle" stroke="#1a1a1a" stroke-width="0.3" textLength="32.3" lengthAdjust="spacingAndGlyphs" fill="#1a1a1a">1600</text>
<text x="203.4" y="694.5" font-size="13.5" text-anchor="middle" stroke="#1a1a1a" stroke-width="0.3" textLength="106.5" lengthAdjust="spacingAndGlyphs" fill="#1a1a1a">Wavelength (nm)</text>
<text x="529.7" y="694.5" font-size="13.5" text-anchor="middle" stroke="#1a1a1a" stroke-width="0.3" textLength="106.5" lengthAdjust="spacingAndGlyphs" fill="#1a1a1a">Wavelength (nm)</text>
<text x="11.5" y="173.1" font-size="13.5" text-anchor="middle" stroke="#1a1a1a" stroke-width="0.3" textLength="129.6" lengthAdjust="spacingAndGlyphs" transform="rotate(-90 11.5 173.1)" fill="#1a1a1a">Responsivity (mA/W)</text>
<text x="11.5" y="509.1" font-size="13.5" text-anchor="middle" stroke="#1a1a1a" stroke-width="0.3" textLength="129.6" lengthAdjust="spacingAndGlyphs" transform="rotate(-90 11.5 509.1)" fill="#1a1a1a">Responsivity (mA/W)</text>
<text x="340.8" y="255.8" font-size="14.3" text-anchor="start" stroke="#1a1a1a" stroke-width="0.3" textLength="51.3" lengthAdjust="spacingAndGlyphs" transform="rotate(-90 340.8 255.8)" fill="#1a1a1a">Baseline</text>
<text x="668.9" y="255.9" font-size="14.3" text-anchor="start" stroke="#1a1a1a" stroke-width="0.3" textLength="179.1" lengthAdjust="spacingAndGlyphs" transform="rotate(-90 668.9 255.9)" fill="#1a1a1a">Baseline from reference data</text>
<text x="342.4" y="587.9" font-size="14.3" text-anchor="start" stroke="#1a1a1a" stroke-width="0.3" textLength="180.3" lengthAdjust="spacingAndGlyphs" transform="rotate(-90 342.4 587.9)" fill="#1a1a1a">Baseline from reference data</text>
<text x="669.0" y="587.9" font-size="14.3" text-anchor="start" stroke="#1a1a1a" stroke-width="0.3" textLength="180.3" lengthAdjust="spacingAndGlyphs" transform="rotate(-90 669.0 587.9)" fill="#1a1a1a">Baseline from reference data</text>
<path d="M335.3,262.9 V296.1" stroke="#444" stroke-width="2.3" stroke-dasharray="4.8 4.5" fill="none"/>
<path d="M663.1,263.0 V296.4" stroke="#444" stroke-width="2.3" stroke-dasharray="4.8 4.5" fill="none"/>
<path d="M336.0,594.8 V629.3" stroke="#444" stroke-width="2.3" stroke-dasharray="4.8 4.5" fill="none"/>
<path d="M662.4,594.8 V629.3" stroke="#444" stroke-width="2.3" stroke-dasharray="4.8 4.5" fill="none"/>
</svg>
</body></html>
